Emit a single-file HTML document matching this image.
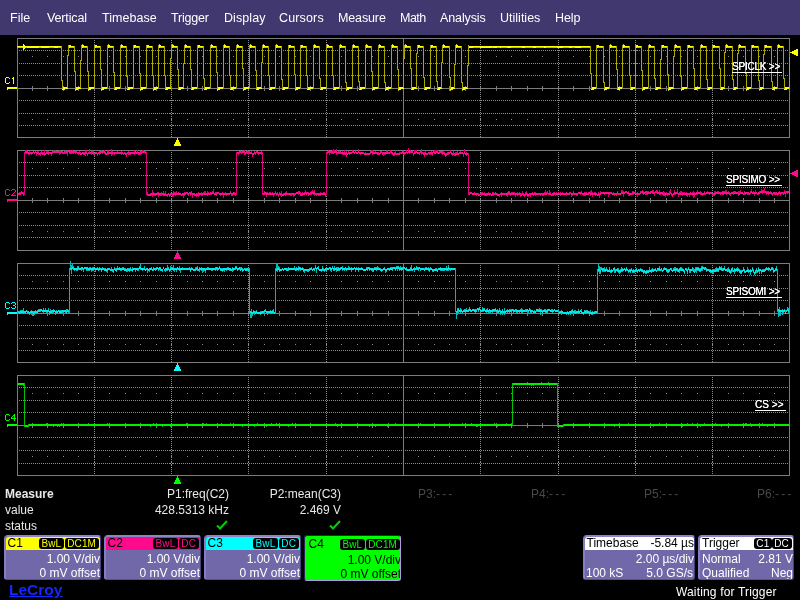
<!DOCTYPE html>
<html><head><meta charset="utf-8"><title>LeCroy</title>
<style>
html,body{margin:0;padding:0;background:#000;}
body{width:800px;height:600px;position:relative;overflow:hidden;font-family:"Liberation Sans",sans-serif;color:#fff;}
#menu{position:absolute;left:0;top:0;width:800px;height:35px;background:#40386e;}
#menu span{position:absolute;top:10px;font-size:12.5px;line-height:16px;color:#fff;white-space:nowrap;}
.lbl,.tl,.m,.ch,.tb,#menu span,.lc{will-change:transform}
.lbl{position:absolute;font-size:10px;line-height:12px;white-space:nowrap;letter-spacing:-0.4px}
.tl{position:absolute;font-size:10px;line-height:11px;color:#fff;text-shadow:0 0 0 #fff;letter-spacing:-0.22px;white-space:nowrap;border-bottom:1px solid #fff;padding-right:2px}
.m{position:absolute;font-size:12px;line-height:14px;white-space:nowrap;color:#e8e8e8}
.r{text-align:right;width:140px}
.g{color:#484848;word-spacing:-1.2px}
.ch{position:absolute;width:97px;height:45px;background:#7068a8;box-sizing:border-box;border-style:solid;border-width:2px 1px 1px 2px;border-color:#8c84c8 #484078 #585090 #867ec2;border-radius:4px 3px 3px 3px;overflow:hidden}
.ch.act{height:46px;border-width:1px;border-color:#2c2458 #b898e0 #b898e0 #2c2458;border-radius:3px}
.ch .in{position:absolute;left:0;top:0;width:94px;height:42px}
.ch.act .in{left:2px;top:2px}
.ch .hd{position:absolute;left:0;top:0;width:94px;height:13px;border-radius:2px 2px 0 0}
.ch .hd i{position:absolute;left:1.5px;top:-1px;font-style:normal;font-size:12px;line-height:14px;color:#000}
.tg{position:absolute;right:1.5px;top:1px;height:11px;white-space:nowrap;font-size:0}
.tg b{display:inline-block;background:#000;font-weight:normal;font-size:10px;line-height:11px;height:11px;padding:0 2.5px;border-radius:3px;margin-left:1px;letter-spacing:0.1px}
.ch .ln{position:absolute;right:0;font-size:12px;line-height:14px;color:#fff;white-space:nowrap}
.ch .ln:nth-child(2){top:14.5px} .ch .ln:nth-child(3){top:29px}
.tb{position:absolute;top:535px;height:45px;background:#7068a8;box-sizing:border-box;border-style:solid;border-width:2px 1px 1px 2px;border-color:#8c84c8 #484078 #585090 #867ec2;border-radius:4px 3px 3px 3px;overflow:hidden;font-size:12px;line-height:14px;color:#fff}
.tb .hd{position:absolute;left:0;top:0;right:0;height:13px;background:#fff;color:#000;border-radius:2px 2px 0 0}
.tb span{position:absolute;white-space:nowrap}
.tb .k{background:#000;color:#fff;font-size:10px;line-height:11px;height:11px;padding:0 2.5px;border-radius:3px;top:1px;letter-spacing:0.2px}
</style></head><body>
<div id="menu"><span style="left:9.56px;letter-spacing:0.03px">File</span><span style="left:46.87px;letter-spacing:-0.13px">Vertical</span><span style="left:101.56px;letter-spacing:0.04px">Timebase</span><span style="left:171.3px;letter-spacing:-0.19px">Trigger</span><span style="left:223.56px;letter-spacing:0.08px">Display</span><span style="left:279.0px;letter-spacing:0.15px">Cursors</span><span style="left:337.84px;letter-spacing:-0.13px">Measure</span><span style="left:399.84px;letter-spacing:-0.52px">Math</span><span style="left:439.93px;letter-spacing:-0.11px">Analysis</span><span style="left:499.79px;letter-spacing:0.01px">Utilities</span><span style="left:554.82px;letter-spacing:-0.07px">Help</span></div>
<svg width="800" height="600" viewBox="0 0 800 600" style="position:absolute;left:0;top:0" shape-rendering="crispEdges"><rect x="17" y="38" width="773" height="1" fill="#7c7c7c"/>
<rect x="17" y="137" width="773" height="1" fill="#7c7c7c"/>
<rect x="17" y="38" width="1" height="100" fill="#7c7c7c"/>
<rect x="789" y="38" width="1" height="100" fill="#7c7c7c"/>
<rect x="17" y="88" width="772" height="1" fill="#7c7c7c"/>
<rect x="403" y="38" width="1" height="99" fill="#7c7c7c"/>
<rect x="32" y="86" width="1" height="5" fill="#7c7c7c"/>
<rect x="47" y="86" width="1" height="5" fill="#7c7c7c"/>
<rect x="63" y="86" width="1" height="5" fill="#7c7c7c"/>
<rect x="78" y="86" width="1" height="5" fill="#7c7c7c"/>
<rect x="94" y="86" width="1" height="5" fill="#7c7c7c"/>
<rect x="109" y="86" width="1" height="5" fill="#7c7c7c"/>
<rect x="125" y="86" width="1" height="5" fill="#7c7c7c"/>
<rect x="140" y="86" width="1" height="5" fill="#7c7c7c"/>
<rect x="156" y="86" width="1" height="5" fill="#7c7c7c"/>
<rect x="171" y="86" width="1" height="5" fill="#7c7c7c"/>
<rect x="187" y="86" width="1" height="5" fill="#7c7c7c"/>
<rect x="202" y="86" width="1" height="5" fill="#7c7c7c"/>
<rect x="217" y="86" width="1" height="5" fill="#7c7c7c"/>
<rect x="233" y="86" width="1" height="5" fill="#7c7c7c"/>
<rect x="248" y="86" width="1" height="5" fill="#7c7c7c"/>
<rect x="264" y="86" width="1" height="5" fill="#7c7c7c"/>
<rect x="279" y="86" width="1" height="5" fill="#7c7c7c"/>
<rect x="295" y="86" width="1" height="5" fill="#7c7c7c"/>
<rect x="310" y="86" width="1" height="5" fill="#7c7c7c"/>
<rect x="326" y="86" width="1" height="5" fill="#7c7c7c"/>
<rect x="341" y="86" width="1" height="5" fill="#7c7c7c"/>
<rect x="357" y="86" width="1" height="5" fill="#7c7c7c"/>
<rect x="372" y="86" width="1" height="5" fill="#7c7c7c"/>
<rect x="388" y="86" width="1" height="5" fill="#7c7c7c"/>
<rect x="403" y="86" width="1" height="5" fill="#7c7c7c"/>
<rect x="418" y="86" width="1" height="5" fill="#7c7c7c"/>
<rect x="434" y="86" width="1" height="5" fill="#7c7c7c"/>
<rect x="449" y="86" width="1" height="5" fill="#7c7c7c"/>
<rect x="465" y="86" width="1" height="5" fill="#7c7c7c"/>
<rect x="480" y="86" width="1" height="5" fill="#7c7c7c"/>
<rect x="496" y="86" width="1" height="5" fill="#7c7c7c"/>
<rect x="511" y="86" width="1" height="5" fill="#7c7c7c"/>
<rect x="527" y="86" width="1" height="5" fill="#7c7c7c"/>
<rect x="542" y="86" width="1" height="5" fill="#7c7c7c"/>
<rect x="558" y="86" width="1" height="5" fill="#7c7c7c"/>
<rect x="573" y="86" width="1" height="5" fill="#7c7c7c"/>
<rect x="589" y="86" width="1" height="5" fill="#7c7c7c"/>
<rect x="604" y="86" width="1" height="5" fill="#7c7c7c"/>
<rect x="619" y="86" width="1" height="5" fill="#7c7c7c"/>
<rect x="635" y="86" width="1" height="5" fill="#7c7c7c"/>
<rect x="650" y="86" width="1" height="5" fill="#7c7c7c"/>
<rect x="666" y="86" width="1" height="5" fill="#7c7c7c"/>
<rect x="681" y="86" width="1" height="5" fill="#7c7c7c"/>
<rect x="697" y="86" width="1" height="5" fill="#7c7c7c"/>
<rect x="712" y="86" width="1" height="5" fill="#7c7c7c"/>
<rect x="728" y="86" width="1" height="5" fill="#7c7c7c"/>
<rect x="743" y="86" width="1" height="5" fill="#7c7c7c"/>
<rect x="759" y="86" width="1" height="5" fill="#7c7c7c"/>
<rect x="774" y="86" width="1" height="5" fill="#7c7c7c"/>
<line x1="19" y1="50.5" x2="789" y2="50.5" stroke="#8c8c8c" stroke-width="1" stroke-dasharray="1 1"/>
<line x1="19" y1="63.5" x2="789" y2="63.5" stroke="#8c8c8c" stroke-width="1" stroke-dasharray="1 1"/>
<line x1="19" y1="75.5" x2="789" y2="75.5" stroke="#8c8c8c" stroke-width="1" stroke-dasharray="1 1"/>
<line x1="19" y1="100.5" x2="789" y2="100.5" stroke="#8c8c8c" stroke-width="1" stroke-dasharray="1 1"/>
<line x1="19" y1="113.5" x2="789" y2="113.5" stroke="#8c8c8c" stroke-width="1" stroke-dasharray="1 1"/>
<line x1="19" y1="125.5" x2="789" y2="125.5" stroke="#8c8c8c" stroke-width="1" stroke-dasharray="1 1"/>
<line x1="94.5" y1="40" x2="94.5" y2="137" stroke="#8c8c8c" stroke-width="1" stroke-dasharray="1 1"/>
<rect x="93" y="50" width="3" height="1" fill="#8c8c8c"/>
<rect x="93" y="63" width="3" height="1" fill="#8c8c8c"/>
<rect x="94" y="62" width="1" height="3" fill="#8c8c8c"/>
<rect x="94" y="63" width="1" height="1" fill="#000"/>
<rect x="93" y="75" width="3" height="1" fill="#8c8c8c"/>
<rect x="94" y="74" width="1" height="3" fill="#8c8c8c"/>
<rect x="94" y="75" width="1" height="1" fill="#000"/>
<rect x="93" y="100" width="3" height="1" fill="#8c8c8c"/>
<rect x="93" y="113" width="3" height="1" fill="#8c8c8c"/>
<rect x="94" y="112" width="1" height="3" fill="#8c8c8c"/>
<rect x="94" y="113" width="1" height="1" fill="#000"/>
<rect x="93" y="125" width="3" height="1" fill="#8c8c8c"/>
<rect x="94" y="124" width="1" height="3" fill="#8c8c8c"/>
<rect x="94" y="125" width="1" height="1" fill="#000"/>
<line x1="171.5" y1="40" x2="171.5" y2="137" stroke="#8c8c8c" stroke-width="1" stroke-dasharray="1 1"/>
<rect x="170" y="50" width="3" height="1" fill="#8c8c8c"/>
<rect x="170" y="63" width="3" height="1" fill="#8c8c8c"/>
<rect x="171" y="62" width="1" height="3" fill="#8c8c8c"/>
<rect x="171" y="63" width="1" height="1" fill="#000"/>
<rect x="170" y="75" width="3" height="1" fill="#8c8c8c"/>
<rect x="171" y="74" width="1" height="3" fill="#8c8c8c"/>
<rect x="171" y="75" width="1" height="1" fill="#000"/>
<rect x="170" y="100" width="3" height="1" fill="#8c8c8c"/>
<rect x="170" y="113" width="3" height="1" fill="#8c8c8c"/>
<rect x="171" y="112" width="1" height="3" fill="#8c8c8c"/>
<rect x="171" y="113" width="1" height="1" fill="#000"/>
<rect x="170" y="125" width="3" height="1" fill="#8c8c8c"/>
<rect x="171" y="124" width="1" height="3" fill="#8c8c8c"/>
<rect x="171" y="125" width="1" height="1" fill="#000"/>
<line x1="248.5" y1="40" x2="248.5" y2="137" stroke="#8c8c8c" stroke-width="1" stroke-dasharray="1 1"/>
<rect x="247" y="50" width="3" height="1" fill="#8c8c8c"/>
<rect x="247" y="63" width="3" height="1" fill="#8c8c8c"/>
<rect x="248" y="62" width="1" height="3" fill="#8c8c8c"/>
<rect x="248" y="63" width="1" height="1" fill="#000"/>
<rect x="247" y="75" width="3" height="1" fill="#8c8c8c"/>
<rect x="248" y="74" width="1" height="3" fill="#8c8c8c"/>
<rect x="248" y="75" width="1" height="1" fill="#000"/>
<rect x="247" y="100" width="3" height="1" fill="#8c8c8c"/>
<rect x="247" y="113" width="3" height="1" fill="#8c8c8c"/>
<rect x="248" y="112" width="1" height="3" fill="#8c8c8c"/>
<rect x="248" y="113" width="1" height="1" fill="#000"/>
<rect x="247" y="125" width="3" height="1" fill="#8c8c8c"/>
<rect x="248" y="124" width="1" height="3" fill="#8c8c8c"/>
<rect x="248" y="125" width="1" height="1" fill="#000"/>
<line x1="326.5" y1="40" x2="326.5" y2="137" stroke="#8c8c8c" stroke-width="1" stroke-dasharray="1 1"/>
<rect x="325" y="50" width="3" height="1" fill="#8c8c8c"/>
<rect x="325" y="63" width="3" height="1" fill="#8c8c8c"/>
<rect x="326" y="62" width="1" height="3" fill="#8c8c8c"/>
<rect x="326" y="63" width="1" height="1" fill="#000"/>
<rect x="325" y="75" width="3" height="1" fill="#8c8c8c"/>
<rect x="326" y="74" width="1" height="3" fill="#8c8c8c"/>
<rect x="326" y="75" width="1" height="1" fill="#000"/>
<rect x="325" y="100" width="3" height="1" fill="#8c8c8c"/>
<rect x="325" y="113" width="3" height="1" fill="#8c8c8c"/>
<rect x="326" y="112" width="1" height="3" fill="#8c8c8c"/>
<rect x="326" y="113" width="1" height="1" fill="#000"/>
<rect x="325" y="125" width="3" height="1" fill="#8c8c8c"/>
<rect x="326" y="124" width="1" height="3" fill="#8c8c8c"/>
<rect x="326" y="125" width="1" height="1" fill="#000"/>
<line x1="480.5" y1="40" x2="480.5" y2="137" stroke="#8c8c8c" stroke-width="1" stroke-dasharray="1 1"/>
<rect x="479" y="50" width="3" height="1" fill="#8c8c8c"/>
<rect x="479" y="63" width="3" height="1" fill="#8c8c8c"/>
<rect x="480" y="62" width="1" height="3" fill="#8c8c8c"/>
<rect x="480" y="63" width="1" height="1" fill="#000"/>
<rect x="479" y="75" width="3" height="1" fill="#8c8c8c"/>
<rect x="480" y="74" width="1" height="3" fill="#8c8c8c"/>
<rect x="480" y="75" width="1" height="1" fill="#000"/>
<rect x="479" y="100" width="3" height="1" fill="#8c8c8c"/>
<rect x="479" y="113" width="3" height="1" fill="#8c8c8c"/>
<rect x="480" y="112" width="1" height="3" fill="#8c8c8c"/>
<rect x="480" y="113" width="1" height="1" fill="#000"/>
<rect x="479" y="125" width="3" height="1" fill="#8c8c8c"/>
<rect x="480" y="124" width="1" height="3" fill="#8c8c8c"/>
<rect x="480" y="125" width="1" height="1" fill="#000"/>
<line x1="558.5" y1="40" x2="558.5" y2="137" stroke="#8c8c8c" stroke-width="1" stroke-dasharray="1 1"/>
<rect x="557" y="50" width="3" height="1" fill="#8c8c8c"/>
<rect x="557" y="63" width="3" height="1" fill="#8c8c8c"/>
<rect x="558" y="62" width="1" height="3" fill="#8c8c8c"/>
<rect x="558" y="63" width="1" height="1" fill="#000"/>
<rect x="557" y="75" width="3" height="1" fill="#8c8c8c"/>
<rect x="558" y="74" width="1" height="3" fill="#8c8c8c"/>
<rect x="558" y="75" width="1" height="1" fill="#000"/>
<rect x="557" y="100" width="3" height="1" fill="#8c8c8c"/>
<rect x="557" y="113" width="3" height="1" fill="#8c8c8c"/>
<rect x="558" y="112" width="1" height="3" fill="#8c8c8c"/>
<rect x="558" y="113" width="1" height="1" fill="#000"/>
<rect x="557" y="125" width="3" height="1" fill="#8c8c8c"/>
<rect x="558" y="124" width="1" height="3" fill="#8c8c8c"/>
<rect x="558" y="125" width="1" height="1" fill="#000"/>
<line x1="635.5" y1="40" x2="635.5" y2="137" stroke="#8c8c8c" stroke-width="1" stroke-dasharray="1 1"/>
<rect x="634" y="50" width="3" height="1" fill="#8c8c8c"/>
<rect x="634" y="63" width="3" height="1" fill="#8c8c8c"/>
<rect x="635" y="62" width="1" height="3" fill="#8c8c8c"/>
<rect x="635" y="63" width="1" height="1" fill="#000"/>
<rect x="634" y="75" width="3" height="1" fill="#8c8c8c"/>
<rect x="635" y="74" width="1" height="3" fill="#8c8c8c"/>
<rect x="635" y="75" width="1" height="1" fill="#000"/>
<rect x="634" y="100" width="3" height="1" fill="#8c8c8c"/>
<rect x="634" y="113" width="3" height="1" fill="#8c8c8c"/>
<rect x="635" y="112" width="1" height="3" fill="#8c8c8c"/>
<rect x="635" y="113" width="1" height="1" fill="#000"/>
<rect x="634" y="125" width="3" height="1" fill="#8c8c8c"/>
<rect x="635" y="124" width="1" height="3" fill="#8c8c8c"/>
<rect x="635" y="125" width="1" height="1" fill="#000"/>
<line x1="712.5" y1="40" x2="712.5" y2="137" stroke="#8c8c8c" stroke-width="1" stroke-dasharray="1 1"/>
<rect x="711" y="50" width="3" height="1" fill="#8c8c8c"/>
<rect x="711" y="63" width="3" height="1" fill="#8c8c8c"/>
<rect x="712" y="62" width="1" height="3" fill="#8c8c8c"/>
<rect x="712" y="63" width="1" height="1" fill="#000"/>
<rect x="711" y="75" width="3" height="1" fill="#8c8c8c"/>
<rect x="712" y="74" width="1" height="3" fill="#8c8c8c"/>
<rect x="712" y="75" width="1" height="1" fill="#000"/>
<rect x="711" y="100" width="3" height="1" fill="#8c8c8c"/>
<rect x="711" y="113" width="3" height="1" fill="#8c8c8c"/>
<rect x="712" y="112" width="1" height="3" fill="#8c8c8c"/>
<rect x="712" y="113" width="1" height="1" fill="#000"/>
<rect x="711" y="125" width="3" height="1" fill="#8c8c8c"/>
<rect x="712" y="124" width="1" height="3" fill="#8c8c8c"/>
<rect x="712" y="125" width="1" height="1" fill="#000"/>
<rect x="32" y="56" width="1" height="1" fill="#8c8c8c"/>
<rect x="47" y="56" width="1" height="1" fill="#8c8c8c"/>
<rect x="63" y="56" width="1" height="1" fill="#8c8c8c"/>
<rect x="78" y="56" width="1" height="1" fill="#8c8c8c"/>
<rect x="94" y="56" width="1" height="1" fill="#8c8c8c"/>
<rect x="109" y="56" width="1" height="1" fill="#8c8c8c"/>
<rect x="125" y="56" width="1" height="1" fill="#8c8c8c"/>
<rect x="140" y="56" width="1" height="1" fill="#8c8c8c"/>
<rect x="156" y="56" width="1" height="1" fill="#8c8c8c"/>
<rect x="171" y="56" width="1" height="1" fill="#8c8c8c"/>
<rect x="187" y="56" width="1" height="1" fill="#8c8c8c"/>
<rect x="202" y="56" width="1" height="1" fill="#8c8c8c"/>
<rect x="217" y="56" width="1" height="1" fill="#8c8c8c"/>
<rect x="233" y="56" width="1" height="1" fill="#8c8c8c"/>
<rect x="248" y="56" width="1" height="1" fill="#8c8c8c"/>
<rect x="264" y="56" width="1" height="1" fill="#8c8c8c"/>
<rect x="279" y="56" width="1" height="1" fill="#8c8c8c"/>
<rect x="295" y="56" width="1" height="1" fill="#8c8c8c"/>
<rect x="310" y="56" width="1" height="1" fill="#8c8c8c"/>
<rect x="326" y="56" width="1" height="1" fill="#8c8c8c"/>
<rect x="341" y="56" width="1" height="1" fill="#8c8c8c"/>
<rect x="357" y="56" width="1" height="1" fill="#8c8c8c"/>
<rect x="372" y="56" width="1" height="1" fill="#8c8c8c"/>
<rect x="388" y="56" width="1" height="1" fill="#8c8c8c"/>
<rect x="403" y="56" width="1" height="1" fill="#8c8c8c"/>
<rect x="418" y="56" width="1" height="1" fill="#8c8c8c"/>
<rect x="434" y="56" width="1" height="1" fill="#8c8c8c"/>
<rect x="449" y="56" width="1" height="1" fill="#8c8c8c"/>
<rect x="465" y="56" width="1" height="1" fill="#8c8c8c"/>
<rect x="480" y="56" width="1" height="1" fill="#8c8c8c"/>
<rect x="496" y="56" width="1" height="1" fill="#8c8c8c"/>
<rect x="511" y="56" width="1" height="1" fill="#8c8c8c"/>
<rect x="527" y="56" width="1" height="1" fill="#8c8c8c"/>
<rect x="542" y="56" width="1" height="1" fill="#8c8c8c"/>
<rect x="558" y="56" width="1" height="1" fill="#8c8c8c"/>
<rect x="573" y="56" width="1" height="1" fill="#8c8c8c"/>
<rect x="589" y="56" width="1" height="1" fill="#8c8c8c"/>
<rect x="604" y="56" width="1" height="1" fill="#8c8c8c"/>
<rect x="619" y="56" width="1" height="1" fill="#8c8c8c"/>
<rect x="635" y="56" width="1" height="1" fill="#8c8c8c"/>
<rect x="650" y="56" width="1" height="1" fill="#8c8c8c"/>
<rect x="666" y="56" width="1" height="1" fill="#8c8c8c"/>
<rect x="681" y="56" width="1" height="1" fill="#8c8c8c"/>
<rect x="697" y="56" width="1" height="1" fill="#8c8c8c"/>
<rect x="712" y="56" width="1" height="1" fill="#8c8c8c"/>
<rect x="728" y="56" width="1" height="1" fill="#8c8c8c"/>
<rect x="743" y="56" width="1" height="1" fill="#8c8c8c"/>
<rect x="759" y="56" width="1" height="1" fill="#8c8c8c"/>
<rect x="774" y="56" width="1" height="1" fill="#8c8c8c"/>
<rect x="32" y="119" width="1" height="1" fill="#8c8c8c"/>
<rect x="47" y="119" width="1" height="1" fill="#8c8c8c"/>
<rect x="63" y="119" width="1" height="1" fill="#8c8c8c"/>
<rect x="78" y="119" width="1" height="1" fill="#8c8c8c"/>
<rect x="94" y="119" width="1" height="1" fill="#8c8c8c"/>
<rect x="109" y="119" width="1" height="1" fill="#8c8c8c"/>
<rect x="125" y="119" width="1" height="1" fill="#8c8c8c"/>
<rect x="140" y="119" width="1" height="1" fill="#8c8c8c"/>
<rect x="156" y="119" width="1" height="1" fill="#8c8c8c"/>
<rect x="171" y="119" width="1" height="1" fill="#8c8c8c"/>
<rect x="187" y="119" width="1" height="1" fill="#8c8c8c"/>
<rect x="202" y="119" width="1" height="1" fill="#8c8c8c"/>
<rect x="217" y="119" width="1" height="1" fill="#8c8c8c"/>
<rect x="233" y="119" width="1" height="1" fill="#8c8c8c"/>
<rect x="248" y="119" width="1" height="1" fill="#8c8c8c"/>
<rect x="264" y="119" width="1" height="1" fill="#8c8c8c"/>
<rect x="279" y="119" width="1" height="1" fill="#8c8c8c"/>
<rect x="295" y="119" width="1" height="1" fill="#8c8c8c"/>
<rect x="310" y="119" width="1" height="1" fill="#8c8c8c"/>
<rect x="326" y="119" width="1" height="1" fill="#8c8c8c"/>
<rect x="341" y="119" width="1" height="1" fill="#8c8c8c"/>
<rect x="357" y="119" width="1" height="1" fill="#8c8c8c"/>
<rect x="372" y="119" width="1" height="1" fill="#8c8c8c"/>
<rect x="388" y="119" width="1" height="1" fill="#8c8c8c"/>
<rect x="403" y="119" width="1" height="1" fill="#8c8c8c"/>
<rect x="418" y="119" width="1" height="1" fill="#8c8c8c"/>
<rect x="434" y="119" width="1" height="1" fill="#8c8c8c"/>
<rect x="449" y="119" width="1" height="1" fill="#8c8c8c"/>
<rect x="465" y="119" width="1" height="1" fill="#8c8c8c"/>
<rect x="480" y="119" width="1" height="1" fill="#8c8c8c"/>
<rect x="496" y="119" width="1" height="1" fill="#8c8c8c"/>
<rect x="511" y="119" width="1" height="1" fill="#8c8c8c"/>
<rect x="527" y="119" width="1" height="1" fill="#8c8c8c"/>
<rect x="542" y="119" width="1" height="1" fill="#8c8c8c"/>
<rect x="558" y="119" width="1" height="1" fill="#8c8c8c"/>
<rect x="573" y="119" width="1" height="1" fill="#8c8c8c"/>
<rect x="589" y="119" width="1" height="1" fill="#8c8c8c"/>
<rect x="604" y="119" width="1" height="1" fill="#8c8c8c"/>
<rect x="619" y="119" width="1" height="1" fill="#8c8c8c"/>
<rect x="635" y="119" width="1" height="1" fill="#8c8c8c"/>
<rect x="650" y="119" width="1" height="1" fill="#8c8c8c"/>
<rect x="666" y="119" width="1" height="1" fill="#8c8c8c"/>
<rect x="681" y="119" width="1" height="1" fill="#8c8c8c"/>
<rect x="697" y="119" width="1" height="1" fill="#8c8c8c"/>
<rect x="712" y="119" width="1" height="1" fill="#8c8c8c"/>
<rect x="728" y="119" width="1" height="1" fill="#8c8c8c"/>
<rect x="743" y="119" width="1" height="1" fill="#8c8c8c"/>
<rect x="759" y="119" width="1" height="1" fill="#8c8c8c"/>
<rect x="774" y="119" width="1" height="1" fill="#8c8c8c"/>
<rect x="17" y="150" width="773" height="1" fill="#7c7c7c"/>
<rect x="17" y="250" width="773" height="1" fill="#7c7c7c"/>
<rect x="17" y="150" width="1" height="101" fill="#7c7c7c"/>
<rect x="789" y="150" width="1" height="101" fill="#7c7c7c"/>
<rect x="17" y="200" width="772" height="1" fill="#7c7c7c"/>
<rect x="403" y="150" width="1" height="100" fill="#7c7c7c"/>
<rect x="32" y="198" width="1" height="5" fill="#7c7c7c"/>
<rect x="47" y="198" width="1" height="5" fill="#7c7c7c"/>
<rect x="63" y="198" width="1" height="5" fill="#7c7c7c"/>
<rect x="78" y="198" width="1" height="5" fill="#7c7c7c"/>
<rect x="94" y="198" width="1" height="5" fill="#7c7c7c"/>
<rect x="109" y="198" width="1" height="5" fill="#7c7c7c"/>
<rect x="125" y="198" width="1" height="5" fill="#7c7c7c"/>
<rect x="140" y="198" width="1" height="5" fill="#7c7c7c"/>
<rect x="156" y="198" width="1" height="5" fill="#7c7c7c"/>
<rect x="171" y="198" width="1" height="5" fill="#7c7c7c"/>
<rect x="187" y="198" width="1" height="5" fill="#7c7c7c"/>
<rect x="202" y="198" width="1" height="5" fill="#7c7c7c"/>
<rect x="217" y="198" width="1" height="5" fill="#7c7c7c"/>
<rect x="233" y="198" width="1" height="5" fill="#7c7c7c"/>
<rect x="248" y="198" width="1" height="5" fill="#7c7c7c"/>
<rect x="264" y="198" width="1" height="5" fill="#7c7c7c"/>
<rect x="279" y="198" width="1" height="5" fill="#7c7c7c"/>
<rect x="295" y="198" width="1" height="5" fill="#7c7c7c"/>
<rect x="310" y="198" width="1" height="5" fill="#7c7c7c"/>
<rect x="326" y="198" width="1" height="5" fill="#7c7c7c"/>
<rect x="341" y="198" width="1" height="5" fill="#7c7c7c"/>
<rect x="357" y="198" width="1" height="5" fill="#7c7c7c"/>
<rect x="372" y="198" width="1" height="5" fill="#7c7c7c"/>
<rect x="388" y="198" width="1" height="5" fill="#7c7c7c"/>
<rect x="403" y="198" width="1" height="5" fill="#7c7c7c"/>
<rect x="418" y="198" width="1" height="5" fill="#7c7c7c"/>
<rect x="434" y="198" width="1" height="5" fill="#7c7c7c"/>
<rect x="449" y="198" width="1" height="5" fill="#7c7c7c"/>
<rect x="465" y="198" width="1" height="5" fill="#7c7c7c"/>
<rect x="480" y="198" width="1" height="5" fill="#7c7c7c"/>
<rect x="496" y="198" width="1" height="5" fill="#7c7c7c"/>
<rect x="511" y="198" width="1" height="5" fill="#7c7c7c"/>
<rect x="527" y="198" width="1" height="5" fill="#7c7c7c"/>
<rect x="542" y="198" width="1" height="5" fill="#7c7c7c"/>
<rect x="558" y="198" width="1" height="5" fill="#7c7c7c"/>
<rect x="573" y="198" width="1" height="5" fill="#7c7c7c"/>
<rect x="589" y="198" width="1" height="5" fill="#7c7c7c"/>
<rect x="604" y="198" width="1" height="5" fill="#7c7c7c"/>
<rect x="619" y="198" width="1" height="5" fill="#7c7c7c"/>
<rect x="635" y="198" width="1" height="5" fill="#7c7c7c"/>
<rect x="650" y="198" width="1" height="5" fill="#7c7c7c"/>
<rect x="666" y="198" width="1" height="5" fill="#7c7c7c"/>
<rect x="681" y="198" width="1" height="5" fill="#7c7c7c"/>
<rect x="697" y="198" width="1" height="5" fill="#7c7c7c"/>
<rect x="712" y="198" width="1" height="5" fill="#7c7c7c"/>
<rect x="728" y="198" width="1" height="5" fill="#7c7c7c"/>
<rect x="743" y="198" width="1" height="5" fill="#7c7c7c"/>
<rect x="759" y="198" width="1" height="5" fill="#7c7c7c"/>
<rect x="774" y="198" width="1" height="5" fill="#7c7c7c"/>
<line x1="19" y1="162.5" x2="789" y2="162.5" stroke="#8c8c8c" stroke-width="1" stroke-dasharray="1 1"/>
<line x1="19" y1="175.5" x2="789" y2="175.5" stroke="#8c8c8c" stroke-width="1" stroke-dasharray="1 1"/>
<line x1="19" y1="187.5" x2="789" y2="187.5" stroke="#8c8c8c" stroke-width="1" stroke-dasharray="1 1"/>
<line x1="19" y1="212.5" x2="789" y2="212.5" stroke="#8c8c8c" stroke-width="1" stroke-dasharray="1 1"/>
<line x1="19" y1="225.5" x2="789" y2="225.5" stroke="#8c8c8c" stroke-width="1" stroke-dasharray="1 1"/>
<line x1="19" y1="237.5" x2="789" y2="237.5" stroke="#8c8c8c" stroke-width="1" stroke-dasharray="1 1"/>
<line x1="94.5" y1="152" x2="94.5" y2="250" stroke="#8c8c8c" stroke-width="1" stroke-dasharray="1 1"/>
<rect x="93" y="162" width="3" height="1" fill="#8c8c8c"/>
<rect x="93" y="175" width="3" height="1" fill="#8c8c8c"/>
<rect x="94" y="174" width="1" height="3" fill="#8c8c8c"/>
<rect x="94" y="175" width="1" height="1" fill="#000"/>
<rect x="93" y="187" width="3" height="1" fill="#8c8c8c"/>
<rect x="94" y="186" width="1" height="3" fill="#8c8c8c"/>
<rect x="94" y="187" width="1" height="1" fill="#000"/>
<rect x="93" y="212" width="3" height="1" fill="#8c8c8c"/>
<rect x="93" y="225" width="3" height="1" fill="#8c8c8c"/>
<rect x="94" y="224" width="1" height="3" fill="#8c8c8c"/>
<rect x="94" y="225" width="1" height="1" fill="#000"/>
<rect x="93" y="237" width="3" height="1" fill="#8c8c8c"/>
<rect x="94" y="236" width="1" height="3" fill="#8c8c8c"/>
<rect x="94" y="237" width="1" height="1" fill="#000"/>
<line x1="171.5" y1="152" x2="171.5" y2="250" stroke="#8c8c8c" stroke-width="1" stroke-dasharray="1 1"/>
<rect x="170" y="162" width="3" height="1" fill="#8c8c8c"/>
<rect x="170" y="175" width="3" height="1" fill="#8c8c8c"/>
<rect x="171" y="174" width="1" height="3" fill="#8c8c8c"/>
<rect x="171" y="175" width="1" height="1" fill="#000"/>
<rect x="170" y="187" width="3" height="1" fill="#8c8c8c"/>
<rect x="171" y="186" width="1" height="3" fill="#8c8c8c"/>
<rect x="171" y="187" width="1" height="1" fill="#000"/>
<rect x="170" y="212" width="3" height="1" fill="#8c8c8c"/>
<rect x="170" y="225" width="3" height="1" fill="#8c8c8c"/>
<rect x="171" y="224" width="1" height="3" fill="#8c8c8c"/>
<rect x="171" y="225" width="1" height="1" fill="#000"/>
<rect x="170" y="237" width="3" height="1" fill="#8c8c8c"/>
<rect x="171" y="236" width="1" height="3" fill="#8c8c8c"/>
<rect x="171" y="237" width="1" height="1" fill="#000"/>
<line x1="248.5" y1="152" x2="248.5" y2="250" stroke="#8c8c8c" stroke-width="1" stroke-dasharray="1 1"/>
<rect x="247" y="162" width="3" height="1" fill="#8c8c8c"/>
<rect x="247" y="175" width="3" height="1" fill="#8c8c8c"/>
<rect x="248" y="174" width="1" height="3" fill="#8c8c8c"/>
<rect x="248" y="175" width="1" height="1" fill="#000"/>
<rect x="247" y="187" width="3" height="1" fill="#8c8c8c"/>
<rect x="248" y="186" width="1" height="3" fill="#8c8c8c"/>
<rect x="248" y="187" width="1" height="1" fill="#000"/>
<rect x="247" y="212" width="3" height="1" fill="#8c8c8c"/>
<rect x="247" y="225" width="3" height="1" fill="#8c8c8c"/>
<rect x="248" y="224" width="1" height="3" fill="#8c8c8c"/>
<rect x="248" y="225" width="1" height="1" fill="#000"/>
<rect x="247" y="237" width="3" height="1" fill="#8c8c8c"/>
<rect x="248" y="236" width="1" height="3" fill="#8c8c8c"/>
<rect x="248" y="237" width="1" height="1" fill="#000"/>
<line x1="326.5" y1="152" x2="326.5" y2="250" stroke="#8c8c8c" stroke-width="1" stroke-dasharray="1 1"/>
<rect x="325" y="162" width="3" height="1" fill="#8c8c8c"/>
<rect x="325" y="175" width="3" height="1" fill="#8c8c8c"/>
<rect x="326" y="174" width="1" height="3" fill="#8c8c8c"/>
<rect x="326" y="175" width="1" height="1" fill="#000"/>
<rect x="325" y="187" width="3" height="1" fill="#8c8c8c"/>
<rect x="326" y="186" width="1" height="3" fill="#8c8c8c"/>
<rect x="326" y="187" width="1" height="1" fill="#000"/>
<rect x="325" y="212" width="3" height="1" fill="#8c8c8c"/>
<rect x="325" y="225" width="3" height="1" fill="#8c8c8c"/>
<rect x="326" y="224" width="1" height="3" fill="#8c8c8c"/>
<rect x="326" y="225" width="1" height="1" fill="#000"/>
<rect x="325" y="237" width="3" height="1" fill="#8c8c8c"/>
<rect x="326" y="236" width="1" height="3" fill="#8c8c8c"/>
<rect x="326" y="237" width="1" height="1" fill="#000"/>
<line x1="480.5" y1="152" x2="480.5" y2="250" stroke="#8c8c8c" stroke-width="1" stroke-dasharray="1 1"/>
<rect x="479" y="162" width="3" height="1" fill="#8c8c8c"/>
<rect x="479" y="175" width="3" height="1" fill="#8c8c8c"/>
<rect x="480" y="174" width="1" height="3" fill="#8c8c8c"/>
<rect x="480" y="175" width="1" height="1" fill="#000"/>
<rect x="479" y="187" width="3" height="1" fill="#8c8c8c"/>
<rect x="480" y="186" width="1" height="3" fill="#8c8c8c"/>
<rect x="480" y="187" width="1" height="1" fill="#000"/>
<rect x="479" y="212" width="3" height="1" fill="#8c8c8c"/>
<rect x="479" y="225" width="3" height="1" fill="#8c8c8c"/>
<rect x="480" y="224" width="1" height="3" fill="#8c8c8c"/>
<rect x="480" y="225" width="1" height="1" fill="#000"/>
<rect x="479" y="237" width="3" height="1" fill="#8c8c8c"/>
<rect x="480" y="236" width="1" height="3" fill="#8c8c8c"/>
<rect x="480" y="237" width="1" height="1" fill="#000"/>
<line x1="558.5" y1="152" x2="558.5" y2="250" stroke="#8c8c8c" stroke-width="1" stroke-dasharray="1 1"/>
<rect x="557" y="162" width="3" height="1" fill="#8c8c8c"/>
<rect x="557" y="175" width="3" height="1" fill="#8c8c8c"/>
<rect x="558" y="174" width="1" height="3" fill="#8c8c8c"/>
<rect x="558" y="175" width="1" height="1" fill="#000"/>
<rect x="557" y="187" width="3" height="1" fill="#8c8c8c"/>
<rect x="558" y="186" width="1" height="3" fill="#8c8c8c"/>
<rect x="558" y="187" width="1" height="1" fill="#000"/>
<rect x="557" y="212" width="3" height="1" fill="#8c8c8c"/>
<rect x="557" y="225" width="3" height="1" fill="#8c8c8c"/>
<rect x="558" y="224" width="1" height="3" fill="#8c8c8c"/>
<rect x="558" y="225" width="1" height="1" fill="#000"/>
<rect x="557" y="237" width="3" height="1" fill="#8c8c8c"/>
<rect x="558" y="236" width="1" height="3" fill="#8c8c8c"/>
<rect x="558" y="237" width="1" height="1" fill="#000"/>
<line x1="635.5" y1="152" x2="635.5" y2="250" stroke="#8c8c8c" stroke-width="1" stroke-dasharray="1 1"/>
<rect x="634" y="162" width="3" height="1" fill="#8c8c8c"/>
<rect x="634" y="175" width="3" height="1" fill="#8c8c8c"/>
<rect x="635" y="174" width="1" height="3" fill="#8c8c8c"/>
<rect x="635" y="175" width="1" height="1" fill="#000"/>
<rect x="634" y="187" width="3" height="1" fill="#8c8c8c"/>
<rect x="635" y="186" width="1" height="3" fill="#8c8c8c"/>
<rect x="635" y="187" width="1" height="1" fill="#000"/>
<rect x="634" y="212" width="3" height="1" fill="#8c8c8c"/>
<rect x="634" y="225" width="3" height="1" fill="#8c8c8c"/>
<rect x="635" y="224" width="1" height="3" fill="#8c8c8c"/>
<rect x="635" y="225" width="1" height="1" fill="#000"/>
<rect x="634" y="237" width="3" height="1" fill="#8c8c8c"/>
<rect x="635" y="236" width="1" height="3" fill="#8c8c8c"/>
<rect x="635" y="237" width="1" height="1" fill="#000"/>
<line x1="712.5" y1="152" x2="712.5" y2="250" stroke="#8c8c8c" stroke-width="1" stroke-dasharray="1 1"/>
<rect x="711" y="162" width="3" height="1" fill="#8c8c8c"/>
<rect x="711" y="175" width="3" height="1" fill="#8c8c8c"/>
<rect x="712" y="174" width="1" height="3" fill="#8c8c8c"/>
<rect x="712" y="175" width="1" height="1" fill="#000"/>
<rect x="711" y="187" width="3" height="1" fill="#8c8c8c"/>
<rect x="712" y="186" width="1" height="3" fill="#8c8c8c"/>
<rect x="712" y="187" width="1" height="1" fill="#000"/>
<rect x="711" y="212" width="3" height="1" fill="#8c8c8c"/>
<rect x="711" y="225" width="3" height="1" fill="#8c8c8c"/>
<rect x="712" y="224" width="1" height="3" fill="#8c8c8c"/>
<rect x="712" y="225" width="1" height="1" fill="#000"/>
<rect x="711" y="237" width="3" height="1" fill="#8c8c8c"/>
<rect x="712" y="236" width="1" height="3" fill="#8c8c8c"/>
<rect x="712" y="237" width="1" height="1" fill="#000"/>
<rect x="32" y="168" width="1" height="1" fill="#8c8c8c"/>
<rect x="47" y="168" width="1" height="1" fill="#8c8c8c"/>
<rect x="63" y="168" width="1" height="1" fill="#8c8c8c"/>
<rect x="78" y="168" width="1" height="1" fill="#8c8c8c"/>
<rect x="94" y="168" width="1" height="1" fill="#8c8c8c"/>
<rect x="109" y="168" width="1" height="1" fill="#8c8c8c"/>
<rect x="125" y="168" width="1" height="1" fill="#8c8c8c"/>
<rect x="140" y="168" width="1" height="1" fill="#8c8c8c"/>
<rect x="156" y="168" width="1" height="1" fill="#8c8c8c"/>
<rect x="171" y="168" width="1" height="1" fill="#8c8c8c"/>
<rect x="187" y="168" width="1" height="1" fill="#8c8c8c"/>
<rect x="202" y="168" width="1" height="1" fill="#8c8c8c"/>
<rect x="217" y="168" width="1" height="1" fill="#8c8c8c"/>
<rect x="233" y="168" width="1" height="1" fill="#8c8c8c"/>
<rect x="248" y="168" width="1" height="1" fill="#8c8c8c"/>
<rect x="264" y="168" width="1" height="1" fill="#8c8c8c"/>
<rect x="279" y="168" width="1" height="1" fill="#8c8c8c"/>
<rect x="295" y="168" width="1" height="1" fill="#8c8c8c"/>
<rect x="310" y="168" width="1" height="1" fill="#8c8c8c"/>
<rect x="326" y="168" width="1" height="1" fill="#8c8c8c"/>
<rect x="341" y="168" width="1" height="1" fill="#8c8c8c"/>
<rect x="357" y="168" width="1" height="1" fill="#8c8c8c"/>
<rect x="372" y="168" width="1" height="1" fill="#8c8c8c"/>
<rect x="388" y="168" width="1" height="1" fill="#8c8c8c"/>
<rect x="403" y="168" width="1" height="1" fill="#8c8c8c"/>
<rect x="418" y="168" width="1" height="1" fill="#8c8c8c"/>
<rect x="434" y="168" width="1" height="1" fill="#8c8c8c"/>
<rect x="449" y="168" width="1" height="1" fill="#8c8c8c"/>
<rect x="465" y="168" width="1" height="1" fill="#8c8c8c"/>
<rect x="480" y="168" width="1" height="1" fill="#8c8c8c"/>
<rect x="496" y="168" width="1" height="1" fill="#8c8c8c"/>
<rect x="511" y="168" width="1" height="1" fill="#8c8c8c"/>
<rect x="527" y="168" width="1" height="1" fill="#8c8c8c"/>
<rect x="542" y="168" width="1" height="1" fill="#8c8c8c"/>
<rect x="558" y="168" width="1" height="1" fill="#8c8c8c"/>
<rect x="573" y="168" width="1" height="1" fill="#8c8c8c"/>
<rect x="589" y="168" width="1" height="1" fill="#8c8c8c"/>
<rect x="604" y="168" width="1" height="1" fill="#8c8c8c"/>
<rect x="619" y="168" width="1" height="1" fill="#8c8c8c"/>
<rect x="635" y="168" width="1" height="1" fill="#8c8c8c"/>
<rect x="650" y="168" width="1" height="1" fill="#8c8c8c"/>
<rect x="666" y="168" width="1" height="1" fill="#8c8c8c"/>
<rect x="681" y="168" width="1" height="1" fill="#8c8c8c"/>
<rect x="697" y="168" width="1" height="1" fill="#8c8c8c"/>
<rect x="712" y="168" width="1" height="1" fill="#8c8c8c"/>
<rect x="728" y="168" width="1" height="1" fill="#8c8c8c"/>
<rect x="743" y="168" width="1" height="1" fill="#8c8c8c"/>
<rect x="759" y="168" width="1" height="1" fill="#8c8c8c"/>
<rect x="774" y="168" width="1" height="1" fill="#8c8c8c"/>
<rect x="32" y="231" width="1" height="1" fill="#8c8c8c"/>
<rect x="47" y="231" width="1" height="1" fill="#8c8c8c"/>
<rect x="63" y="231" width="1" height="1" fill="#8c8c8c"/>
<rect x="78" y="231" width="1" height="1" fill="#8c8c8c"/>
<rect x="94" y="231" width="1" height="1" fill="#8c8c8c"/>
<rect x="109" y="231" width="1" height="1" fill="#8c8c8c"/>
<rect x="125" y="231" width="1" height="1" fill="#8c8c8c"/>
<rect x="140" y="231" width="1" height="1" fill="#8c8c8c"/>
<rect x="156" y="231" width="1" height="1" fill="#8c8c8c"/>
<rect x="171" y="231" width="1" height="1" fill="#8c8c8c"/>
<rect x="187" y="231" width="1" height="1" fill="#8c8c8c"/>
<rect x="202" y="231" width="1" height="1" fill="#8c8c8c"/>
<rect x="217" y="231" width="1" height="1" fill="#8c8c8c"/>
<rect x="233" y="231" width="1" height="1" fill="#8c8c8c"/>
<rect x="248" y="231" width="1" height="1" fill="#8c8c8c"/>
<rect x="264" y="231" width="1" height="1" fill="#8c8c8c"/>
<rect x="279" y="231" width="1" height="1" fill="#8c8c8c"/>
<rect x="295" y="231" width="1" height="1" fill="#8c8c8c"/>
<rect x="310" y="231" width="1" height="1" fill="#8c8c8c"/>
<rect x="326" y="231" width="1" height="1" fill="#8c8c8c"/>
<rect x="341" y="231" width="1" height="1" fill="#8c8c8c"/>
<rect x="357" y="231" width="1" height="1" fill="#8c8c8c"/>
<rect x="372" y="231" width="1" height="1" fill="#8c8c8c"/>
<rect x="388" y="231" width="1" height="1" fill="#8c8c8c"/>
<rect x="403" y="231" width="1" height="1" fill="#8c8c8c"/>
<rect x="418" y="231" width="1" height="1" fill="#8c8c8c"/>
<rect x="434" y="231" width="1" height="1" fill="#8c8c8c"/>
<rect x="449" y="231" width="1" height="1" fill="#8c8c8c"/>
<rect x="465" y="231" width="1" height="1" fill="#8c8c8c"/>
<rect x="480" y="231" width="1" height="1" fill="#8c8c8c"/>
<rect x="496" y="231" width="1" height="1" fill="#8c8c8c"/>
<rect x="511" y="231" width="1" height="1" fill="#8c8c8c"/>
<rect x="527" y="231" width="1" height="1" fill="#8c8c8c"/>
<rect x="542" y="231" width="1" height="1" fill="#8c8c8c"/>
<rect x="558" y="231" width="1" height="1" fill="#8c8c8c"/>
<rect x="573" y="231" width="1" height="1" fill="#8c8c8c"/>
<rect x="589" y="231" width="1" height="1" fill="#8c8c8c"/>
<rect x="604" y="231" width="1" height="1" fill="#8c8c8c"/>
<rect x="619" y="231" width="1" height="1" fill="#8c8c8c"/>
<rect x="635" y="231" width="1" height="1" fill="#8c8c8c"/>
<rect x="650" y="231" width="1" height="1" fill="#8c8c8c"/>
<rect x="666" y="231" width="1" height="1" fill="#8c8c8c"/>
<rect x="681" y="231" width="1" height="1" fill="#8c8c8c"/>
<rect x="697" y="231" width="1" height="1" fill="#8c8c8c"/>
<rect x="712" y="231" width="1" height="1" fill="#8c8c8c"/>
<rect x="728" y="231" width="1" height="1" fill="#8c8c8c"/>
<rect x="743" y="231" width="1" height="1" fill="#8c8c8c"/>
<rect x="759" y="231" width="1" height="1" fill="#8c8c8c"/>
<rect x="774" y="231" width="1" height="1" fill="#8c8c8c"/>
<rect x="17" y="263" width="773" height="1" fill="#7c7c7c"/>
<rect x="17" y="362" width="773" height="1" fill="#7c7c7c"/>
<rect x="17" y="263" width="1" height="100" fill="#7c7c7c"/>
<rect x="789" y="263" width="1" height="100" fill="#7c7c7c"/>
<rect x="17" y="313" width="772" height="1" fill="#7c7c7c"/>
<rect x="403" y="263" width="1" height="99" fill="#7c7c7c"/>
<rect x="32" y="311" width="1" height="5" fill="#7c7c7c"/>
<rect x="47" y="311" width="1" height="5" fill="#7c7c7c"/>
<rect x="63" y="311" width="1" height="5" fill="#7c7c7c"/>
<rect x="78" y="311" width="1" height="5" fill="#7c7c7c"/>
<rect x="94" y="311" width="1" height="5" fill="#7c7c7c"/>
<rect x="109" y="311" width="1" height="5" fill="#7c7c7c"/>
<rect x="125" y="311" width="1" height="5" fill="#7c7c7c"/>
<rect x="140" y="311" width="1" height="5" fill="#7c7c7c"/>
<rect x="156" y="311" width="1" height="5" fill="#7c7c7c"/>
<rect x="171" y="311" width="1" height="5" fill="#7c7c7c"/>
<rect x="187" y="311" width="1" height="5" fill="#7c7c7c"/>
<rect x="202" y="311" width="1" height="5" fill="#7c7c7c"/>
<rect x="217" y="311" width="1" height="5" fill="#7c7c7c"/>
<rect x="233" y="311" width="1" height="5" fill="#7c7c7c"/>
<rect x="248" y="311" width="1" height="5" fill="#7c7c7c"/>
<rect x="264" y="311" width="1" height="5" fill="#7c7c7c"/>
<rect x="279" y="311" width="1" height="5" fill="#7c7c7c"/>
<rect x="295" y="311" width="1" height="5" fill="#7c7c7c"/>
<rect x="310" y="311" width="1" height="5" fill="#7c7c7c"/>
<rect x="326" y="311" width="1" height="5" fill="#7c7c7c"/>
<rect x="341" y="311" width="1" height="5" fill="#7c7c7c"/>
<rect x="357" y="311" width="1" height="5" fill="#7c7c7c"/>
<rect x="372" y="311" width="1" height="5" fill="#7c7c7c"/>
<rect x="388" y="311" width="1" height="5" fill="#7c7c7c"/>
<rect x="403" y="311" width="1" height="5" fill="#7c7c7c"/>
<rect x="418" y="311" width="1" height="5" fill="#7c7c7c"/>
<rect x="434" y="311" width="1" height="5" fill="#7c7c7c"/>
<rect x="449" y="311" width="1" height="5" fill="#7c7c7c"/>
<rect x="465" y="311" width="1" height="5" fill="#7c7c7c"/>
<rect x="480" y="311" width="1" height="5" fill="#7c7c7c"/>
<rect x="496" y="311" width="1" height="5" fill="#7c7c7c"/>
<rect x="511" y="311" width="1" height="5" fill="#7c7c7c"/>
<rect x="527" y="311" width="1" height="5" fill="#7c7c7c"/>
<rect x="542" y="311" width="1" height="5" fill="#7c7c7c"/>
<rect x="558" y="311" width="1" height="5" fill="#7c7c7c"/>
<rect x="573" y="311" width="1" height="5" fill="#7c7c7c"/>
<rect x="589" y="311" width="1" height="5" fill="#7c7c7c"/>
<rect x="604" y="311" width="1" height="5" fill="#7c7c7c"/>
<rect x="619" y="311" width="1" height="5" fill="#7c7c7c"/>
<rect x="635" y="311" width="1" height="5" fill="#7c7c7c"/>
<rect x="650" y="311" width="1" height="5" fill="#7c7c7c"/>
<rect x="666" y="311" width="1" height="5" fill="#7c7c7c"/>
<rect x="681" y="311" width="1" height="5" fill="#7c7c7c"/>
<rect x="697" y="311" width="1" height="5" fill="#7c7c7c"/>
<rect x="712" y="311" width="1" height="5" fill="#7c7c7c"/>
<rect x="728" y="311" width="1" height="5" fill="#7c7c7c"/>
<rect x="743" y="311" width="1" height="5" fill="#7c7c7c"/>
<rect x="759" y="311" width="1" height="5" fill="#7c7c7c"/>
<rect x="774" y="311" width="1" height="5" fill="#7c7c7c"/>
<line x1="19" y1="275.5" x2="789" y2="275.5" stroke="#8c8c8c" stroke-width="1" stroke-dasharray="1 1"/>
<line x1="19" y1="288.5" x2="789" y2="288.5" stroke="#8c8c8c" stroke-width="1" stroke-dasharray="1 1"/>
<line x1="19" y1="300.5" x2="789" y2="300.5" stroke="#8c8c8c" stroke-width="1" stroke-dasharray="1 1"/>
<line x1="19" y1="325.5" x2="789" y2="325.5" stroke="#8c8c8c" stroke-width="1" stroke-dasharray="1 1"/>
<line x1="19" y1="338.5" x2="789" y2="338.5" stroke="#8c8c8c" stroke-width="1" stroke-dasharray="1 1"/>
<line x1="19" y1="350.5" x2="789" y2="350.5" stroke="#8c8c8c" stroke-width="1" stroke-dasharray="1 1"/>
<line x1="94.5" y1="265" x2="94.5" y2="362" stroke="#8c8c8c" stroke-width="1" stroke-dasharray="1 1"/>
<rect x="93" y="275" width="3" height="1" fill="#8c8c8c"/>
<rect x="93" y="288" width="3" height="1" fill="#8c8c8c"/>
<rect x="94" y="287" width="1" height="3" fill="#8c8c8c"/>
<rect x="94" y="288" width="1" height="1" fill="#000"/>
<rect x="93" y="300" width="3" height="1" fill="#8c8c8c"/>
<rect x="94" y="299" width="1" height="3" fill="#8c8c8c"/>
<rect x="94" y="300" width="1" height="1" fill="#000"/>
<rect x="93" y="325" width="3" height="1" fill="#8c8c8c"/>
<rect x="93" y="338" width="3" height="1" fill="#8c8c8c"/>
<rect x="94" y="337" width="1" height="3" fill="#8c8c8c"/>
<rect x="94" y="338" width="1" height="1" fill="#000"/>
<rect x="93" y="350" width="3" height="1" fill="#8c8c8c"/>
<rect x="94" y="349" width="1" height="3" fill="#8c8c8c"/>
<rect x="94" y="350" width="1" height="1" fill="#000"/>
<line x1="171.5" y1="265" x2="171.5" y2="362" stroke="#8c8c8c" stroke-width="1" stroke-dasharray="1 1"/>
<rect x="170" y="275" width="3" height="1" fill="#8c8c8c"/>
<rect x="170" y="288" width="3" height="1" fill="#8c8c8c"/>
<rect x="171" y="287" width="1" height="3" fill="#8c8c8c"/>
<rect x="171" y="288" width="1" height="1" fill="#000"/>
<rect x="170" y="300" width="3" height="1" fill="#8c8c8c"/>
<rect x="171" y="299" width="1" height="3" fill="#8c8c8c"/>
<rect x="171" y="300" width="1" height="1" fill="#000"/>
<rect x="170" y="325" width="3" height="1" fill="#8c8c8c"/>
<rect x="170" y="338" width="3" height="1" fill="#8c8c8c"/>
<rect x="171" y="337" width="1" height="3" fill="#8c8c8c"/>
<rect x="171" y="338" width="1" height="1" fill="#000"/>
<rect x="170" y="350" width="3" height="1" fill="#8c8c8c"/>
<rect x="171" y="349" width="1" height="3" fill="#8c8c8c"/>
<rect x="171" y="350" width="1" height="1" fill="#000"/>
<line x1="248.5" y1="265" x2="248.5" y2="362" stroke="#8c8c8c" stroke-width="1" stroke-dasharray="1 1"/>
<rect x="247" y="275" width="3" height="1" fill="#8c8c8c"/>
<rect x="247" y="288" width="3" height="1" fill="#8c8c8c"/>
<rect x="248" y="287" width="1" height="3" fill="#8c8c8c"/>
<rect x="248" y="288" width="1" height="1" fill="#000"/>
<rect x="247" y="300" width="3" height="1" fill="#8c8c8c"/>
<rect x="248" y="299" width="1" height="3" fill="#8c8c8c"/>
<rect x="248" y="300" width="1" height="1" fill="#000"/>
<rect x="247" y="325" width="3" height="1" fill="#8c8c8c"/>
<rect x="247" y="338" width="3" height="1" fill="#8c8c8c"/>
<rect x="248" y="337" width="1" height="3" fill="#8c8c8c"/>
<rect x="248" y="338" width="1" height="1" fill="#000"/>
<rect x="247" y="350" width="3" height="1" fill="#8c8c8c"/>
<rect x="248" y="349" width="1" height="3" fill="#8c8c8c"/>
<rect x="248" y="350" width="1" height="1" fill="#000"/>
<line x1="326.5" y1="265" x2="326.5" y2="362" stroke="#8c8c8c" stroke-width="1" stroke-dasharray="1 1"/>
<rect x="325" y="275" width="3" height="1" fill="#8c8c8c"/>
<rect x="325" y="288" width="3" height="1" fill="#8c8c8c"/>
<rect x="326" y="287" width="1" height="3" fill="#8c8c8c"/>
<rect x="326" y="288" width="1" height="1" fill="#000"/>
<rect x="325" y="300" width="3" height="1" fill="#8c8c8c"/>
<rect x="326" y="299" width="1" height="3" fill="#8c8c8c"/>
<rect x="326" y="300" width="1" height="1" fill="#000"/>
<rect x="325" y="325" width="3" height="1" fill="#8c8c8c"/>
<rect x="325" y="338" width="3" height="1" fill="#8c8c8c"/>
<rect x="326" y="337" width="1" height="3" fill="#8c8c8c"/>
<rect x="326" y="338" width="1" height="1" fill="#000"/>
<rect x="325" y="350" width="3" height="1" fill="#8c8c8c"/>
<rect x="326" y="349" width="1" height="3" fill="#8c8c8c"/>
<rect x="326" y="350" width="1" height="1" fill="#000"/>
<line x1="480.5" y1="265" x2="480.5" y2="362" stroke="#8c8c8c" stroke-width="1" stroke-dasharray="1 1"/>
<rect x="479" y="275" width="3" height="1" fill="#8c8c8c"/>
<rect x="479" y="288" width="3" height="1" fill="#8c8c8c"/>
<rect x="480" y="287" width="1" height="3" fill="#8c8c8c"/>
<rect x="480" y="288" width="1" height="1" fill="#000"/>
<rect x="479" y="300" width="3" height="1" fill="#8c8c8c"/>
<rect x="480" y="299" width="1" height="3" fill="#8c8c8c"/>
<rect x="480" y="300" width="1" height="1" fill="#000"/>
<rect x="479" y="325" width="3" height="1" fill="#8c8c8c"/>
<rect x="479" y="338" width="3" height="1" fill="#8c8c8c"/>
<rect x="480" y="337" width="1" height="3" fill="#8c8c8c"/>
<rect x="480" y="338" width="1" height="1" fill="#000"/>
<rect x="479" y="350" width="3" height="1" fill="#8c8c8c"/>
<rect x="480" y="349" width="1" height="3" fill="#8c8c8c"/>
<rect x="480" y="350" width="1" height="1" fill="#000"/>
<line x1="558.5" y1="265" x2="558.5" y2="362" stroke="#8c8c8c" stroke-width="1" stroke-dasharray="1 1"/>
<rect x="557" y="275" width="3" height="1" fill="#8c8c8c"/>
<rect x="557" y="288" width="3" height="1" fill="#8c8c8c"/>
<rect x="558" y="287" width="1" height="3" fill="#8c8c8c"/>
<rect x="558" y="288" width="1" height="1" fill="#000"/>
<rect x="557" y="300" width="3" height="1" fill="#8c8c8c"/>
<rect x="558" y="299" width="1" height="3" fill="#8c8c8c"/>
<rect x="558" y="300" width="1" height="1" fill="#000"/>
<rect x="557" y="325" width="3" height="1" fill="#8c8c8c"/>
<rect x="557" y="338" width="3" height="1" fill="#8c8c8c"/>
<rect x="558" y="337" width="1" height="3" fill="#8c8c8c"/>
<rect x="558" y="338" width="1" height="1" fill="#000"/>
<rect x="557" y="350" width="3" height="1" fill="#8c8c8c"/>
<rect x="558" y="349" width="1" height="3" fill="#8c8c8c"/>
<rect x="558" y="350" width="1" height="1" fill="#000"/>
<line x1="635.5" y1="265" x2="635.5" y2="362" stroke="#8c8c8c" stroke-width="1" stroke-dasharray="1 1"/>
<rect x="634" y="275" width="3" height="1" fill="#8c8c8c"/>
<rect x="634" y="288" width="3" height="1" fill="#8c8c8c"/>
<rect x="635" y="287" width="1" height="3" fill="#8c8c8c"/>
<rect x="635" y="288" width="1" height="1" fill="#000"/>
<rect x="634" y="300" width="3" height="1" fill="#8c8c8c"/>
<rect x="635" y="299" width="1" height="3" fill="#8c8c8c"/>
<rect x="635" y="300" width="1" height="1" fill="#000"/>
<rect x="634" y="325" width="3" height="1" fill="#8c8c8c"/>
<rect x="634" y="338" width="3" height="1" fill="#8c8c8c"/>
<rect x="635" y="337" width="1" height="3" fill="#8c8c8c"/>
<rect x="635" y="338" width="1" height="1" fill="#000"/>
<rect x="634" y="350" width="3" height="1" fill="#8c8c8c"/>
<rect x="635" y="349" width="1" height="3" fill="#8c8c8c"/>
<rect x="635" y="350" width="1" height="1" fill="#000"/>
<line x1="712.5" y1="265" x2="712.5" y2="362" stroke="#8c8c8c" stroke-width="1" stroke-dasharray="1 1"/>
<rect x="711" y="275" width="3" height="1" fill="#8c8c8c"/>
<rect x="711" y="288" width="3" height="1" fill="#8c8c8c"/>
<rect x="712" y="287" width="1" height="3" fill="#8c8c8c"/>
<rect x="712" y="288" width="1" height="1" fill="#000"/>
<rect x="711" y="300" width="3" height="1" fill="#8c8c8c"/>
<rect x="712" y="299" width="1" height="3" fill="#8c8c8c"/>
<rect x="712" y="300" width="1" height="1" fill="#000"/>
<rect x="711" y="325" width="3" height="1" fill="#8c8c8c"/>
<rect x="711" y="338" width="3" height="1" fill="#8c8c8c"/>
<rect x="712" y="337" width="1" height="3" fill="#8c8c8c"/>
<rect x="712" y="338" width="1" height="1" fill="#000"/>
<rect x="711" y="350" width="3" height="1" fill="#8c8c8c"/>
<rect x="712" y="349" width="1" height="3" fill="#8c8c8c"/>
<rect x="712" y="350" width="1" height="1" fill="#000"/>
<rect x="32" y="281" width="1" height="1" fill="#8c8c8c"/>
<rect x="47" y="281" width="1" height="1" fill="#8c8c8c"/>
<rect x="63" y="281" width="1" height="1" fill="#8c8c8c"/>
<rect x="78" y="281" width="1" height="1" fill="#8c8c8c"/>
<rect x="94" y="281" width="1" height="1" fill="#8c8c8c"/>
<rect x="109" y="281" width="1" height="1" fill="#8c8c8c"/>
<rect x="125" y="281" width="1" height="1" fill="#8c8c8c"/>
<rect x="140" y="281" width="1" height="1" fill="#8c8c8c"/>
<rect x="156" y="281" width="1" height="1" fill="#8c8c8c"/>
<rect x="171" y="281" width="1" height="1" fill="#8c8c8c"/>
<rect x="187" y="281" width="1" height="1" fill="#8c8c8c"/>
<rect x="202" y="281" width="1" height="1" fill="#8c8c8c"/>
<rect x="217" y="281" width="1" height="1" fill="#8c8c8c"/>
<rect x="233" y="281" width="1" height="1" fill="#8c8c8c"/>
<rect x="248" y="281" width="1" height="1" fill="#8c8c8c"/>
<rect x="264" y="281" width="1" height="1" fill="#8c8c8c"/>
<rect x="279" y="281" width="1" height="1" fill="#8c8c8c"/>
<rect x="295" y="281" width="1" height="1" fill="#8c8c8c"/>
<rect x="310" y="281" width="1" height="1" fill="#8c8c8c"/>
<rect x="326" y="281" width="1" height="1" fill="#8c8c8c"/>
<rect x="341" y="281" width="1" height="1" fill="#8c8c8c"/>
<rect x="357" y="281" width="1" height="1" fill="#8c8c8c"/>
<rect x="372" y="281" width="1" height="1" fill="#8c8c8c"/>
<rect x="388" y="281" width="1" height="1" fill="#8c8c8c"/>
<rect x="403" y="281" width="1" height="1" fill="#8c8c8c"/>
<rect x="418" y="281" width="1" height="1" fill="#8c8c8c"/>
<rect x="434" y="281" width="1" height="1" fill="#8c8c8c"/>
<rect x="449" y="281" width="1" height="1" fill="#8c8c8c"/>
<rect x="465" y="281" width="1" height="1" fill="#8c8c8c"/>
<rect x="480" y="281" width="1" height="1" fill="#8c8c8c"/>
<rect x="496" y="281" width="1" height="1" fill="#8c8c8c"/>
<rect x="511" y="281" width="1" height="1" fill="#8c8c8c"/>
<rect x="527" y="281" width="1" height="1" fill="#8c8c8c"/>
<rect x="542" y="281" width="1" height="1" fill="#8c8c8c"/>
<rect x="558" y="281" width="1" height="1" fill="#8c8c8c"/>
<rect x="573" y="281" width="1" height="1" fill="#8c8c8c"/>
<rect x="589" y="281" width="1" height="1" fill="#8c8c8c"/>
<rect x="604" y="281" width="1" height="1" fill="#8c8c8c"/>
<rect x="619" y="281" width="1" height="1" fill="#8c8c8c"/>
<rect x="635" y="281" width="1" height="1" fill="#8c8c8c"/>
<rect x="650" y="281" width="1" height="1" fill="#8c8c8c"/>
<rect x="666" y="281" width="1" height="1" fill="#8c8c8c"/>
<rect x="681" y="281" width="1" height="1" fill="#8c8c8c"/>
<rect x="697" y="281" width="1" height="1" fill="#8c8c8c"/>
<rect x="712" y="281" width="1" height="1" fill="#8c8c8c"/>
<rect x="728" y="281" width="1" height="1" fill="#8c8c8c"/>
<rect x="743" y="281" width="1" height="1" fill="#8c8c8c"/>
<rect x="759" y="281" width="1" height="1" fill="#8c8c8c"/>
<rect x="774" y="281" width="1" height="1" fill="#8c8c8c"/>
<rect x="32" y="344" width="1" height="1" fill="#8c8c8c"/>
<rect x="47" y="344" width="1" height="1" fill="#8c8c8c"/>
<rect x="63" y="344" width="1" height="1" fill="#8c8c8c"/>
<rect x="78" y="344" width="1" height="1" fill="#8c8c8c"/>
<rect x="94" y="344" width="1" height="1" fill="#8c8c8c"/>
<rect x="109" y="344" width="1" height="1" fill="#8c8c8c"/>
<rect x="125" y="344" width="1" height="1" fill="#8c8c8c"/>
<rect x="140" y="344" width="1" height="1" fill="#8c8c8c"/>
<rect x="156" y="344" width="1" height="1" fill="#8c8c8c"/>
<rect x="171" y="344" width="1" height="1" fill="#8c8c8c"/>
<rect x="187" y="344" width="1" height="1" fill="#8c8c8c"/>
<rect x="202" y="344" width="1" height="1" fill="#8c8c8c"/>
<rect x="217" y="344" width="1" height="1" fill="#8c8c8c"/>
<rect x="233" y="344" width="1" height="1" fill="#8c8c8c"/>
<rect x="248" y="344" width="1" height="1" fill="#8c8c8c"/>
<rect x="264" y="344" width="1" height="1" fill="#8c8c8c"/>
<rect x="279" y="344" width="1" height="1" fill="#8c8c8c"/>
<rect x="295" y="344" width="1" height="1" fill="#8c8c8c"/>
<rect x="310" y="344" width="1" height="1" fill="#8c8c8c"/>
<rect x="326" y="344" width="1" height="1" fill="#8c8c8c"/>
<rect x="341" y="344" width="1" height="1" fill="#8c8c8c"/>
<rect x="357" y="344" width="1" height="1" fill="#8c8c8c"/>
<rect x="372" y="344" width="1" height="1" fill="#8c8c8c"/>
<rect x="388" y="344" width="1" height="1" fill="#8c8c8c"/>
<rect x="403" y="344" width="1" height="1" fill="#8c8c8c"/>
<rect x="418" y="344" width="1" height="1" fill="#8c8c8c"/>
<rect x="434" y="344" width="1" height="1" fill="#8c8c8c"/>
<rect x="449" y="344" width="1" height="1" fill="#8c8c8c"/>
<rect x="465" y="344" width="1" height="1" fill="#8c8c8c"/>
<rect x="480" y="344" width="1" height="1" fill="#8c8c8c"/>
<rect x="496" y="344" width="1" height="1" fill="#8c8c8c"/>
<rect x="511" y="344" width="1" height="1" fill="#8c8c8c"/>
<rect x="527" y="344" width="1" height="1" fill="#8c8c8c"/>
<rect x="542" y="344" width="1" height="1" fill="#8c8c8c"/>
<rect x="558" y="344" width="1" height="1" fill="#8c8c8c"/>
<rect x="573" y="344" width="1" height="1" fill="#8c8c8c"/>
<rect x="589" y="344" width="1" height="1" fill="#8c8c8c"/>
<rect x="604" y="344" width="1" height="1" fill="#8c8c8c"/>
<rect x="619" y="344" width="1" height="1" fill="#8c8c8c"/>
<rect x="635" y="344" width="1" height="1" fill="#8c8c8c"/>
<rect x="650" y="344" width="1" height="1" fill="#8c8c8c"/>
<rect x="666" y="344" width="1" height="1" fill="#8c8c8c"/>
<rect x="681" y="344" width="1" height="1" fill="#8c8c8c"/>
<rect x="697" y="344" width="1" height="1" fill="#8c8c8c"/>
<rect x="712" y="344" width="1" height="1" fill="#8c8c8c"/>
<rect x="728" y="344" width="1" height="1" fill="#8c8c8c"/>
<rect x="743" y="344" width="1" height="1" fill="#8c8c8c"/>
<rect x="759" y="344" width="1" height="1" fill="#8c8c8c"/>
<rect x="774" y="344" width="1" height="1" fill="#8c8c8c"/>
<rect x="17" y="375" width="773" height="1" fill="#7c7c7c"/>
<rect x="17" y="475" width="773" height="1" fill="#7c7c7c"/>
<rect x="17" y="375" width="1" height="101" fill="#7c7c7c"/>
<rect x="789" y="375" width="1" height="101" fill="#7c7c7c"/>
<rect x="17" y="425" width="772" height="1" fill="#7c7c7c"/>
<rect x="403" y="375" width="1" height="100" fill="#7c7c7c"/>
<rect x="32" y="423" width="1" height="5" fill="#7c7c7c"/>
<rect x="47" y="423" width="1" height="5" fill="#7c7c7c"/>
<rect x="63" y="423" width="1" height="5" fill="#7c7c7c"/>
<rect x="78" y="423" width="1" height="5" fill="#7c7c7c"/>
<rect x="94" y="423" width="1" height="5" fill="#7c7c7c"/>
<rect x="109" y="423" width="1" height="5" fill="#7c7c7c"/>
<rect x="125" y="423" width="1" height="5" fill="#7c7c7c"/>
<rect x="140" y="423" width="1" height="5" fill="#7c7c7c"/>
<rect x="156" y="423" width="1" height="5" fill="#7c7c7c"/>
<rect x="171" y="423" width="1" height="5" fill="#7c7c7c"/>
<rect x="187" y="423" width="1" height="5" fill="#7c7c7c"/>
<rect x="202" y="423" width="1" height="5" fill="#7c7c7c"/>
<rect x="217" y="423" width="1" height="5" fill="#7c7c7c"/>
<rect x="233" y="423" width="1" height="5" fill="#7c7c7c"/>
<rect x="248" y="423" width="1" height="5" fill="#7c7c7c"/>
<rect x="264" y="423" width="1" height="5" fill="#7c7c7c"/>
<rect x="279" y="423" width="1" height="5" fill="#7c7c7c"/>
<rect x="295" y="423" width="1" height="5" fill="#7c7c7c"/>
<rect x="310" y="423" width="1" height="5" fill="#7c7c7c"/>
<rect x="326" y="423" width="1" height="5" fill="#7c7c7c"/>
<rect x="341" y="423" width="1" height="5" fill="#7c7c7c"/>
<rect x="357" y="423" width="1" height="5" fill="#7c7c7c"/>
<rect x="372" y="423" width="1" height="5" fill="#7c7c7c"/>
<rect x="388" y="423" width="1" height="5" fill="#7c7c7c"/>
<rect x="403" y="423" width="1" height="5" fill="#7c7c7c"/>
<rect x="418" y="423" width="1" height="5" fill="#7c7c7c"/>
<rect x="434" y="423" width="1" height="5" fill="#7c7c7c"/>
<rect x="449" y="423" width="1" height="5" fill="#7c7c7c"/>
<rect x="465" y="423" width="1" height="5" fill="#7c7c7c"/>
<rect x="480" y="423" width="1" height="5" fill="#7c7c7c"/>
<rect x="496" y="423" width="1" height="5" fill="#7c7c7c"/>
<rect x="511" y="423" width="1" height="5" fill="#7c7c7c"/>
<rect x="527" y="423" width="1" height="5" fill="#7c7c7c"/>
<rect x="542" y="423" width="1" height="5" fill="#7c7c7c"/>
<rect x="558" y="423" width="1" height="5" fill="#7c7c7c"/>
<rect x="573" y="423" width="1" height="5" fill="#7c7c7c"/>
<rect x="589" y="423" width="1" height="5" fill="#7c7c7c"/>
<rect x="604" y="423" width="1" height="5" fill="#7c7c7c"/>
<rect x="619" y="423" width="1" height="5" fill="#7c7c7c"/>
<rect x="635" y="423" width="1" height="5" fill="#7c7c7c"/>
<rect x="650" y="423" width="1" height="5" fill="#7c7c7c"/>
<rect x="666" y="423" width="1" height="5" fill="#7c7c7c"/>
<rect x="681" y="423" width="1" height="5" fill="#7c7c7c"/>
<rect x="697" y="423" width="1" height="5" fill="#7c7c7c"/>
<rect x="712" y="423" width="1" height="5" fill="#7c7c7c"/>
<rect x="728" y="423" width="1" height="5" fill="#7c7c7c"/>
<rect x="743" y="423" width="1" height="5" fill="#7c7c7c"/>
<rect x="759" y="423" width="1" height="5" fill="#7c7c7c"/>
<rect x="774" y="423" width="1" height="5" fill="#7c7c7c"/>
<line x1="19" y1="387.5" x2="789" y2="387.5" stroke="#8c8c8c" stroke-width="1" stroke-dasharray="1 1"/>
<line x1="19" y1="400.5" x2="789" y2="400.5" stroke="#8c8c8c" stroke-width="1" stroke-dasharray="1 1"/>
<line x1="19" y1="412.5" x2="789" y2="412.5" stroke="#8c8c8c" stroke-width="1" stroke-dasharray="1 1"/>
<line x1="19" y1="437.5" x2="789" y2="437.5" stroke="#8c8c8c" stroke-width="1" stroke-dasharray="1 1"/>
<line x1="19" y1="450.5" x2="789" y2="450.5" stroke="#8c8c8c" stroke-width="1" stroke-dasharray="1 1"/>
<line x1="19" y1="463.5" x2="789" y2="463.5" stroke="#8c8c8c" stroke-width="1" stroke-dasharray="1 1"/>
<line x1="94.5" y1="377" x2="94.5" y2="475" stroke="#8c8c8c" stroke-width="1" stroke-dasharray="1 1"/>
<rect x="93" y="387" width="3" height="1" fill="#8c8c8c"/>
<rect x="93" y="400" width="3" height="1" fill="#8c8c8c"/>
<rect x="94" y="399" width="1" height="3" fill="#8c8c8c"/>
<rect x="94" y="400" width="1" height="1" fill="#000"/>
<rect x="93" y="412" width="3" height="1" fill="#8c8c8c"/>
<rect x="94" y="411" width="1" height="3" fill="#8c8c8c"/>
<rect x="94" y="412" width="1" height="1" fill="#000"/>
<rect x="93" y="437" width="3" height="1" fill="#8c8c8c"/>
<rect x="93" y="450" width="3" height="1" fill="#8c8c8c"/>
<rect x="94" y="449" width="1" height="3" fill="#8c8c8c"/>
<rect x="94" y="450" width="1" height="1" fill="#000"/>
<rect x="93" y="463" width="3" height="1" fill="#8c8c8c"/>
<rect x="94" y="462" width="1" height="3" fill="#8c8c8c"/>
<rect x="94" y="463" width="1" height="1" fill="#000"/>
<line x1="171.5" y1="377" x2="171.5" y2="475" stroke="#8c8c8c" stroke-width="1" stroke-dasharray="1 1"/>
<rect x="170" y="387" width="3" height="1" fill="#8c8c8c"/>
<rect x="170" y="400" width="3" height="1" fill="#8c8c8c"/>
<rect x="171" y="399" width="1" height="3" fill="#8c8c8c"/>
<rect x="171" y="400" width="1" height="1" fill="#000"/>
<rect x="170" y="412" width="3" height="1" fill="#8c8c8c"/>
<rect x="171" y="411" width="1" height="3" fill="#8c8c8c"/>
<rect x="171" y="412" width="1" height="1" fill="#000"/>
<rect x="170" y="437" width="3" height="1" fill="#8c8c8c"/>
<rect x="170" y="450" width="3" height="1" fill="#8c8c8c"/>
<rect x="171" y="449" width="1" height="3" fill="#8c8c8c"/>
<rect x="171" y="450" width="1" height="1" fill="#000"/>
<rect x="170" y="463" width="3" height="1" fill="#8c8c8c"/>
<rect x="171" y="462" width="1" height="3" fill="#8c8c8c"/>
<rect x="171" y="463" width="1" height="1" fill="#000"/>
<line x1="248.5" y1="377" x2="248.5" y2="475" stroke="#8c8c8c" stroke-width="1" stroke-dasharray="1 1"/>
<rect x="247" y="387" width="3" height="1" fill="#8c8c8c"/>
<rect x="247" y="400" width="3" height="1" fill="#8c8c8c"/>
<rect x="248" y="399" width="1" height="3" fill="#8c8c8c"/>
<rect x="248" y="400" width="1" height="1" fill="#000"/>
<rect x="247" y="412" width="3" height="1" fill="#8c8c8c"/>
<rect x="248" y="411" width="1" height="3" fill="#8c8c8c"/>
<rect x="248" y="412" width="1" height="1" fill="#000"/>
<rect x="247" y="437" width="3" height="1" fill="#8c8c8c"/>
<rect x="247" y="450" width="3" height="1" fill="#8c8c8c"/>
<rect x="248" y="449" width="1" height="3" fill="#8c8c8c"/>
<rect x="248" y="450" width="1" height="1" fill="#000"/>
<rect x="247" y="463" width="3" height="1" fill="#8c8c8c"/>
<rect x="248" y="462" width="1" height="3" fill="#8c8c8c"/>
<rect x="248" y="463" width="1" height="1" fill="#000"/>
<line x1="326.5" y1="377" x2="326.5" y2="475" stroke="#8c8c8c" stroke-width="1" stroke-dasharray="1 1"/>
<rect x="325" y="387" width="3" height="1" fill="#8c8c8c"/>
<rect x="325" y="400" width="3" height="1" fill="#8c8c8c"/>
<rect x="326" y="399" width="1" height="3" fill="#8c8c8c"/>
<rect x="326" y="400" width="1" height="1" fill="#000"/>
<rect x="325" y="412" width="3" height="1" fill="#8c8c8c"/>
<rect x="326" y="411" width="1" height="3" fill="#8c8c8c"/>
<rect x="326" y="412" width="1" height="1" fill="#000"/>
<rect x="325" y="437" width="3" height="1" fill="#8c8c8c"/>
<rect x="325" y="450" width="3" height="1" fill="#8c8c8c"/>
<rect x="326" y="449" width="1" height="3" fill="#8c8c8c"/>
<rect x="326" y="450" width="1" height="1" fill="#000"/>
<rect x="325" y="463" width="3" height="1" fill="#8c8c8c"/>
<rect x="326" y="462" width="1" height="3" fill="#8c8c8c"/>
<rect x="326" y="463" width="1" height="1" fill="#000"/>
<line x1="480.5" y1="377" x2="480.5" y2="475" stroke="#8c8c8c" stroke-width="1" stroke-dasharray="1 1"/>
<rect x="479" y="387" width="3" height="1" fill="#8c8c8c"/>
<rect x="479" y="400" width="3" height="1" fill="#8c8c8c"/>
<rect x="480" y="399" width="1" height="3" fill="#8c8c8c"/>
<rect x="480" y="400" width="1" height="1" fill="#000"/>
<rect x="479" y="412" width="3" height="1" fill="#8c8c8c"/>
<rect x="480" y="411" width="1" height="3" fill="#8c8c8c"/>
<rect x="480" y="412" width="1" height="1" fill="#000"/>
<rect x="479" y="437" width="3" height="1" fill="#8c8c8c"/>
<rect x="479" y="450" width="3" height="1" fill="#8c8c8c"/>
<rect x="480" y="449" width="1" height="3" fill="#8c8c8c"/>
<rect x="480" y="450" width="1" height="1" fill="#000"/>
<rect x="479" y="463" width="3" height="1" fill="#8c8c8c"/>
<rect x="480" y="462" width="1" height="3" fill="#8c8c8c"/>
<rect x="480" y="463" width="1" height="1" fill="#000"/>
<line x1="558.5" y1="377" x2="558.5" y2="475" stroke="#8c8c8c" stroke-width="1" stroke-dasharray="1 1"/>
<rect x="557" y="387" width="3" height="1" fill="#8c8c8c"/>
<rect x="557" y="400" width="3" height="1" fill="#8c8c8c"/>
<rect x="558" y="399" width="1" height="3" fill="#8c8c8c"/>
<rect x="558" y="400" width="1" height="1" fill="#000"/>
<rect x="557" y="412" width="3" height="1" fill="#8c8c8c"/>
<rect x="558" y="411" width="1" height="3" fill="#8c8c8c"/>
<rect x="558" y="412" width="1" height="1" fill="#000"/>
<rect x="557" y="437" width="3" height="1" fill="#8c8c8c"/>
<rect x="557" y="450" width="3" height="1" fill="#8c8c8c"/>
<rect x="558" y="449" width="1" height="3" fill="#8c8c8c"/>
<rect x="558" y="450" width="1" height="1" fill="#000"/>
<rect x="557" y="463" width="3" height="1" fill="#8c8c8c"/>
<rect x="558" y="462" width="1" height="3" fill="#8c8c8c"/>
<rect x="558" y="463" width="1" height="1" fill="#000"/>
<line x1="635.5" y1="377" x2="635.5" y2="475" stroke="#8c8c8c" stroke-width="1" stroke-dasharray="1 1"/>
<rect x="634" y="387" width="3" height="1" fill="#8c8c8c"/>
<rect x="634" y="400" width="3" height="1" fill="#8c8c8c"/>
<rect x="635" y="399" width="1" height="3" fill="#8c8c8c"/>
<rect x="635" y="400" width="1" height="1" fill="#000"/>
<rect x="634" y="412" width="3" height="1" fill="#8c8c8c"/>
<rect x="635" y="411" width="1" height="3" fill="#8c8c8c"/>
<rect x="635" y="412" width="1" height="1" fill="#000"/>
<rect x="634" y="437" width="3" height="1" fill="#8c8c8c"/>
<rect x="634" y="450" width="3" height="1" fill="#8c8c8c"/>
<rect x="635" y="449" width="1" height="3" fill="#8c8c8c"/>
<rect x="635" y="450" width="1" height="1" fill="#000"/>
<rect x="634" y="463" width="3" height="1" fill="#8c8c8c"/>
<rect x="635" y="462" width="1" height="3" fill="#8c8c8c"/>
<rect x="635" y="463" width="1" height="1" fill="#000"/>
<line x1="712.5" y1="377" x2="712.5" y2="475" stroke="#8c8c8c" stroke-width="1" stroke-dasharray="1 1"/>
<rect x="711" y="387" width="3" height="1" fill="#8c8c8c"/>
<rect x="711" y="400" width="3" height="1" fill="#8c8c8c"/>
<rect x="712" y="399" width="1" height="3" fill="#8c8c8c"/>
<rect x="712" y="400" width="1" height="1" fill="#000"/>
<rect x="711" y="412" width="3" height="1" fill="#8c8c8c"/>
<rect x="712" y="411" width="1" height="3" fill="#8c8c8c"/>
<rect x="712" y="412" width="1" height="1" fill="#000"/>
<rect x="711" y="437" width="3" height="1" fill="#8c8c8c"/>
<rect x="711" y="450" width="3" height="1" fill="#8c8c8c"/>
<rect x="712" y="449" width="1" height="3" fill="#8c8c8c"/>
<rect x="712" y="450" width="1" height="1" fill="#000"/>
<rect x="711" y="463" width="3" height="1" fill="#8c8c8c"/>
<rect x="712" y="462" width="1" height="3" fill="#8c8c8c"/>
<rect x="712" y="463" width="1" height="1" fill="#000"/>
<rect x="32" y="393" width="1" height="1" fill="#8c8c8c"/>
<rect x="47" y="393" width="1" height="1" fill="#8c8c8c"/>
<rect x="63" y="393" width="1" height="1" fill="#8c8c8c"/>
<rect x="78" y="393" width="1" height="1" fill="#8c8c8c"/>
<rect x="94" y="393" width="1" height="1" fill="#8c8c8c"/>
<rect x="109" y="393" width="1" height="1" fill="#8c8c8c"/>
<rect x="125" y="393" width="1" height="1" fill="#8c8c8c"/>
<rect x="140" y="393" width="1" height="1" fill="#8c8c8c"/>
<rect x="156" y="393" width="1" height="1" fill="#8c8c8c"/>
<rect x="171" y="393" width="1" height="1" fill="#8c8c8c"/>
<rect x="187" y="393" width="1" height="1" fill="#8c8c8c"/>
<rect x="202" y="393" width="1" height="1" fill="#8c8c8c"/>
<rect x="217" y="393" width="1" height="1" fill="#8c8c8c"/>
<rect x="233" y="393" width="1" height="1" fill="#8c8c8c"/>
<rect x="248" y="393" width="1" height="1" fill="#8c8c8c"/>
<rect x="264" y="393" width="1" height="1" fill="#8c8c8c"/>
<rect x="279" y="393" width="1" height="1" fill="#8c8c8c"/>
<rect x="295" y="393" width="1" height="1" fill="#8c8c8c"/>
<rect x="310" y="393" width="1" height="1" fill="#8c8c8c"/>
<rect x="326" y="393" width="1" height="1" fill="#8c8c8c"/>
<rect x="341" y="393" width="1" height="1" fill="#8c8c8c"/>
<rect x="357" y="393" width="1" height="1" fill="#8c8c8c"/>
<rect x="372" y="393" width="1" height="1" fill="#8c8c8c"/>
<rect x="388" y="393" width="1" height="1" fill="#8c8c8c"/>
<rect x="403" y="393" width="1" height="1" fill="#8c8c8c"/>
<rect x="418" y="393" width="1" height="1" fill="#8c8c8c"/>
<rect x="434" y="393" width="1" height="1" fill="#8c8c8c"/>
<rect x="449" y="393" width="1" height="1" fill="#8c8c8c"/>
<rect x="465" y="393" width="1" height="1" fill="#8c8c8c"/>
<rect x="480" y="393" width="1" height="1" fill="#8c8c8c"/>
<rect x="496" y="393" width="1" height="1" fill="#8c8c8c"/>
<rect x="511" y="393" width="1" height="1" fill="#8c8c8c"/>
<rect x="527" y="393" width="1" height="1" fill="#8c8c8c"/>
<rect x="542" y="393" width="1" height="1" fill="#8c8c8c"/>
<rect x="558" y="393" width="1" height="1" fill="#8c8c8c"/>
<rect x="573" y="393" width="1" height="1" fill="#8c8c8c"/>
<rect x="589" y="393" width="1" height="1" fill="#8c8c8c"/>
<rect x="604" y="393" width="1" height="1" fill="#8c8c8c"/>
<rect x="619" y="393" width="1" height="1" fill="#8c8c8c"/>
<rect x="635" y="393" width="1" height="1" fill="#8c8c8c"/>
<rect x="650" y="393" width="1" height="1" fill="#8c8c8c"/>
<rect x="666" y="393" width="1" height="1" fill="#8c8c8c"/>
<rect x="681" y="393" width="1" height="1" fill="#8c8c8c"/>
<rect x="697" y="393" width="1" height="1" fill="#8c8c8c"/>
<rect x="712" y="393" width="1" height="1" fill="#8c8c8c"/>
<rect x="728" y="393" width="1" height="1" fill="#8c8c8c"/>
<rect x="743" y="393" width="1" height="1" fill="#8c8c8c"/>
<rect x="759" y="393" width="1" height="1" fill="#8c8c8c"/>
<rect x="774" y="393" width="1" height="1" fill="#8c8c8c"/>
<rect x="32" y="456" width="1" height="1" fill="#8c8c8c"/>
<rect x="47" y="456" width="1" height="1" fill="#8c8c8c"/>
<rect x="63" y="456" width="1" height="1" fill="#8c8c8c"/>
<rect x="78" y="456" width="1" height="1" fill="#8c8c8c"/>
<rect x="94" y="456" width="1" height="1" fill="#8c8c8c"/>
<rect x="109" y="456" width="1" height="1" fill="#8c8c8c"/>
<rect x="125" y="456" width="1" height="1" fill="#8c8c8c"/>
<rect x="140" y="456" width="1" height="1" fill="#8c8c8c"/>
<rect x="156" y="456" width="1" height="1" fill="#8c8c8c"/>
<rect x="171" y="456" width="1" height="1" fill="#8c8c8c"/>
<rect x="187" y="456" width="1" height="1" fill="#8c8c8c"/>
<rect x="202" y="456" width="1" height="1" fill="#8c8c8c"/>
<rect x="217" y="456" width="1" height="1" fill="#8c8c8c"/>
<rect x="233" y="456" width="1" height="1" fill="#8c8c8c"/>
<rect x="248" y="456" width="1" height="1" fill="#8c8c8c"/>
<rect x="264" y="456" width="1" height="1" fill="#8c8c8c"/>
<rect x="279" y="456" width="1" height="1" fill="#8c8c8c"/>
<rect x="295" y="456" width="1" height="1" fill="#8c8c8c"/>
<rect x="310" y="456" width="1" height="1" fill="#8c8c8c"/>
<rect x="326" y="456" width="1" height="1" fill="#8c8c8c"/>
<rect x="341" y="456" width="1" height="1" fill="#8c8c8c"/>
<rect x="357" y="456" width="1" height="1" fill="#8c8c8c"/>
<rect x="372" y="456" width="1" height="1" fill="#8c8c8c"/>
<rect x="388" y="456" width="1" height="1" fill="#8c8c8c"/>
<rect x="403" y="456" width="1" height="1" fill="#8c8c8c"/>
<rect x="418" y="456" width="1" height="1" fill="#8c8c8c"/>
<rect x="434" y="456" width="1" height="1" fill="#8c8c8c"/>
<rect x="449" y="456" width="1" height="1" fill="#8c8c8c"/>
<rect x="465" y="456" width="1" height="1" fill="#8c8c8c"/>
<rect x="480" y="456" width="1" height="1" fill="#8c8c8c"/>
<rect x="496" y="456" width="1" height="1" fill="#8c8c8c"/>
<rect x="511" y="456" width="1" height="1" fill="#8c8c8c"/>
<rect x="527" y="456" width="1" height="1" fill="#8c8c8c"/>
<rect x="542" y="456" width="1" height="1" fill="#8c8c8c"/>
<rect x="558" y="456" width="1" height="1" fill="#8c8c8c"/>
<rect x="573" y="456" width="1" height="1" fill="#8c8c8c"/>
<rect x="589" y="456" width="1" height="1" fill="#8c8c8c"/>
<rect x="604" y="456" width="1" height="1" fill="#8c8c8c"/>
<rect x="619" y="456" width="1" height="1" fill="#8c8c8c"/>
<rect x="635" y="456" width="1" height="1" fill="#8c8c8c"/>
<rect x="650" y="456" width="1" height="1" fill="#8c8c8c"/>
<rect x="666" y="456" width="1" height="1" fill="#8c8c8c"/>
<rect x="681" y="456" width="1" height="1" fill="#8c8c8c"/>
<rect x="697" y="456" width="1" height="1" fill="#8c8c8c"/>
<rect x="712" y="456" width="1" height="1" fill="#8c8c8c"/>
<rect x="728" y="456" width="1" height="1" fill="#8c8c8c"/>
<rect x="743" y="456" width="1" height="1" fill="#8c8c8c"/>
<rect x="759" y="456" width="1" height="1" fill="#8c8c8c"/>
<rect x="774" y="456" width="1" height="1" fill="#8c8c8c"/>
<rect x="17" y="46" width="45" height="1" fill="#ffff00"/>
<rect x="17" y="47" width="3" height="1" fill="#c4c400"/>
<rect x="20" y="47" width="4" height="1" fill="#c4c400"/>
<rect x="24" y="47" width="1" height="1" fill="#c4c400"/>
<rect x="25" y="47" width="1" height="1" fill="#ffff00"/>
<rect x="26" y="47" width="1" height="1" fill="#c4c400"/>
<rect x="27" y="47" width="2" height="1" fill="#ffff00"/>
<rect x="29" y="47" width="4" height="1" fill="#ffff00"/>
<rect x="33" y="47" width="2" height="1" fill="#ffff00"/>
<rect x="35" y="47" width="4" height="1" fill="#ffff00"/>
<rect x="39" y="47" width="1" height="1" fill="#c4c400"/>
<rect x="40" y="47" width="1" height="1" fill="#c4c400"/>
<rect x="41" y="47" width="4" height="1" fill="#ffff00"/>
<rect x="45" y="47" width="2" height="1" fill="#ffff00"/>
<rect x="47" y="47" width="2" height="1" fill="#ffff00"/>
<rect x="49" y="47" width="2" height="1" fill="#c4c400"/>
<rect x="51" y="47" width="3" height="1" fill="#c4c400"/>
<rect x="54" y="47" width="2" height="1" fill="#ffff00"/>
<rect x="56" y="47" width="2" height="1" fill="#ffff00"/>
<rect x="58" y="47" width="1" height="1" fill="#c4c400"/>
<rect x="59" y="47" width="2" height="1" fill="#c4c400"/>
<rect x="61" y="47" width="1" height="1" fill="#c4c400"/>
<rect x="62" y="88" width="6" height="1" fill="#ffff00"/>
<rect x="62" y="87" width="6" height="1" fill="#ffff00"/>
<rect x="62" y="89" width="3" height="1" fill="#ffff00"/>
<rect x="68" y="46" width="7" height="1" fill="#ffff00"/>
<rect x="68" y="47" width="7" height="1" fill="#c4c400"/>
<rect x="68" y="45" width="3" height="1" fill="#ffff00"/>
<rect x="68" y="47" width="2" height="1" fill="#ffff00"/>
<rect x="75" y="88" width="6" height="1" fill="#ffff00"/>
<rect x="75" y="87" width="6" height="1" fill="#ffff00"/>
<rect x="75" y="89" width="3" height="1" fill="#ffff00"/>
<rect x="75" y="90" width="1" height="1" fill="#c4c400"/>
<rect x="81" y="46" width="7" height="1" fill="#ffff00"/>
<rect x="81" y="47" width="7" height="1" fill="#c4c400"/>
<rect x="81" y="45" width="3" height="1" fill="#ffff00"/>
<rect x="82" y="44" width="1" height="1" fill="#c4c400"/>
<rect x="81" y="47" width="2" height="1" fill="#ffff00"/>
<rect x="88" y="88" width="6" height="1" fill="#ffff00"/>
<rect x="88" y="87" width="6" height="1" fill="#ffff00"/>
<rect x="88" y="89" width="3" height="1" fill="#ffff00"/>
<rect x="88" y="90" width="1" height="1" fill="#c4c400"/>
<rect x="94" y="46" width="7" height="1" fill="#ffff00"/>
<rect x="94" y="47" width="7" height="1" fill="#c4c400"/>
<rect x="94" y="45" width="3" height="1" fill="#ffff00"/>
<rect x="94" y="47" width="2" height="1" fill="#ffff00"/>
<rect x="101" y="88" width="6" height="1" fill="#ffff00"/>
<rect x="101" y="87" width="6" height="1" fill="#ffff00"/>
<rect x="101" y="89" width="3" height="1" fill="#ffff00"/>
<rect x="101" y="90" width="1" height="1" fill="#c4c400"/>
<rect x="107" y="46" width="7" height="1" fill="#ffff00"/>
<rect x="107" y="47" width="7" height="1" fill="#c4c400"/>
<rect x="107" y="45" width="3" height="1" fill="#ffff00"/>
<rect x="108" y="44" width="1" height="1" fill="#c4c400"/>
<rect x="107" y="47" width="2" height="1" fill="#ffff00"/>
<rect x="114" y="88" width="6" height="1" fill="#ffff00"/>
<rect x="114" y="87" width="6" height="1" fill="#ffff00"/>
<rect x="114" y="89" width="3" height="1" fill="#ffff00"/>
<rect x="120" y="46" width="7" height="1" fill="#ffff00"/>
<rect x="120" y="47" width="7" height="1" fill="#c4c400"/>
<rect x="120" y="45" width="3" height="1" fill="#ffff00"/>
<rect x="121" y="44" width="1" height="1" fill="#c4c400"/>
<rect x="120" y="47" width="2" height="1" fill="#ffff00"/>
<rect x="127" y="88" width="6" height="1" fill="#ffff00"/>
<rect x="127" y="87" width="6" height="1" fill="#ffff00"/>
<rect x="127" y="89" width="3" height="1" fill="#ffff00"/>
<rect x="133" y="46" width="7" height="1" fill="#ffff00"/>
<rect x="133" y="47" width="7" height="1" fill="#c4c400"/>
<rect x="133" y="45" width="3" height="1" fill="#ffff00"/>
<rect x="133" y="47" width="2" height="1" fill="#ffff00"/>
<rect x="140" y="88" width="6" height="1" fill="#ffff00"/>
<rect x="140" y="87" width="6" height="1" fill="#ffff00"/>
<rect x="140" y="89" width="3" height="1" fill="#ffff00"/>
<rect x="140" y="90" width="1" height="1" fill="#c4c400"/>
<rect x="146" y="46" width="7" height="1" fill="#ffff00"/>
<rect x="146" y="47" width="7" height="1" fill="#c4c400"/>
<rect x="146" y="45" width="3" height="1" fill="#ffff00"/>
<rect x="146" y="47" width="2" height="1" fill="#ffff00"/>
<rect x="153" y="88" width="5" height="1" fill="#ffff00"/>
<rect x="153" y="87" width="5" height="1" fill="#ffff00"/>
<rect x="153" y="89" width="3" height="1" fill="#ffff00"/>
<rect x="153" y="90" width="1" height="1" fill="#c4c400"/>
<rect x="158" y="46" width="7" height="1" fill="#ffff00"/>
<rect x="158" y="47" width="7" height="1" fill="#c4c400"/>
<rect x="158" y="45" width="3" height="1" fill="#ffff00"/>
<rect x="159" y="44" width="1" height="1" fill="#c4c400"/>
<rect x="158" y="47" width="2" height="1" fill="#ffff00"/>
<rect x="165" y="88" width="6" height="1" fill="#ffff00"/>
<rect x="165" y="87" width="6" height="1" fill="#ffff00"/>
<rect x="165" y="89" width="3" height="1" fill="#ffff00"/>
<rect x="171" y="46" width="7" height="1" fill="#ffff00"/>
<rect x="171" y="47" width="7" height="1" fill="#c4c400"/>
<rect x="171" y="45" width="3" height="1" fill="#ffff00"/>
<rect x="172" y="44" width="1" height="1" fill="#c4c400"/>
<rect x="171" y="47" width="2" height="1" fill="#ffff00"/>
<rect x="178" y="88" width="6" height="1" fill="#ffff00"/>
<rect x="178" y="87" width="6" height="1" fill="#ffff00"/>
<rect x="178" y="89" width="3" height="1" fill="#ffff00"/>
<rect x="184" y="46" width="7" height="1" fill="#ffff00"/>
<rect x="184" y="47" width="7" height="1" fill="#c4c400"/>
<rect x="184" y="45" width="3" height="1" fill="#ffff00"/>
<rect x="185" y="44" width="1" height="1" fill="#c4c400"/>
<rect x="184" y="47" width="2" height="1" fill="#ffff00"/>
<rect x="191" y="88" width="6" height="1" fill="#ffff00"/>
<rect x="191" y="87" width="6" height="1" fill="#ffff00"/>
<rect x="191" y="89" width="3" height="1" fill="#ffff00"/>
<rect x="197" y="46" width="7" height="1" fill="#ffff00"/>
<rect x="197" y="47" width="7" height="1" fill="#c4c400"/>
<rect x="197" y="45" width="3" height="1" fill="#ffff00"/>
<rect x="197" y="47" width="2" height="1" fill="#ffff00"/>
<rect x="204" y="88" width="6" height="1" fill="#ffff00"/>
<rect x="204" y="87" width="6" height="1" fill="#ffff00"/>
<rect x="204" y="89" width="3" height="1" fill="#ffff00"/>
<rect x="210" y="46" width="7" height="1" fill="#ffff00"/>
<rect x="210" y="47" width="7" height="1" fill="#c4c400"/>
<rect x="210" y="45" width="3" height="1" fill="#ffff00"/>
<rect x="211" y="44" width="1" height="1" fill="#c4c400"/>
<rect x="210" y="47" width="2" height="1" fill="#ffff00"/>
<rect x="217" y="88" width="6" height="1" fill="#ffff00"/>
<rect x="217" y="87" width="6" height="1" fill="#ffff00"/>
<rect x="217" y="89" width="3" height="1" fill="#ffff00"/>
<rect x="217" y="90" width="1" height="1" fill="#c4c400"/>
<rect x="223" y="46" width="7" height="1" fill="#ffff00"/>
<rect x="223" y="47" width="7" height="1" fill="#c4c400"/>
<rect x="223" y="45" width="3" height="1" fill="#ffff00"/>
<rect x="224" y="44" width="1" height="1" fill="#c4c400"/>
<rect x="223" y="47" width="2" height="1" fill="#ffff00"/>
<rect x="230" y="88" width="6" height="1" fill="#ffff00"/>
<rect x="230" y="87" width="6" height="1" fill="#ffff00"/>
<rect x="230" y="89" width="3" height="1" fill="#ffff00"/>
<rect x="236" y="46" width="7" height="1" fill="#ffff00"/>
<rect x="236" y="47" width="7" height="1" fill="#c4c400"/>
<rect x="236" y="45" width="3" height="1" fill="#ffff00"/>
<rect x="237" y="44" width="1" height="1" fill="#c4c400"/>
<rect x="236" y="47" width="2" height="1" fill="#ffff00"/>
<rect x="243" y="88" width="6" height="1" fill="#ffff00"/>
<rect x="243" y="87" width="6" height="1" fill="#ffff00"/>
<rect x="243" y="89" width="3" height="1" fill="#ffff00"/>
<rect x="243" y="90" width="1" height="1" fill="#c4c400"/>
<rect x="249" y="46" width="7" height="1" fill="#ffff00"/>
<rect x="249" y="47" width="7" height="1" fill="#c4c400"/>
<rect x="249" y="45" width="3" height="1" fill="#ffff00"/>
<rect x="250" y="44" width="1" height="1" fill="#c4c400"/>
<rect x="249" y="47" width="2" height="1" fill="#ffff00"/>
<rect x="256" y="88" width="6" height="1" fill="#ffff00"/>
<rect x="256" y="87" width="6" height="1" fill="#ffff00"/>
<rect x="256" y="89" width="3" height="1" fill="#ffff00"/>
<rect x="262" y="46" width="7" height="1" fill="#ffff00"/>
<rect x="262" y="47" width="7" height="1" fill="#c4c400"/>
<rect x="262" y="45" width="3" height="1" fill="#ffff00"/>
<rect x="263" y="44" width="1" height="1" fill="#c4c400"/>
<rect x="262" y="47" width="2" height="1" fill="#ffff00"/>
<rect x="269" y="88" width="6" height="1" fill="#ffff00"/>
<rect x="269" y="87" width="6" height="1" fill="#ffff00"/>
<rect x="269" y="89" width="3" height="1" fill="#ffff00"/>
<rect x="275" y="46" width="7" height="1" fill="#ffff00"/>
<rect x="275" y="47" width="7" height="1" fill="#c4c400"/>
<rect x="275" y="45" width="3" height="1" fill="#ffff00"/>
<rect x="276" y="44" width="1" height="1" fill="#c4c400"/>
<rect x="275" y="47" width="2" height="1" fill="#ffff00"/>
<rect x="282" y="88" width="6" height="1" fill="#ffff00"/>
<rect x="282" y="87" width="6" height="1" fill="#ffff00"/>
<rect x="282" y="89" width="3" height="1" fill="#ffff00"/>
<rect x="288" y="46" width="7" height="1" fill="#ffff00"/>
<rect x="288" y="47" width="7" height="1" fill="#c4c400"/>
<rect x="288" y="45" width="3" height="1" fill="#ffff00"/>
<rect x="288" y="47" width="2" height="1" fill="#ffff00"/>
<rect x="295" y="88" width="5" height="1" fill="#ffff00"/>
<rect x="295" y="87" width="5" height="1" fill="#ffff00"/>
<rect x="295" y="89" width="3" height="1" fill="#ffff00"/>
<rect x="300" y="46" width="7" height="1" fill="#ffff00"/>
<rect x="300" y="47" width="7" height="1" fill="#c4c400"/>
<rect x="300" y="45" width="3" height="1" fill="#ffff00"/>
<rect x="300" y="47" width="2" height="1" fill="#ffff00"/>
<rect x="307" y="88" width="6" height="1" fill="#ffff00"/>
<rect x="307" y="87" width="6" height="1" fill="#ffff00"/>
<rect x="307" y="89" width="3" height="1" fill="#ffff00"/>
<rect x="313" y="46" width="7" height="1" fill="#ffff00"/>
<rect x="313" y="47" width="7" height="1" fill="#c4c400"/>
<rect x="313" y="45" width="3" height="1" fill="#ffff00"/>
<rect x="314" y="44" width="1" height="1" fill="#c4c400"/>
<rect x="313" y="47" width="2" height="1" fill="#ffff00"/>
<rect x="320" y="88" width="6" height="1" fill="#ffff00"/>
<rect x="320" y="87" width="6" height="1" fill="#ffff00"/>
<rect x="320" y="89" width="3" height="1" fill="#ffff00"/>
<rect x="326" y="46" width="7" height="1" fill="#ffff00"/>
<rect x="326" y="47" width="7" height="1" fill="#c4c400"/>
<rect x="326" y="45" width="3" height="1" fill="#ffff00"/>
<rect x="327" y="44" width="1" height="1" fill="#c4c400"/>
<rect x="326" y="47" width="2" height="1" fill="#ffff00"/>
<rect x="333" y="88" width="6" height="1" fill="#ffff00"/>
<rect x="333" y="87" width="6" height="1" fill="#ffff00"/>
<rect x="333" y="89" width="3" height="1" fill="#ffff00"/>
<rect x="339" y="46" width="7" height="1" fill="#ffff00"/>
<rect x="339" y="47" width="7" height="1" fill="#c4c400"/>
<rect x="339" y="45" width="3" height="1" fill="#ffff00"/>
<rect x="340" y="44" width="1" height="1" fill="#c4c400"/>
<rect x="339" y="47" width="2" height="1" fill="#ffff00"/>
<rect x="346" y="88" width="6" height="1" fill="#ffff00"/>
<rect x="346" y="87" width="6" height="1" fill="#ffff00"/>
<rect x="346" y="89" width="3" height="1" fill="#ffff00"/>
<rect x="346" y="90" width="1" height="1" fill="#c4c400"/>
<rect x="352" y="46" width="7" height="1" fill="#ffff00"/>
<rect x="352" y="47" width="7" height="1" fill="#c4c400"/>
<rect x="352" y="45" width="3" height="1" fill="#ffff00"/>
<rect x="353" y="44" width="1" height="1" fill="#c4c400"/>
<rect x="352" y="47" width="2" height="1" fill="#ffff00"/>
<rect x="359" y="88" width="6" height="1" fill="#ffff00"/>
<rect x="359" y="87" width="6" height="1" fill="#ffff00"/>
<rect x="359" y="89" width="3" height="1" fill="#ffff00"/>
<rect x="365" y="46" width="7" height="1" fill="#ffff00"/>
<rect x="365" y="47" width="7" height="1" fill="#c4c400"/>
<rect x="365" y="45" width="3" height="1" fill="#ffff00"/>
<rect x="366" y="44" width="1" height="1" fill="#c4c400"/>
<rect x="365" y="47" width="2" height="1" fill="#ffff00"/>
<rect x="372" y="88" width="6" height="1" fill="#ffff00"/>
<rect x="372" y="87" width="6" height="1" fill="#ffff00"/>
<rect x="372" y="89" width="3" height="1" fill="#ffff00"/>
<rect x="378" y="46" width="7" height="1" fill="#ffff00"/>
<rect x="378" y="47" width="7" height="1" fill="#c4c400"/>
<rect x="378" y="45" width="3" height="1" fill="#ffff00"/>
<rect x="379" y="44" width="1" height="1" fill="#c4c400"/>
<rect x="378" y="47" width="2" height="1" fill="#ffff00"/>
<rect x="385" y="88" width="6" height="1" fill="#ffff00"/>
<rect x="385" y="87" width="6" height="1" fill="#ffff00"/>
<rect x="385" y="89" width="3" height="1" fill="#ffff00"/>
<rect x="385" y="90" width="1" height="1" fill="#c4c400"/>
<rect x="391" y="46" width="7" height="1" fill="#ffff00"/>
<rect x="391" y="47" width="7" height="1" fill="#c4c400"/>
<rect x="391" y="45" width="3" height="1" fill="#ffff00"/>
<rect x="392" y="44" width="1" height="1" fill="#c4c400"/>
<rect x="391" y="47" width="2" height="1" fill="#ffff00"/>
<rect x="398" y="88" width="6" height="1" fill="#ffff00"/>
<rect x="398" y="87" width="6" height="1" fill="#ffff00"/>
<rect x="398" y="89" width="3" height="1" fill="#ffff00"/>
<rect x="398" y="90" width="1" height="1" fill="#c4c400"/>
<rect x="404" y="46" width="7" height="1" fill="#ffff00"/>
<rect x="404" y="47" width="7" height="1" fill="#c4c400"/>
<rect x="404" y="45" width="3" height="1" fill="#ffff00"/>
<rect x="405" y="44" width="1" height="1" fill="#c4c400"/>
<rect x="404" y="47" width="2" height="1" fill="#ffff00"/>
<rect x="411" y="88" width="6" height="1" fill="#ffff00"/>
<rect x="411" y="87" width="6" height="1" fill="#ffff00"/>
<rect x="411" y="89" width="3" height="1" fill="#ffff00"/>
<rect x="417" y="46" width="7" height="1" fill="#ffff00"/>
<rect x="417" y="47" width="7" height="1" fill="#c4c400"/>
<rect x="417" y="45" width="3" height="1" fill="#ffff00"/>
<rect x="417" y="47" width="2" height="1" fill="#ffff00"/>
<rect x="424" y="88" width="6" height="1" fill="#ffff00"/>
<rect x="424" y="87" width="6" height="1" fill="#ffff00"/>
<rect x="424" y="89" width="3" height="1" fill="#ffff00"/>
<rect x="430" y="46" width="7" height="1" fill="#ffff00"/>
<rect x="430" y="47" width="7" height="1" fill="#c4c400"/>
<rect x="430" y="45" width="3" height="1" fill="#ffff00"/>
<rect x="430" y="47" width="2" height="1" fill="#ffff00"/>
<rect x="437" y="88" width="5" height="1" fill="#ffff00"/>
<rect x="437" y="87" width="5" height="1" fill="#ffff00"/>
<rect x="437" y="89" width="3" height="1" fill="#ffff00"/>
<rect x="442" y="46" width="8" height="1" fill="#ffff00"/>
<rect x="442" y="47" width="8" height="1" fill="#c4c400"/>
<rect x="442" y="45" width="3" height="1" fill="#ffff00"/>
<rect x="443" y="44" width="1" height="1" fill="#c4c400"/>
<rect x="442" y="47" width="2" height="1" fill="#ffff00"/>
<rect x="450" y="88" width="5" height="1" fill="#ffff00"/>
<rect x="450" y="87" width="5" height="1" fill="#ffff00"/>
<rect x="450" y="89" width="3" height="1" fill="#ffff00"/>
<rect x="450" y="90" width="1" height="1" fill="#c4c400"/>
<rect x="455" y="46" width="7" height="1" fill="#ffff00"/>
<rect x="455" y="47" width="7" height="1" fill="#c4c400"/>
<rect x="455" y="45" width="3" height="1" fill="#ffff00"/>
<rect x="456" y="44" width="1" height="1" fill="#c4c400"/>
<rect x="455" y="47" width="2" height="1" fill="#ffff00"/>
<rect x="462" y="88" width="6" height="1" fill="#ffff00"/>
<rect x="462" y="87" width="6" height="1" fill="#ffff00"/>
<rect x="462" y="89" width="3" height="1" fill="#ffff00"/>
<rect x="462" y="90" width="1" height="1" fill="#c4c400"/>
<rect x="468" y="46" width="123" height="1" fill="#ffff00"/>
<rect x="468" y="47" width="2" height="1" fill="#ffff00"/>
<rect x="470" y="47" width="2" height="1" fill="#ffff00"/>
<rect x="472" y="47" width="1" height="1" fill="#ffff00"/>
<rect x="473" y="47" width="3" height="1" fill="#c4c400"/>
<rect x="476" y="47" width="3" height="1" fill="#c4c400"/>
<rect x="479" y="47" width="1" height="1" fill="#c4c400"/>
<rect x="480" y="47" width="4" height="1" fill="#ffff00"/>
<rect x="484" y="47" width="4" height="1" fill="#ffff00"/>
<rect x="488" y="47" width="4" height="1" fill="#ffff00"/>
<rect x="492" y="47" width="1" height="1" fill="#c4c400"/>
<rect x="493" y="47" width="4" height="1" fill="#ffff00"/>
<rect x="497" y="47" width="3" height="1" fill="#c4c400"/>
<rect x="500" y="47" width="1" height="1" fill="#ffff00"/>
<rect x="501" y="47" width="2" height="1" fill="#c4c400"/>
<rect x="503" y="47" width="3" height="1" fill="#c4c400"/>
<rect x="506" y="47" width="1" height="1" fill="#c4c400"/>
<rect x="507" y="47" width="4" height="1" fill="#ffff00"/>
<rect x="511" y="47" width="3" height="1" fill="#c4c400"/>
<rect x="514" y="47" width="3" height="1" fill="#c4c400"/>
<rect x="517" y="47" width="1" height="1" fill="#c4c400"/>
<rect x="518" y="47" width="4" height="1" fill="#c4c400"/>
<rect x="522" y="47" width="3" height="1" fill="#ffff00"/>
<rect x="525" y="47" width="1" height="1" fill="#c4c400"/>
<rect x="526" y="47" width="3" height="1" fill="#c4c400"/>
<rect x="529" y="47" width="2" height="1" fill="#c4c400"/>
<rect x="531" y="47" width="2" height="1" fill="#c4c400"/>
<rect x="533" y="47" width="3" height="1" fill="#ffff00"/>
<rect x="536" y="47" width="1" height="1" fill="#c4c400"/>
<rect x="537" y="47" width="3" height="1" fill="#c4c400"/>
<rect x="540" y="47" width="1" height="1" fill="#c4c400"/>
<rect x="541" y="47" width="3" height="1" fill="#c4c400"/>
<rect x="544" y="47" width="2" height="1" fill="#ffff00"/>
<rect x="546" y="47" width="2" height="1" fill="#c4c400"/>
<rect x="548" y="47" width="3" height="1" fill="#c4c400"/>
<rect x="551" y="47" width="2" height="1" fill="#c4c400"/>
<rect x="553" y="47" width="4" height="1" fill="#c4c400"/>
<rect x="557" y="47" width="2" height="1" fill="#ffff00"/>
<rect x="559" y="47" width="4" height="1" fill="#ffff00"/>
<rect x="563" y="47" width="1" height="1" fill="#c4c400"/>
<rect x="564" y="47" width="3" height="1" fill="#c4c400"/>
<rect x="567" y="47" width="2" height="1" fill="#c4c400"/>
<rect x="569" y="47" width="3" height="1" fill="#ffff00"/>
<rect x="572" y="47" width="3" height="1" fill="#c4c400"/>
<rect x="575" y="47" width="3" height="1" fill="#ffff00"/>
<rect x="578" y="47" width="1" height="1" fill="#ffff00"/>
<rect x="579" y="47" width="2" height="1" fill="#ffff00"/>
<rect x="581" y="47" width="4" height="1" fill="#c4c400"/>
<rect x="585" y="47" width="1" height="1" fill="#c4c400"/>
<rect x="586" y="47" width="3" height="1" fill="#c4c400"/>
<rect x="589" y="47" width="1" height="1" fill="#c4c400"/>
<rect x="590" y="47" width="1" height="1" fill="#c4c400"/>
<rect x="591" y="88" width="5" height="1" fill="#ffff00"/>
<rect x="591" y="87" width="5" height="1" fill="#ffff00"/>
<rect x="591" y="89" width="3" height="1" fill="#ffff00"/>
<rect x="596" y="46" width="8" height="1" fill="#ffff00"/>
<rect x="596" y="47" width="8" height="1" fill="#c4c400"/>
<rect x="596" y="45" width="3" height="1" fill="#ffff00"/>
<rect x="596" y="47" width="2" height="1" fill="#ffff00"/>
<rect x="604" y="88" width="5" height="1" fill="#ffff00"/>
<rect x="604" y="87" width="5" height="1" fill="#ffff00"/>
<rect x="604" y="89" width="3" height="1" fill="#ffff00"/>
<rect x="609" y="46" width="8" height="1" fill="#ffff00"/>
<rect x="609" y="47" width="8" height="1" fill="#c4c400"/>
<rect x="609" y="45" width="3" height="1" fill="#ffff00"/>
<rect x="610" y="44" width="1" height="1" fill="#c4c400"/>
<rect x="609" y="47" width="2" height="1" fill="#ffff00"/>
<rect x="617" y="88" width="5" height="1" fill="#ffff00"/>
<rect x="617" y="87" width="5" height="1" fill="#ffff00"/>
<rect x="617" y="89" width="3" height="1" fill="#ffff00"/>
<rect x="622" y="46" width="8" height="1" fill="#ffff00"/>
<rect x="622" y="47" width="8" height="1" fill="#c4c400"/>
<rect x="622" y="45" width="3" height="1" fill="#ffff00"/>
<rect x="623" y="44" width="1" height="1" fill="#c4c400"/>
<rect x="622" y="47" width="2" height="1" fill="#ffff00"/>
<rect x="630" y="88" width="5" height="1" fill="#ffff00"/>
<rect x="630" y="87" width="5" height="1" fill="#ffff00"/>
<rect x="630" y="89" width="3" height="1" fill="#ffff00"/>
<rect x="635" y="46" width="7" height="1" fill="#ffff00"/>
<rect x="635" y="47" width="7" height="1" fill="#c4c400"/>
<rect x="635" y="45" width="3" height="1" fill="#ffff00"/>
<rect x="635" y="47" width="2" height="1" fill="#ffff00"/>
<rect x="642" y="88" width="6" height="1" fill="#ffff00"/>
<rect x="642" y="87" width="6" height="1" fill="#ffff00"/>
<rect x="642" y="89" width="3" height="1" fill="#ffff00"/>
<rect x="642" y="90" width="1" height="1" fill="#c4c400"/>
<rect x="648" y="46" width="7" height="1" fill="#ffff00"/>
<rect x="648" y="47" width="7" height="1" fill="#c4c400"/>
<rect x="648" y="45" width="3" height="1" fill="#ffff00"/>
<rect x="649" y="44" width="1" height="1" fill="#c4c400"/>
<rect x="648" y="47" width="2" height="1" fill="#ffff00"/>
<rect x="655" y="88" width="6" height="1" fill="#ffff00"/>
<rect x="655" y="87" width="6" height="1" fill="#ffff00"/>
<rect x="655" y="89" width="3" height="1" fill="#ffff00"/>
<rect x="661" y="46" width="7" height="1" fill="#ffff00"/>
<rect x="661" y="47" width="7" height="1" fill="#c4c400"/>
<rect x="661" y="45" width="3" height="1" fill="#ffff00"/>
<rect x="661" y="47" width="2" height="1" fill="#ffff00"/>
<rect x="668" y="88" width="6" height="1" fill="#ffff00"/>
<rect x="668" y="87" width="6" height="1" fill="#ffff00"/>
<rect x="668" y="89" width="3" height="1" fill="#ffff00"/>
<rect x="668" y="90" width="1" height="1" fill="#c4c400"/>
<rect x="674" y="46" width="7" height="1" fill="#ffff00"/>
<rect x="674" y="47" width="7" height="1" fill="#c4c400"/>
<rect x="674" y="45" width="3" height="1" fill="#ffff00"/>
<rect x="675" y="44" width="1" height="1" fill="#c4c400"/>
<rect x="674" y="47" width="2" height="1" fill="#ffff00"/>
<rect x="681" y="88" width="6" height="1" fill="#ffff00"/>
<rect x="681" y="87" width="6" height="1" fill="#ffff00"/>
<rect x="681" y="89" width="3" height="1" fill="#ffff00"/>
<rect x="681" y="90" width="1" height="1" fill="#c4c400"/>
<rect x="687" y="46" width="7" height="1" fill="#ffff00"/>
<rect x="687" y="47" width="7" height="1" fill="#c4c400"/>
<rect x="687" y="45" width="3" height="1" fill="#ffff00"/>
<rect x="687" y="47" width="2" height="1" fill="#ffff00"/>
<rect x="694" y="88" width="6" height="1" fill="#ffff00"/>
<rect x="694" y="87" width="6" height="1" fill="#ffff00"/>
<rect x="694" y="89" width="3" height="1" fill="#ffff00"/>
<rect x="700" y="46" width="7" height="1" fill="#ffff00"/>
<rect x="700" y="47" width="7" height="1" fill="#c4c400"/>
<rect x="700" y="45" width="3" height="1" fill="#ffff00"/>
<rect x="701" y="44" width="1" height="1" fill="#c4c400"/>
<rect x="700" y="47" width="2" height="1" fill="#ffff00"/>
<rect x="707" y="88" width="5" height="1" fill="#ffff00"/>
<rect x="707" y="87" width="5" height="1" fill="#ffff00"/>
<rect x="707" y="89" width="3" height="1" fill="#ffff00"/>
<rect x="712" y="46" width="8" height="1" fill="#ffff00"/>
<rect x="712" y="47" width="8" height="1" fill="#c4c400"/>
<rect x="712" y="45" width="3" height="1" fill="#ffff00"/>
<rect x="712" y="47" width="2" height="1" fill="#ffff00"/>
<rect x="720" y="88" width="5" height="1" fill="#ffff00"/>
<rect x="720" y="87" width="5" height="1" fill="#ffff00"/>
<rect x="720" y="89" width="3" height="1" fill="#ffff00"/>
<rect x="725" y="46" width="8" height="1" fill="#ffff00"/>
<rect x="725" y="47" width="8" height="1" fill="#c4c400"/>
<rect x="725" y="45" width="3" height="1" fill="#ffff00"/>
<rect x="726" y="44" width="1" height="1" fill="#c4c400"/>
<rect x="725" y="47" width="2" height="1" fill="#ffff00"/>
<rect x="733" y="88" width="5" height="1" fill="#ffff00"/>
<rect x="733" y="87" width="5" height="1" fill="#ffff00"/>
<rect x="733" y="89" width="3" height="1" fill="#ffff00"/>
<rect x="738" y="46" width="8" height="1" fill="#ffff00"/>
<rect x="738" y="47" width="8" height="1" fill="#c4c400"/>
<rect x="738" y="45" width="3" height="1" fill="#ffff00"/>
<rect x="739" y="44" width="1" height="1" fill="#c4c400"/>
<rect x="738" y="47" width="2" height="1" fill="#ffff00"/>
<rect x="746" y="88" width="5" height="1" fill="#ffff00"/>
<rect x="746" y="87" width="5" height="1" fill="#ffff00"/>
<rect x="746" y="89" width="3" height="1" fill="#ffff00"/>
<rect x="746" y="90" width="1" height="1" fill="#c4c400"/>
<rect x="751" y="46" width="8" height="1" fill="#ffff00"/>
<rect x="751" y="47" width="8" height="1" fill="#c4c400"/>
<rect x="751" y="45" width="3" height="1" fill="#ffff00"/>
<rect x="751" y="47" width="2" height="1" fill="#ffff00"/>
<rect x="759" y="88" width="5" height="1" fill="#ffff00"/>
<rect x="759" y="87" width="5" height="1" fill="#ffff00"/>
<rect x="759" y="89" width="3" height="1" fill="#ffff00"/>
<rect x="764" y="46" width="8" height="1" fill="#ffff00"/>
<rect x="764" y="47" width="8" height="1" fill="#c4c400"/>
<rect x="764" y="45" width="3" height="1" fill="#ffff00"/>
<rect x="764" y="47" width="2" height="1" fill="#ffff00"/>
<rect x="772" y="88" width="5" height="1" fill="#ffff00"/>
<rect x="772" y="87" width="5" height="1" fill="#ffff00"/>
<rect x="772" y="89" width="3" height="1" fill="#ffff00"/>
<rect x="777" y="46" width="7" height="1" fill="#ffff00"/>
<rect x="777" y="47" width="7" height="1" fill="#c4c400"/>
<rect x="777" y="45" width="3" height="1" fill="#ffff00"/>
<rect x="778" y="44" width="1" height="1" fill="#c4c400"/>
<rect x="777" y="47" width="2" height="1" fill="#ffff00"/>
<rect x="784" y="88" width="5" height="1" fill="#ffff00"/>
<rect x="784" y="87" width="5" height="1" fill="#ffff00"/>
<rect x="784" y="89" width="3" height="1" fill="#ffff00"/>
<rect x="61" y="46" width="1" height="35" fill="#a8a800"/>
<rect x="62" y="80" width="1" height="9" fill="#a8a800"/>
<rect x="67" y="55" width="1" height="33" fill="#a8a800"/>
<rect x="68" y="45" width="1" height="11" fill="#a8a800"/>
<rect x="74" y="46" width="1" height="26" fill="#a8a800"/>
<rect x="75" y="71" width="1" height="18" fill="#a8a800"/>
<rect x="80" y="60" width="1" height="28" fill="#a8a800"/>
<rect x="81" y="45" width="1" height="16" fill="#a8a800"/>
<rect x="87" y="46" width="1" height="26" fill="#a8a800"/>
<rect x="88" y="71" width="1" height="18" fill="#a8a800"/>
<rect x="94" y="45" width="1" height="43" fill="#a8a800"/>
<rect x="100" y="46" width="1" height="24" fill="#a8a800"/>
<rect x="101" y="69" width="1" height="20" fill="#a8a800"/>
<rect x="107" y="45" width="1" height="43" fill="#a8a800"/>
<rect x="113" y="46" width="1" height="27" fill="#a8a800"/>
<rect x="114" y="72" width="1" height="17" fill="#a8a800"/>
<rect x="120" y="45" width="1" height="43" fill="#a8a800"/>
<rect x="126" y="46" width="1" height="31" fill="#a8a800"/>
<rect x="127" y="76" width="1" height="13" fill="#a8a800"/>
<rect x="133" y="45" width="1" height="43" fill="#a8a800"/>
<rect x="139" y="46" width="1" height="28" fill="#a8a800"/>
<rect x="140" y="73" width="1" height="16" fill="#a8a800"/>
<rect x="146" y="45" width="1" height="43" fill="#a8a800"/>
<rect x="152" y="46" width="1" height="30" fill="#a8a800"/>
<rect x="153" y="75" width="1" height="14" fill="#a8a800"/>
<rect x="158" y="45" width="1" height="43" fill="#a8a800"/>
<rect x="164" y="46" width="1" height="30" fill="#a8a800"/>
<rect x="165" y="75" width="1" height="14" fill="#a8a800"/>
<rect x="170" y="58" width="1" height="30" fill="#a8a800"/>
<rect x="171" y="45" width="1" height="14" fill="#a8a800"/>
<rect x="177" y="46" width="1" height="24" fill="#a8a800"/>
<rect x="178" y="69" width="1" height="20" fill="#a8a800"/>
<rect x="183" y="63" width="1" height="25" fill="#a8a800"/>
<rect x="184" y="45" width="1" height="19" fill="#a8a800"/>
<rect x="190" y="46" width="1" height="24" fill="#a8a800"/>
<rect x="191" y="69" width="1" height="20" fill="#a8a800"/>
<rect x="197" y="45" width="1" height="43" fill="#a8a800"/>
<rect x="203" y="46" width="1" height="33" fill="#a8a800"/>
<rect x="204" y="78" width="1" height="11" fill="#a8a800"/>
<rect x="210" y="45" width="1" height="43" fill="#a8a800"/>
<rect x="216" y="46" width="1" height="27" fill="#a8a800"/>
<rect x="217" y="72" width="1" height="17" fill="#a8a800"/>
<rect x="223" y="45" width="1" height="43" fill="#a8a800"/>
<rect x="229" y="46" width="1" height="30" fill="#a8a800"/>
<rect x="230" y="75" width="1" height="14" fill="#a8a800"/>
<rect x="236" y="45" width="1" height="43" fill="#a8a800"/>
<rect x="242" y="46" width="1" height="23" fill="#a8a800"/>
<rect x="243" y="68" width="1" height="21" fill="#a8a800"/>
<rect x="249" y="45" width="1" height="43" fill="#a8a800"/>
<rect x="255" y="46" width="1" height="25" fill="#a8a800"/>
<rect x="256" y="70" width="1" height="19" fill="#a8a800"/>
<rect x="261" y="62" width="1" height="26" fill="#a8a800"/>
<rect x="262" y="45" width="1" height="18" fill="#a8a800"/>
<rect x="268" y="46" width="1" height="30" fill="#a8a800"/>
<rect x="269" y="75" width="1" height="14" fill="#a8a800"/>
<rect x="275" y="45" width="1" height="43" fill="#a8a800"/>
<rect x="281" y="46" width="1" height="34" fill="#a8a800"/>
<rect x="282" y="79" width="1" height="10" fill="#a8a800"/>
<rect x="288" y="45" width="1" height="43" fill="#a8a800"/>
<rect x="294" y="46" width="1" height="29" fill="#a8a800"/>
<rect x="295" y="74" width="1" height="15" fill="#a8a800"/>
<rect x="300" y="45" width="1" height="43" fill="#a8a800"/>
<rect x="306" y="46" width="1" height="30" fill="#a8a800"/>
<rect x="307" y="75" width="1" height="14" fill="#a8a800"/>
<rect x="313" y="45" width="1" height="43" fill="#a8a800"/>
<rect x="319" y="46" width="1" height="33" fill="#a8a800"/>
<rect x="320" y="78" width="1" height="11" fill="#a8a800"/>
<rect x="326" y="45" width="1" height="43" fill="#a8a800"/>
<rect x="332" y="46" width="1" height="30" fill="#a8a800"/>
<rect x="333" y="75" width="1" height="14" fill="#a8a800"/>
<rect x="339" y="45" width="1" height="43" fill="#a8a800"/>
<rect x="345" y="46" width="1" height="37" fill="#a8a800"/>
<rect x="346" y="82" width="1" height="7" fill="#a8a800"/>
<rect x="352" y="45" width="1" height="43" fill="#a8a800"/>
<rect x="358" y="46" width="1" height="36" fill="#a8a800"/>
<rect x="359" y="81" width="1" height="8" fill="#a8a800"/>
<rect x="365" y="45" width="1" height="43" fill="#a8a800"/>
<rect x="371" y="46" width="1" height="26" fill="#a8a800"/>
<rect x="372" y="71" width="1" height="18" fill="#a8a800"/>
<rect x="378" y="45" width="1" height="43" fill="#a8a800"/>
<rect x="384" y="46" width="1" height="37" fill="#a8a800"/>
<rect x="385" y="82" width="1" height="7" fill="#a8a800"/>
<rect x="391" y="45" width="1" height="43" fill="#a8a800"/>
<rect x="397" y="46" width="1" height="24" fill="#a8a800"/>
<rect x="398" y="69" width="1" height="20" fill="#a8a800"/>
<rect x="403" y="58" width="1" height="30" fill="#a8a800"/>
<rect x="404" y="45" width="1" height="14" fill="#a8a800"/>
<rect x="410" y="46" width="1" height="23" fill="#a8a800"/>
<rect x="411" y="68" width="1" height="21" fill="#a8a800"/>
<rect x="416" y="53" width="1" height="35" fill="#a8a800"/>
<rect x="417" y="45" width="1" height="9" fill="#a8a800"/>
<rect x="423" y="46" width="1" height="32" fill="#a8a800"/>
<rect x="424" y="77" width="1" height="12" fill="#a8a800"/>
<rect x="430" y="45" width="1" height="43" fill="#a8a800"/>
<rect x="436" y="46" width="1" height="36" fill="#a8a800"/>
<rect x="437" y="81" width="1" height="8" fill="#a8a800"/>
<rect x="441" y="62" width="1" height="26" fill="#a8a800"/>
<rect x="442" y="45" width="1" height="18" fill="#a8a800"/>
<rect x="449" y="46" width="1" height="32" fill="#a8a800"/>
<rect x="450" y="77" width="1" height="12" fill="#a8a800"/>
<rect x="454" y="64" width="1" height="24" fill="#a8a800"/>
<rect x="455" y="45" width="1" height="20" fill="#a8a800"/>
<rect x="461" y="46" width="1" height="37" fill="#a8a800"/>
<rect x="462" y="82" width="1" height="7" fill="#a8a800"/>
<rect x="467" y="65" width="1" height="23" fill="#a8a800"/>
<rect x="468" y="45" width="1" height="21" fill="#a8a800"/>
<rect x="590" y="46" width="1" height="28" fill="#a8a800"/>
<rect x="591" y="73" width="1" height="16" fill="#a8a800"/>
<rect x="596" y="45" width="1" height="43" fill="#a8a800"/>
<rect x="603" y="46" width="1" height="37" fill="#a8a800"/>
<rect x="604" y="82" width="1" height="7" fill="#a8a800"/>
<rect x="609" y="45" width="1" height="43" fill="#a8a800"/>
<rect x="616" y="46" width="1" height="24" fill="#a8a800"/>
<rect x="617" y="69" width="1" height="20" fill="#a8a800"/>
<rect x="622" y="45" width="1" height="43" fill="#a8a800"/>
<rect x="629" y="46" width="1" height="30" fill="#a8a800"/>
<rect x="630" y="75" width="1" height="14" fill="#a8a800"/>
<rect x="635" y="45" width="1" height="43" fill="#a8a800"/>
<rect x="641" y="46" width="1" height="25" fill="#a8a800"/>
<rect x="642" y="70" width="1" height="19" fill="#a8a800"/>
<rect x="648" y="45" width="1" height="43" fill="#a8a800"/>
<rect x="654" y="46" width="1" height="33" fill="#a8a800"/>
<rect x="655" y="78" width="1" height="11" fill="#a8a800"/>
<rect x="660" y="59" width="1" height="29" fill="#a8a800"/>
<rect x="661" y="45" width="1" height="15" fill="#a8a800"/>
<rect x="667" y="46" width="1" height="29" fill="#a8a800"/>
<rect x="668" y="74" width="1" height="15" fill="#a8a800"/>
<rect x="673" y="56" width="1" height="32" fill="#a8a800"/>
<rect x="674" y="45" width="1" height="12" fill="#a8a800"/>
<rect x="680" y="46" width="1" height="31" fill="#a8a800"/>
<rect x="681" y="76" width="1" height="13" fill="#a8a800"/>
<rect x="687" y="45" width="1" height="43" fill="#a8a800"/>
<rect x="693" y="46" width="1" height="23" fill="#a8a800"/>
<rect x="694" y="68" width="1" height="21" fill="#a8a800"/>
<rect x="700" y="45" width="1" height="43" fill="#a8a800"/>
<rect x="706" y="46" width="1" height="34" fill="#a8a800"/>
<rect x="707" y="79" width="1" height="10" fill="#a8a800"/>
<rect x="712" y="45" width="1" height="43" fill="#a8a800"/>
<rect x="719" y="46" width="1" height="23" fill="#a8a800"/>
<rect x="720" y="68" width="1" height="21" fill="#a8a800"/>
<rect x="724" y="52" width="1" height="36" fill="#a8a800"/>
<rect x="725" y="45" width="1" height="8" fill="#a8a800"/>
<rect x="732" y="46" width="1" height="34" fill="#a8a800"/>
<rect x="733" y="79" width="1" height="10" fill="#a8a800"/>
<rect x="737" y="53" width="1" height="35" fill="#a8a800"/>
<rect x="738" y="45" width="1" height="9" fill="#a8a800"/>
<rect x="745" y="46" width="1" height="28" fill="#a8a800"/>
<rect x="746" y="73" width="1" height="16" fill="#a8a800"/>
<rect x="751" y="45" width="1" height="43" fill="#a8a800"/>
<rect x="758" y="46" width="1" height="35" fill="#a8a800"/>
<rect x="759" y="80" width="1" height="9" fill="#a8a800"/>
<rect x="763" y="54" width="1" height="34" fill="#a8a800"/>
<rect x="764" y="45" width="1" height="10" fill="#a8a800"/>
<rect x="771" y="46" width="1" height="36" fill="#a8a800"/>
<rect x="772" y="81" width="1" height="8" fill="#a8a800"/>
<rect x="777" y="45" width="1" height="43" fill="#a8a800"/>
<rect x="783" y="46" width="1" height="33" fill="#a8a800"/>
<rect x="784" y="78" width="1" height="11" fill="#a8a800"/>
<rect x="789" y="57" width="1" height="32" fill="#a8a800"/>
<path d="M23 44 L26.5 47 L23 50 Z" fill="#ffff00" stroke="none"/>
<path d="M19.5 192v3M20.5 192v3M21.5 191v3M23.5 192v4M24.5 151.8v43.2M25.5 150v4M26.5 150v4M27.5 151v3M28.5 152v3M29.5 151v4M31.5 152v3M36.5 152v4M37.5 151v3M38.5 151v4M40.5 152v4M41.5 151v3M42.5 152v3M43.5 152v3M44.5 150v6M46.5 151v3M47.5 151v3M48.5 151v4M51.5 152v4M52.5 151v3M53.5 150v3M55.5 150v3M59.5 150v5M60.5 151v3M62.5 151v3M64.5 151v3M65.5 150v4M66.5 151v3M67.5 151v5M69.5 151v3M70.5 150v4M71.5 151v3M72.5 150v4M73.5 151v3M75.5 151v3M78.5 152v3M79.5 151v3M80.5 152v3M83.5 152v3M84.5 152v3M85.5 151v5M86.5 150v4M87.5 153v3M89.5 149v5M91.5 151v4M92.5 151v3M93.5 151v4M94.5 153v3M97.5 153v3M99.5 151v4M100.5 151v3M101.5 150v3M102.5 151v3M104.5 150v4M105.5 152v3M107.5 151v4M108.5 150v5M111.5 149v7M112.5 151v4M114.5 152v3M117.5 151v3M121.5 151v4M125.5 152v3M126.5 153v4M128.5 151v4M129.5 152v3M130.5 152v3M134.5 150v5M135.5 151v3M137.5 150v4M138.5 152v3M139.5 152v3M140.5 151v4M141.5 151v3M142.5 150v3M143.5 150v3M145.5 151v3M146.5 151.8v43.2M147.5 192v4M150.5 193v3M151.5 193v3M152.5 190v7M153.5 192v4M154.5 193v3M155.5 193v3M157.5 192v3M158.5 192v5M159.5 193v3M160.5 193v3M161.5 192v4M163.5 191v5M164.5 193v3M165.5 191v5M167.5 194v3M169.5 194v3M170.5 193v3M172.5 193v4M173.5 191v6M174.5 192v3M175.5 192v4M176.5 191v4M178.5 192v3M182.5 193v3M183.5 193v5M184.5 192v4M185.5 192v3M187.5 192v3M188.5 193v3M190.5 192v4M191.5 191v4M192.5 193v5M194.5 193v3M196.5 193v4M197.5 193v3M198.5 192v5M199.5 193v3M201.5 192v4M202.5 193v3M203.5 192v3M204.5 191v4M205.5 191v4M207.5 191v5M208.5 192v3M210.5 192v3M211.5 192v3M212.5 191v3M213.5 189v5M215.5 192v3M216.5 192v4M220.5 193v3M222.5 192v3M223.5 193v5M225.5 192v3M226.5 193v3M230.5 191v3M231.5 193v3M232.5 193v3M233.5 192v3M234.5 192v3M235.5 193v3M236.5 151.8v43.2M238.5 152v3M239.5 151v3M241.5 151v3M244.5 150v5M245.5 152v3M246.5 151v3M247.5 150v4M248.5 151v4M249.5 151v3M251.5 151v3M252.5 153v4M254.5 151v3M255.5 152v3M257.5 151v3M258.5 152v3M261.5 151v4M262.5 151.8v43.2M264.5 191v4M265.5 192v3M266.5 192v5M267.5 192v3M269.5 192v3M270.5 192v3M272.5 192v3M273.5 193v4M275.5 191v3M276.5 193v3M277.5 192v3M278.5 194v3M279.5 192v3M280.5 193v3M281.5 191v6M283.5 193v3M285.5 192v4M286.5 191v4M290.5 193v3M291.5 193v3M293.5 193v4M294.5 193v3M298.5 191v4M299.5 191v3M300.5 192v4M301.5 193v3M302.5 192v4M304.5 192v3M305.5 190v4M306.5 192v3M308.5 192v4M310.5 192v3M311.5 191v4M312.5 190v4M313.5 191v4M314.5 190v6M316.5 193v3M318.5 193v3M319.5 193v3M320.5 192v4M323.5 192v3M324.5 192v3M325.5 193v4M326.5 151.6v43.4M327.5 151v3M328.5 150v3M329.5 151v4M331.5 151v3M332.5 150v4M333.5 149v5M334.5 150v3M336.5 149v6M338.5 151v3M339.5 151v3M340.5 151v3M342.5 151v4M343.5 152v3M344.5 150v5M345.5 152v3M346.5 151v6M348.5 151v3M349.5 152v3M352.5 150v3M358.5 149v4M360.5 152v3M365.5 152v3M370.5 151v3M371.5 150v3M372.5 150v5M373.5 151v3M375.5 151v3M377.5 152v3M378.5 152v3M380.5 151v3M382.5 152v3M383.5 152v4M384.5 152v3M385.5 152v3M386.5 151v3M387.5 150v4M390.5 150v3M391.5 151v3M392.5 152v3M393.5 153v3M394.5 152v4M395.5 150v5M399.5 152v3M400.5 151.9v2.4M402.5 151v3M403.5 151v4M404.5 152v3M406.5 150v3M408.5 148v5M409.5 151v3M410.5 150v3M413.5 153v3M414.5 150v4M415.5 150v4M416.5 150v3M419.5 152v3M421.5 149v6M423.5 152v3M424.5 152v5M425.5 151v4M429.5 152v3M430.5 152v3M431.5 151v4M432.5 152v4M434.5 150v4M435.5 150v4M436.5 150v3M437.5 150v4M439.5 151v3M441.5 151v3M442.5 151v4M443.5 151v3M444.5 152v3M445.5 153v4M446.5 153v3M447.5 152v3M448.5 152v3M450.5 150v3M451.5 152v3M452.5 153v3M453.5 151v4M454.5 153v3M455.5 152v4M456.5 152v3M457.5 151v4M460.5 151v3M463.5 153v4M464.5 149v5M466.5 152v4M468.5 152.8v42.4M469.5 192v3M474.5 192v3M476.5 193v3M478.5 193v3M481.5 192v4M482.5 192v3M484.5 192v4M485.5 193v3M486.5 193v3M487.5 193v3M488.5 192v3M489.5 193v3M492.5 192v4M493.5 192v4M495.5 192v3M497.5 193v3M499.5 194v3M501.5 192v5M506.5 193v3M507.5 192v5M508.5 191v4M509.5 191v4M510.5 193v3M511.5 192v3M512.5 192v3M513.5 192v3M514.5 192v3M515.5 193v4M517.5 192v4M519.5 192v3M520.5 193v4M521.5 193v3M522.5 191v4M523.5 193v3M524.5 194v3M525.5 192v4M526.5 191v4M527.5 193v4M528.5 194v3M529.5 193v3M530.5 193v4M532.5 192v3M533.5 193v3M534.5 192v3M535.5 192v4M540.5 193v3M542.5 193v3M543.5 193v3M544.5 192v3M545.5 190v5M546.5 192v3M547.5 191v3M549.5 190v5M550.5 192v3M552.5 193v3M553.5 192v4M554.5 192v3M555.5 193v3M556.5 192v3M557.5 193v3M560.5 192v4M562.5 192v3M566.5 192v4M569.5 192v3M571.5 193v4M572.5 193v3M573.5 191v4M576.5 193v3M577.5 193v3M580.5 192v3M581.5 191v3M583.5 193v3M584.5 192v4M585.5 192v4M586.5 192v3M588.5 192v3M590.5 191v5M591.5 190v5M592.5 192v5M594.5 192v3M595.5 192v4M598.5 192v4M599.5 193v5M600.5 191v4M604.5 192v3M608.5 192v5M609.5 192v3M613.5 192v3M614.5 193v3M616.5 193v3M617.5 191v4M621.5 190v4M622.5 190v4M623.5 191v6M628.5 191v5M629.5 193v3M632.5 191v4M633.5 191v4M635.5 191v3M637.5 192v5M640.5 191v3M642.5 190v4M643.5 191v4M645.5 191v4M646.5 191v4M647.5 191v4M648.5 191v3M650.5 191v3M652.5 190v4M653.5 190v4M654.5 192v4M656.5 190v3M657.5 190v4M659.5 190v5M660.5 192v3M662.5 192v3M663.5 191v5M664.5 192v4M665.5 193v4M666.5 192v3M667.5 193v3M669.5 191v4M670.5 189v5M671.5 193v3M672.5 194v3M674.5 190v5M675.5 192v3M677.5 189v5M678.5 193v4M679.5 192v3M680.5 191v4M681.5 191v4M682.5 192v4M683.5 192v3M684.5 192v3M686.5 192v4M687.5 193v4M689.5 193v4M690.5 192v3M692.5 192v4M693.5 191v7M694.5 192v5M696.5 192v3M697.5 190v5M700.5 191v4M701.5 192v3M702.5 193v3M704.5 191v4M707.5 191v3M709.5 192v3M712.5 193v3M713.5 193v3M714.5 191v5M715.5 191v4M717.5 191v3M718.5 191v3M720.5 192v3M722.5 191v4M723.5 191v4M724.5 191v3M725.5 190v4M726.5 190v5M728.5 191v3M729.5 192v3M730.5 193v3M733.5 191v4M734.5 191v3M735.5 191v3M738.5 191v5M739.5 191v4M740.5 190v4M744.5 191v4M745.5 192v3M747.5 192v3M748.5 192v3M750.5 191v3M751.5 189v4M753.5 191v3M754.5 192v4M755.5 190v4M758.5 192v3M759.5 191v3M761.5 189v4M762.5 190v4M763.5 190v3M764.5 188v5M766.5 191v4M767.5 191v3M768.5 191v4M770.5 191v3M771.5 192v3M772.5 193v3M774.5 192v3M775.5 192v3M776.5 192v3M777.5 193v3M778.5 192v3M779.5 191v3M780.5 192v4M783.5 192v3M784.5 190v4M785.5 191v6M787.5 191v3" fill="none" stroke="#d40074" stroke-width="1"/>
<path d="M18.5 193v2M19.5 193v2M20.5 193v2M21.5 192v2M22.5 192v2M23.5 193v2M25.5 151v2M26.5 151v2M27.5 151v2M28.5 152v2M29.5 152v2M30.5 152v2M31.5 152v2M32.5 152v2M33.5 151v2M34.5 152v2M35.5 151v2M36.5 152v2M37.5 152v2M38.5 152v2M39.5 153v2M40.5 153v2M41.5 152v2M42.5 153v2M43.5 153v2M44.5 152v2M45.5 153v2M46.5 152v2M47.5 152v2M48.5 152v2M49.5 152v2M50.5 152v2M51.5 152v2M52.5 151v2M53.5 151v2M54.5 151v2M55.5 151v2M56.5 151v2M57.5 151v2M58.5 151v2M59.5 151v2M60.5 152v2M61.5 151v2M62.5 151v2M63.5 152v2M64.5 151v2M65.5 151v2M66.5 151v2M67.5 151v2M68.5 150v2M69.5 151v2M70.5 151v2M71.5 151v2M72.5 151v2M73.5 151v2M74.5 151v2M75.5 151v2M76.5 151v2M77.5 152v2M78.5 152v2M79.5 152v2M80.5 153v2M81.5 153v2M82.5 152v2M83.5 152v2M84.5 153v2M85.5 152v2M86.5 152v2M87.5 153v2M88.5 152v2M89.5 152v2M90.5 152v2M91.5 152v2M92.5 152v2M93.5 152v2M94.5 153v2M95.5 152v2M96.5 152v2M97.5 153v2M98.5 152v2M99.5 152v2M100.5 151v2M101.5 151v2M102.5 151v2M103.5 151v2M104.5 151v2M105.5 152v2M106.5 153v2M107.5 152v2M108.5 152v2M109.5 152v2M110.5 152v2M111.5 152v2M112.5 152v2M113.5 152v2M114.5 152v2M115.5 152v2M116.5 152v2M117.5 152v2M118.5 152v2M119.5 152v2M120.5 152v2M121.5 152v2M122.5 152v2M123.5 153v2M124.5 152v2M125.5 153v2M126.5 153v2M127.5 152v2M128.5 152v2M129.5 152v2M130.5 152v2M131.5 152v2M132.5 152v2M133.5 152v2M134.5 152v2M135.5 151v2M136.5 152v2M137.5 152v2M138.5 152v2M139.5 152v2M140.5 151v2M141.5 152v2M142.5 151v2M143.5 151v2M144.5 151v2M145.5 152v2M147.5 193v2M148.5 194v2M149.5 194v2M150.5 194v2M151.5 193v2M152.5 193v2M153.5 193v2M154.5 193v2M155.5 193v2M156.5 193v2M157.5 193v2M158.5 193v2M159.5 193v2M160.5 193v2M161.5 193v2M162.5 193v2M163.5 193v2M164.5 194v2M165.5 193v2M166.5 194v2M167.5 194v2M168.5 193v2M169.5 194v2M170.5 193v2M171.5 193v2M172.5 193v2M173.5 193v2M174.5 193v2M175.5 193v2M176.5 193v2M177.5 193v2M178.5 193v2M179.5 193v2M180.5 193v2M181.5 194v2M182.5 193v2M183.5 193v2M184.5 193v2M185.5 193v2M186.5 192v2M187.5 192v2M188.5 193v2M189.5 192v2M190.5 193v2M191.5 192v2M192.5 193v2M193.5 193v2M194.5 193v2M195.5 194v2M196.5 194v2M197.5 194v2M198.5 193v2M199.5 193v2M200.5 193v2M201.5 193v2M202.5 193v2M203.5 193v2M204.5 193v2M205.5 193v2M206.5 193v2M207.5 193v2M208.5 193v2M209.5 193v2M210.5 192v2M211.5 193v2M212.5 192v2M213.5 192v2M214.5 193v2M215.5 193v2M216.5 193v2M217.5 192v2M218.5 192v2M219.5 193v2M220.5 193v2M221.5 193v2M222.5 193v2M223.5 193v2M224.5 193v2M225.5 193v2M226.5 193v2M227.5 193v2M228.5 193v2M229.5 193v2M230.5 192v2M231.5 193v2M232.5 193v2M233.5 192v2M234.5 193v2M235.5 193v2M237.5 152v2M238.5 152v2M239.5 151v2M240.5 151v2M241.5 152v2M242.5 151v2M243.5 151v2M244.5 151v2M245.5 152v2M246.5 151v2M247.5 151v2M248.5 151v2M249.5 152v2M250.5 152v2M251.5 152v2M252.5 153v2M253.5 153v2M254.5 152v2M255.5 152v2M256.5 151v2M257.5 151v2M258.5 152v2M259.5 152v2M260.5 152v2M261.5 152v2M263.5 193v2M264.5 192v2M265.5 192v2M266.5 193v2M267.5 193v2M268.5 193v2M269.5 193v2M270.5 193v2M271.5 193v2M272.5 193v2M273.5 193v2M274.5 193v2M275.5 192v2M276.5 193v2M277.5 193v2M278.5 194v2M279.5 193v2M280.5 193v2M281.5 193v2M282.5 194v2M283.5 194v2M284.5 193v2M285.5 193v2M286.5 193v2M287.5 193v2M288.5 193v2M289.5 193v2M290.5 193v2M291.5 193v2M292.5 193v2M293.5 193v2M294.5 194v2M295.5 193v2M296.5 192v2M297.5 192v2M298.5 191v2M299.5 192v2M300.5 193v2M301.5 194v2M302.5 193v2M303.5 193v2M304.5 193v2M305.5 192v2M306.5 193v2M307.5 192v2M308.5 193v2M309.5 193v2M310.5 192v2M311.5 192v2M312.5 192v2M313.5 192v2M314.5 192v2M315.5 193v2M316.5 194v2M317.5 193v2M318.5 193v2M319.5 193v2M320.5 193v2M321.5 193v2M322.5 193v2M323.5 193v2M324.5 193v2M325.5 194v2M327.5 152v2M328.5 151v2M329.5 151v2M330.5 151v2M331.5 151v2M332.5 151v2M333.5 152v2M334.5 151v2M335.5 151v2M336.5 151v2M337.5 152v2M338.5 152v2M339.5 152v2M340.5 151v2M341.5 152v2M342.5 152v2M343.5 152v2M344.5 152v2M345.5 153v2M346.5 152v2M347.5 153v2M348.5 152v2M349.5 152v2M350.5 152v2M351.5 152v2M352.5 151v2M353.5 151v2M354.5 152v2M355.5 151v2M356.5 152v2M357.5 152v2M358.5 151v2M359.5 152v2M360.5 152v2M361.5 152v2M362.5 152v2M363.5 152v2M364.5 153v2M365.5 153v2M366.5 153v2M367.5 153v2M368.5 153v2M369.5 153v2M370.5 152v2M371.5 151v2M372.5 152v2M373.5 152v2M374.5 152v2M375.5 152v2M376.5 152v2M377.5 152v2M378.5 153v2M379.5 153v2M380.5 152v2M381.5 151v2M382.5 152v2M383.5 152v2M384.5 152v2M385.5 152v2M386.5 152v2M387.5 152v2M388.5 152v2M389.5 152v2M390.5 151v2M391.5 152v2M392.5 152v2M393.5 153v2M394.5 153v2M395.5 152v2M396.5 153v2M397.5 153v2M398.5 153v2M399.5 153v2M401.5 152v2M402.5 151v2M403.5 152v2M404.5 152v2M405.5 152v2M406.5 151v2M407.5 152v2M408.5 151v2M409.5 151v2M410.5 151v2M411.5 151v2M412.5 151v2M413.5 153v2M414.5 152v2M415.5 152v2M416.5 151v2M417.5 152v2M418.5 152v2M419.5 152v2M420.5 151v2M421.5 151v2M422.5 152v2M423.5 153v2M424.5 153v2M425.5 152v2M426.5 153v2M427.5 153v2M428.5 152v2M429.5 152v2M430.5 152v2M431.5 152v2M432.5 152v2M433.5 151v2M434.5 152v2M435.5 152v2M436.5 151v2M437.5 151v2M438.5 152v2M439.5 152v2M440.5 151v2M441.5 151v2M442.5 152v2M443.5 152v2M444.5 153v2M445.5 154v2M446.5 153v2M447.5 153v2M448.5 152v2M449.5 152v2M450.5 151v2M451.5 152v2M452.5 153v2M453.5 153v2M454.5 153v2M455.5 154v2M456.5 153v2M457.5 153v2M458.5 153v2M459.5 152v2M460.5 152v2M461.5 152v2M462.5 152v2M463.5 153v2M464.5 152v2M465.5 153v2M466.5 153v2M467.5 153v2M469.5 193v2M470.5 192v2M471.5 192v2M472.5 193v2M473.5 193v2M474.5 193v2M475.5 193v2M476.5 193v2M477.5 193v2M478.5 194v2M479.5 194v2M480.5 193v2M481.5 193v2M482.5 193v2M483.5 193v2M484.5 193v2M485.5 194v2M486.5 193v2M487.5 193v2M488.5 193v2M489.5 193v2M490.5 193v2M491.5 194v2M492.5 193v2M493.5 193v2M494.5 193v2M495.5 192v2M496.5 193v2M497.5 194v2M498.5 194v2M499.5 194v2M500.5 193v2M501.5 193v2M502.5 193v2M503.5 193v2M504.5 193v2M505.5 193v2M506.5 193v2M507.5 193v2M508.5 192v2M509.5 192v2M510.5 193v2M511.5 193v2M512.5 193v2M513.5 193v2M514.5 193v2M515.5 193v2M516.5 193v2M517.5 193v2M518.5 193v2M519.5 193v2M520.5 194v2M521.5 194v2M522.5 193v2M523.5 194v2M524.5 194v2M525.5 193v2M526.5 193v2M527.5 194v2M528.5 194v2M529.5 193v2M530.5 193v2M531.5 193v2M532.5 193v2M533.5 193v2M534.5 193v2M535.5 193v2M536.5 193v2M537.5 193v2M538.5 193v2M539.5 193v2M540.5 193v2M541.5 193v2M542.5 193v2M543.5 193v2M544.5 193v2M545.5 193v2M546.5 193v2M547.5 192v2M548.5 193v2M549.5 193v2M550.5 193v2M551.5 194v2M552.5 193v2M553.5 193v2M554.5 193v2M555.5 193v2M556.5 193v2M557.5 193v2M558.5 192v2M559.5 193v2M560.5 193v2M561.5 193v2M562.5 193v2M563.5 193v2M564.5 193v2M565.5 193v2M566.5 192v2M567.5 193v2M568.5 193v2M569.5 193v2M570.5 192v2M571.5 193v2M572.5 193v2M573.5 192v2M574.5 193v2M575.5 193v2M576.5 193v2M577.5 193v2M578.5 192v2M579.5 192v2M580.5 192v2M581.5 192v2M582.5 193v2M583.5 193v2M584.5 193v2M585.5 193v2M586.5 193v2M587.5 193v2M588.5 193v2M589.5 192v2M590.5 193v2M591.5 193v2M592.5 193v2M593.5 193v2M594.5 193v2M595.5 193v2M596.5 193v2M597.5 194v2M598.5 193v2M599.5 194v2M600.5 193v2M601.5 192v2M602.5 192v2M603.5 192v2M604.5 192v2M605.5 192v2M606.5 192v2M607.5 192v2M608.5 192v2M609.5 192v2M610.5 192v2M611.5 192v2M612.5 193v2M613.5 193v2M614.5 193v2M615.5 193v2M616.5 193v2M617.5 192v2M618.5 193v2M619.5 193v2M620.5 193v2M621.5 192v2M622.5 192v2M623.5 192v2M624.5 192v2M625.5 191v2M626.5 191v2M627.5 192v2M628.5 192v2M629.5 193v2M630.5 193v2M631.5 193v2M632.5 192v2M633.5 192v2M634.5 192v2M635.5 191v2M636.5 193v2M637.5 193v2M638.5 193v2M639.5 193v2M640.5 192v2M641.5 191v2M642.5 191v2M643.5 192v2M644.5 192v2M645.5 192v2M646.5 191v2M647.5 192v2M648.5 192v2M649.5 192v2M650.5 192v2M651.5 191v2M652.5 191v2M653.5 192v2M654.5 192v2M655.5 191v2M656.5 191v2M657.5 192v2M658.5 192v2M659.5 192v2M660.5 192v2M661.5 192v2M662.5 192v2M663.5 193v2M664.5 193v2M665.5 193v2M666.5 193v2M667.5 193v2M668.5 193v2M669.5 193v2M670.5 192v2M671.5 193v2M672.5 194v2M673.5 193v2M674.5 192v2M675.5 192v2M676.5 192v2M677.5 192v2M678.5 193v2M679.5 193v2M680.5 193v2M681.5 193v2M682.5 193v2M683.5 193v2M684.5 193v2M685.5 193v2M686.5 193v2M687.5 193v2M688.5 193v2M689.5 193v2M690.5 192v2M691.5 193v2M692.5 193v2M693.5 193v2M694.5 193v2M695.5 193v2M696.5 192v2M697.5 192v2M698.5 192v2M699.5 192v2M700.5 192v2M701.5 193v2M702.5 193v2M703.5 193v2M704.5 192v2M705.5 193v2M706.5 192v2M707.5 192v2M708.5 192v2M709.5 192v2M710.5 192v2M711.5 192v2M712.5 193v2M713.5 193v2M714.5 193v2M715.5 192v2M716.5 192v2M717.5 192v2M718.5 192v2M719.5 192v2M720.5 193v2M721.5 192v2M722.5 192v2M723.5 192v2M724.5 192v2M725.5 192v2M726.5 192v2M727.5 192v2M728.5 192v2M729.5 193v2M730.5 193v2M731.5 192v2M732.5 192v2M733.5 192v2M734.5 192v2M735.5 192v2M736.5 192v2M737.5 192v2M738.5 193v2M739.5 193v2M740.5 192v2M741.5 192v2M742.5 192v2M743.5 193v2M744.5 192v2M745.5 192v2M746.5 192v2M747.5 192v2M748.5 192v2M749.5 193v2M750.5 192v2M751.5 191v2M752.5 192v2M753.5 192v2M754.5 192v2M755.5 192v2M756.5 192v2M757.5 193v2M758.5 192v2M759.5 192v2M760.5 191v2M761.5 191v2M762.5 191v2M763.5 191v2M764.5 191v2M765.5 191v2M766.5 192v2M767.5 192v2M768.5 192v2M769.5 192v2M770.5 192v2M771.5 192v2M772.5 193v2M773.5 192v2M774.5 192v2M775.5 193v2M776.5 192v2M777.5 193v2M778.5 192v2M779.5 192v2M780.5 193v2M781.5 192v2M782.5 192v2M783.5 193v2M784.5 192v2M785.5 192v2M786.5 191v2M787.5 191v2M788.5 191v2" fill="none" stroke="#ff0a8c" stroke-width="1"/>
<path d="M18.5 311v3M19.5 311v3M20.5 310v4M21.5 310v3M22.5 310v3M23.5 308v6M25.5 311v3M27.5 311v3M29.5 312v3M31.5 310v5M32.5 311v3M33.5 311v5M34.5 311v4M35.5 310v3M37.5 310v4M38.5 309v3M39.5 309v3M40.5 309v3M43.5 308v5M45.5 308v4M46.5 310v4M48.5 308v4M49.5 311v4M50.5 309v5M51.5 310v3M52.5 310v4M53.5 309v4M55.5 311v4M56.5 310v4M59.5 310v3M60.5 310v4M61.5 310v4M62.5 310v3M65.5 310v3M66.5 309v5M67.5 309v3M68.5 310v3M69.5 268.2v44.3M70.5 261v9M71.5 265v9M72.5 264v5M73.5 266v4M74.5 268v3M76.5 268v3M77.5 266v5M78.5 266v4M81.5 267v4M82.5 267v3M83.5 268v4M86.5 267v4M87.5 267v4M88.5 268v3M89.5 267v4M90.5 267v3M91.5 268v4M92.5 267v4M93.5 267v4M94.5 267v3M95.5 268v4M97.5 267v3M98.5 268v3M99.5 267v3M101.5 268v4M102.5 267v3M104.5 268v3M105.5 268v3M106.5 269v3M107.5 268v5M111.5 267v4M112.5 269v3M113.5 269v4M114.5 267v3M115.5 268v3M116.5 268v4M117.5 266v4M119.5 267v3M120.5 268v3M121.5 268v3M122.5 267v3M123.5 267v3M124.5 268v3M125.5 268v3M126.5 269v3M127.5 268v4M128.5 268v3M129.5 268v4M130.5 267v4M132.5 267v5M135.5 268v4M137.5 268v3M138.5 268v3M139.5 266v3M140.5 264v6M142.5 268v3M144.5 266v4M147.5 268v5M149.5 268v4M151.5 267v3M153.5 267v4M155.5 268v3M156.5 267v3M158.5 268v3M159.5 267v3M160.5 267v4M162.5 269v3M165.5 268v4M166.5 268v3M167.5 265v6M168.5 267v3M169.5 269v3M170.5 266v5M172.5 267v3M173.5 265v6M174.5 268v4M176.5 268v4M177.5 267v3M179.5 266v5M180.5 268v5M182.5 267v3M189.5 267v3M190.5 268v4M191.5 267v3M195.5 267v4M196.5 267v3M197.5 266v5M199.5 267v5M201.5 267v4M202.5 268v5M203.5 268v4M204.5 268v3M205.5 268v5M207.5 267v3M208.5 267v3M211.5 268v3M212.5 268v3M215.5 267v4M216.5 267v3M217.5 267v4M219.5 266v3M220.5 268v3M221.5 268v3M222.5 268v4M223.5 268v3M224.5 268v4M226.5 268v3M227.5 267v3M228.5 267v3M229.5 268v3M230.5 268v3M232.5 267v5M233.5 268v3M235.5 266v4M236.5 266v3M237.5 268v3M239.5 267v3M240.5 267v4M241.5 267v3M242.5 268v4M245.5 268v3M246.5 268v3M247.5 268v3M248.5 268v3M249.5 268.2v44.8M250.5 311v7M251.5 309v9M252.5 312v4M253.5 310v3M254.5 311v4M255.5 311v3M256.5 310v3M260.5 311v4M261.5 311v3M262.5 311v3M263.5 311v3M264.5 310v3M265.5 309v3M267.5 311v4M268.5 311v3M270.5 310v3M271.5 311v3M272.5 310v4M273.5 309v4M275.5 268.2v44.8M276.5 264v7M277.5 264v8M278.5 266v4M279.5 267v5M286.5 268v3M287.5 268v3M288.5 267v4M294.5 266v4M295.5 268v3M296.5 267v4M298.5 266v5M299.5 267v3M300.5 267v4M302.5 267v3M303.5 268v4M304.5 269v4M307.5 269v3M308.5 269v3M309.5 268v3M311.5 267v3M314.5 268v3M315.5 265v4M316.5 268v5M318.5 266v4M321.5 269v3M322.5 266v5M323.5 268v3M324.5 269v3M325.5 268v3M326.5 268v3M330.5 267v4M331.5 268v4M332.5 266v3M333.5 268v3M334.5 266v5M336.5 267v5M337.5 267v4M338.5 267v4M339.5 268v3M340.5 267v3M342.5 266v5M344.5 268v3M345.5 267v3M346.5 268v3M348.5 266v4M349.5 267v3M351.5 267v5M355.5 268v4M356.5 267v3M358.5 267v5M361.5 267v3M366.5 267v3M367.5 267v4M369.5 267v4M371.5 268v3M372.5 268v4M373.5 268v4M374.5 267v3M375.5 267v3M376.5 267v4M377.5 266v4M378.5 267v3M380.5 268v3M381.5 269v3M384.5 267v3M385.5 269v4M386.5 269v3M389.5 268v3M390.5 267v3M391.5 267v3M392.5 267v4M395.5 267v4M396.5 266v3M397.5 266v5M398.5 266v3M399.5 267v4M400.5 266v4M401.5 267v4M402.5 267v3M406.5 267v4M410.5 267v4M411.5 265v6M414.5 267v5M416.5 266v4M417.5 267v3M418.5 267v4M420.5 268v3M424.5 268v3M425.5 267v3M426.5 267v3M428.5 267v4M429.5 268v4M430.5 267v3M432.5 269v3M433.5 269v3M435.5 268v3M436.5 268v3M437.5 269v3M440.5 267v4M441.5 268v3M442.5 268v3M443.5 268v3M444.5 268v3M446.5 266v5M447.5 268v3M448.5 265v6M450.5 268v3M455.5 268.2v43.6M456.5 311v8M457.5 308v7M458.5 308v5M460.5 308v6M461.5 309v3M464.5 309v3M465.5 309v4M466.5 308v4M468.5 309v3M469.5 307v4M470.5 309v3M474.5 309v3M475.5 309v4M476.5 309v3M478.5 308v4M479.5 307v3M482.5 307v5M483.5 308v4M484.5 308v3M486.5 309v4M487.5 308v4M488.5 310v3M489.5 309v4M490.5 310v3M492.5 309v4M493.5 309v3M494.5 309v3M495.5 308v4M497.5 309v4M498.5 310v3M499.5 308v4M500.5 310v5M501.5 311v3M502.5 309v6M503.5 311v3M504.5 308v7M507.5 309v4M509.5 309v4M510.5 309v3M511.5 309v4M513.5 309v4M515.5 309v3M516.5 309v4M517.5 310v3M519.5 310v3M520.5 309v3M521.5 308v5M522.5 309v4M525.5 309v3M526.5 309v3M528.5 310v3M529.5 308v3M530.5 309v4M531.5 310v3M534.5 310v3M536.5 309v3M537.5 309v3M538.5 309v3M539.5 308v4M540.5 309v6M541.5 309v3M542.5 310v3M544.5 309v3M545.5 309v4M546.5 310v3M547.5 309v4M551.5 309v3M552.5 309v4M558.5 309.8v3.4M559.5 311v3M560.5 311v3M561.5 310v5M566.5 312v3M567.5 311v3M568.5 312v3M569.5 311v3M570.5 311v4M571.5 310v4M572.5 309v4M574.5 310v3M575.5 310v4M576.5 311v3M577.5 311v3M578.5 309v4M581.5 309v5M583.5 312v3M584.5 310v3M585.5 310v4M586.5 310v3M587.5 310v3M588.5 311v3M589.5 312v3M590.5 310v4M591.5 312v3M592.5 311v4M594.5 311v3M595.5 311v3M597.5 269.2v44M598.5 264v8M599.5 266v8M600.5 267v7M601.5 267v3M602.5 268v4M603.5 268v4M604.5 267v5M605.5 269v3M606.5 267v4M607.5 269v3M609.5 267v5M610.5 270v3M611.5 269v4M613.5 268v3M614.5 267v6M615.5 269v4M617.5 268v4M618.5 268v5M619.5 270v4M620.5 269v4M621.5 267v5M622.5 268v4M625.5 269v3M626.5 267v4M628.5 270v3M629.5 269v3M630.5 269v4M631.5 268v3M632.5 270v3M633.5 269v4M634.5 270v3M635.5 269v3M636.5 268v4M637.5 270v3M639.5 269v3M640.5 268v3M641.5 269v3M642.5 269v3M643.5 270v4M644.5 270v3M645.5 271v3M646.5 270v4M647.5 270v3M648.5 270v3M649.5 267v5M651.5 269v4M652.5 268v4M653.5 269v3M655.5 268v3M657.5 268v3M658.5 268v3M659.5 266v5M661.5 268v3M663.5 268v3M664.5 267v3M666.5 268v4M667.5 269v4M668.5 269v4M669.5 269v3M671.5 268v3M673.5 268v3M674.5 267v4M675.5 267v6M676.5 268v3M677.5 268v4M678.5 269v3M679.5 268v5M680.5 267v4M681.5 267v4M682.5 268v3M683.5 269v3M684.5 270v4M686.5 268v3M687.5 269v5M688.5 267v3M689.5 269v4M690.5 269v4M692.5 267v4M693.5 268v4M694.5 269v4M695.5 267v5M696.5 267v6M697.5 267v4M698.5 267v4M699.5 268v4M700.5 268v4M701.5 266v5M702.5 266v5M704.5 267v3M705.5 267v3M706.5 268v4M709.5 269v3M710.5 269v4M711.5 270v3M712.5 269v4M713.5 269v5M714.5 269v3M715.5 268v4M716.5 267v5M717.5 268v4M718.5 268v4M719.5 266v4M720.5 267v3M721.5 266v5M722.5 268v3M723.5 268v3M724.5 266v4M727.5 268v4M728.5 267v5M729.5 269v4M730.5 270v4M731.5 268v5M732.5 267v5M734.5 268v6M735.5 269v3M736.5 268v3M737.5 267v5M738.5 268v3M739.5 269v4M740.5 270v4M741.5 270v4M743.5 267v4M744.5 269v4M747.5 267v5M748.5 269v4M750.5 269v6M752.5 267v4M753.5 269v4M754.5 272v3M755.5 270v4M756.5 268v5M757.5 270v3M758.5 267v5M759.5 269v5M761.5 270v4M762.5 269v3M763.5 269v3M764.5 269v3M765.5 268v3M766.5 267v3M768.5 267v4M771.5 267v3M772.5 267v3M773.5 268v5M775.5 268v3M776.5 266v5M777.5 269.2v43.1M778.5 309v8M779.5 307v9M780.5 310v6M782.5 309v6M783.5 310v3M784.5 309v3M785.5 310v4M787.5 307v4M788.5 308v5" fill="none" stroke="#00b8b8" stroke-width="1"/>
<path d="M18.5 311v2M19.5 312v2M20.5 311v2M21.5 311v2M22.5 311v2M23.5 311v2M24.5 311v2M25.5 311v2M26.5 310v2M27.5 311v2M28.5 311v2M29.5 312v2M30.5 311v2M31.5 311v2M32.5 311v2M33.5 312v2M34.5 311v2M35.5 311v2M36.5 311v2M37.5 311v2M38.5 310v2M39.5 310v2M40.5 309v2M41.5 309v2M42.5 310v2M43.5 310v2M44.5 310v2M45.5 310v2M46.5 310v2M47.5 310v2M48.5 310v2M49.5 311v2M50.5 311v2M51.5 311v2M52.5 310v2M53.5 310v2M54.5 310v2M55.5 311v2M56.5 311v2M57.5 311v2M58.5 310v2M59.5 311v2M60.5 311v2M61.5 311v2M62.5 310v2M63.5 310v2M64.5 310v2M65.5 310v2M66.5 311v2M67.5 310v2M68.5 310v2M70.5 268v2M71.5 268v2M72.5 267v2M73.5 268v2M74.5 268v2M75.5 268v2M76.5 268v2M77.5 268v2M78.5 267v2M79.5 268v2M80.5 268v2M81.5 267v2M82.5 267v2M83.5 268v2M84.5 267v2M85.5 267v2M86.5 268v2M87.5 267v2M88.5 268v2M89.5 268v2M90.5 268v2M91.5 268v2M92.5 268v2M93.5 268v2M94.5 267v2M95.5 268v2M96.5 268v2M97.5 268v2M98.5 269v2M99.5 268v2M100.5 268v2M101.5 269v2M102.5 268v2M103.5 268v2M104.5 269v2M105.5 269v2M106.5 269v2M107.5 269v2M108.5 268v2M109.5 268v2M110.5 269v2M111.5 269v2M112.5 269v2M113.5 270v2M114.5 268v2M115.5 269v2M116.5 269v2M117.5 268v2M118.5 268v2M119.5 268v2M120.5 268v2M121.5 268v2M122.5 268v2M123.5 268v2M124.5 269v2M125.5 269v2M126.5 269v2M127.5 268v2M128.5 269v2M129.5 269v2M130.5 268v2M131.5 269v2M132.5 269v2M133.5 268v2M134.5 268v2M135.5 268v2M136.5 268v2M137.5 268v2M138.5 268v2M139.5 267v2M140.5 267v2M141.5 268v2M142.5 268v2M143.5 268v2M144.5 268v2M145.5 269v2M146.5 268v2M147.5 268v2M148.5 269v2M149.5 268v2M150.5 268v2M151.5 268v2M152.5 269v2M153.5 268v2M154.5 268v2M155.5 268v2M156.5 268v2M157.5 267v2M158.5 268v2M159.5 267v2M160.5 268v2M161.5 269v2M162.5 269v2M163.5 267v2M164.5 269v2M165.5 268v2M166.5 268v2M167.5 268v2M168.5 268v2M169.5 269v2M170.5 268v2M171.5 268v2M172.5 268v2M173.5 268v2M174.5 268v2M175.5 268v2M176.5 268v2M177.5 267v2M178.5 268v2M179.5 268v2M180.5 268v2M181.5 268v2M182.5 268v2M183.5 268v2M184.5 268v2M185.5 268v2M186.5 268v2M187.5 268v2M188.5 268v2M189.5 268v2M190.5 269v2M191.5 268v2M192.5 268v2M193.5 269v2M194.5 269v2M195.5 269v2M196.5 268v2M197.5 268v2M198.5 269v2M199.5 268v2M200.5 268v2M201.5 268v2M202.5 268v2M203.5 268v2M204.5 268v2M205.5 269v2M206.5 268v2M207.5 268v2M208.5 268v2M209.5 268v2M210.5 268v2M211.5 268v2M212.5 268v2M213.5 268v2M214.5 268v2M215.5 268v2M216.5 267v2M217.5 268v2M218.5 268v2M219.5 267v2M220.5 268v2M221.5 269v2M222.5 269v2M223.5 268v2M224.5 268v2M225.5 268v2M226.5 268v2M227.5 268v2M228.5 268v2M229.5 268v2M230.5 268v2M231.5 269v2M232.5 268v2M233.5 268v2M234.5 268v2M235.5 267v2M236.5 267v2M237.5 268v2M238.5 268v2M239.5 267v2M240.5 269v2M241.5 268v2M242.5 269v2M243.5 269v2M244.5 268v2M245.5 269v2M246.5 269v2M247.5 268v2M248.5 269v2M250.5 311v2M251.5 312v2M252.5 312v2M253.5 311v2M254.5 311v2M255.5 312v2M256.5 311v2M257.5 312v2M258.5 312v2M259.5 312v2M260.5 312v2M261.5 312v2M262.5 311v2M263.5 311v2M264.5 310v2M265.5 310v2M266.5 311v2M267.5 311v2M268.5 311v2M269.5 311v2M270.5 311v2M271.5 311v2M272.5 311v2M273.5 311v2M274.5 312v2M276.5 269v2M277.5 268v2M278.5 268v2M279.5 269v2M280.5 269v2M281.5 269v2M282.5 268v2M283.5 269v2M284.5 268v2M285.5 268v2M286.5 268v2M287.5 269v2M288.5 268v2M289.5 268v2M290.5 268v2M291.5 268v2M292.5 268v2M293.5 268v2M294.5 268v2M295.5 269v2M296.5 268v2M297.5 268v2M298.5 268v2M299.5 267v2M300.5 268v2M301.5 268v2M302.5 268v2M303.5 269v2M304.5 269v2M305.5 269v2M306.5 269v2M307.5 269v2M308.5 269v2M309.5 269v2M310.5 268v2M311.5 268v2M312.5 269v2M313.5 268v2M314.5 269v2M315.5 267v2M316.5 268v2M317.5 267v2M318.5 268v2M319.5 269v2M320.5 269v2M321.5 269v2M322.5 268v2M323.5 269v2M324.5 269v2M325.5 268v2M326.5 268v2M327.5 268v2M328.5 268v2M329.5 267v2M330.5 268v2M331.5 268v2M332.5 267v2M333.5 268v2M334.5 268v2M335.5 268v2M336.5 268v2M337.5 269v2M338.5 268v2M339.5 268v2M340.5 268v2M341.5 267v2M342.5 268v2M343.5 268v2M344.5 268v2M345.5 267v2M346.5 268v2M347.5 268v2M348.5 268v2M349.5 268v2M350.5 268v2M351.5 268v2M352.5 268v2M353.5 268v2M354.5 267v2M355.5 268v2M356.5 268v2M357.5 268v2M358.5 268v2M359.5 268v2M360.5 268v2M361.5 268v2M362.5 268v2M363.5 269v2M364.5 269v2M365.5 269v2M366.5 268v2M367.5 268v2M368.5 267v2M369.5 268v2M370.5 268v2M371.5 268v2M372.5 268v2M373.5 269v2M374.5 268v2M375.5 268v2M376.5 268v2M377.5 268v2M378.5 268v2M379.5 268v2M380.5 269v2M381.5 269v2M382.5 269v2M383.5 268v2M384.5 268v2M385.5 269v2M386.5 269v2M387.5 268v2M388.5 268v2M389.5 268v2M390.5 268v2M391.5 268v2M392.5 268v2M393.5 267v2M394.5 267v2M395.5 268v2M396.5 267v2M397.5 267v2M398.5 267v2M399.5 268v2M400.5 268v2M401.5 268v2M402.5 268v2M403.5 267v2M404.5 267v2M405.5 268v2M406.5 268v2M407.5 269v2M408.5 269v2M409.5 269v2M410.5 268v2M411.5 268v2M412.5 269v2M413.5 268v2M414.5 268v2M415.5 268v2M416.5 267v2M417.5 268v2M418.5 268v2M419.5 267v2M420.5 268v2M421.5 268v2M422.5 268v2M423.5 268v2M424.5 269v2M425.5 268v2M426.5 268v2M427.5 268v2M428.5 268v2M429.5 269v2M430.5 268v2M431.5 268v2M432.5 269v2M433.5 269v2M434.5 269v2M435.5 269v2M436.5 269v2M437.5 270v2M438.5 268v2M439.5 268v2M440.5 268v2M441.5 268v2M442.5 268v2M443.5 268v2M444.5 268v2M445.5 268v2M446.5 268v2M447.5 268v2M448.5 267v2M449.5 268v2M450.5 268v2M451.5 268v2M452.5 268v2M453.5 268v2M454.5 268v2M456.5 311v2M457.5 310v2M458.5 309v2M459.5 310v2M460.5 310v2M461.5 310v2M462.5 311v2M463.5 310v2M464.5 310v2M465.5 310v2M466.5 310v2M467.5 310v2M468.5 310v2M469.5 309v2M470.5 309v2M471.5 310v2M472.5 309v2M473.5 309v2M474.5 310v2M475.5 310v2M476.5 310v2M477.5 308v2M478.5 309v2M479.5 308v2M480.5 309v2M481.5 310v2M482.5 309v2M483.5 309v2M484.5 309v2M485.5 310v2M486.5 310v2M487.5 310v2M488.5 310v2M489.5 309v2M490.5 310v2M491.5 310v2M492.5 310v2M493.5 309v2M494.5 309v2M495.5 309v2M496.5 310v2M497.5 310v2M498.5 311v2M499.5 310v2M500.5 311v2M501.5 311v2M502.5 310v2M503.5 311v2M504.5 311v2M505.5 311v2M506.5 310v2M507.5 310v2M508.5 310v2M509.5 310v2M510.5 310v2M511.5 310v2M512.5 309v2M513.5 310v2M514.5 310v2M515.5 309v2M516.5 310v2M517.5 310v2M518.5 310v2M519.5 310v2M520.5 310v2M521.5 310v2M522.5 310v2M523.5 310v2M524.5 310v2M525.5 310v2M526.5 310v2M527.5 309v2M528.5 310v2M529.5 309v2M530.5 310v2M531.5 310v2M532.5 310v2M533.5 311v2M534.5 311v2M535.5 311v2M536.5 309v2M537.5 309v2M538.5 310v2M539.5 310v2M540.5 310v2M541.5 310v2M542.5 311v2M543.5 310v2M544.5 310v2M545.5 310v2M546.5 310v2M547.5 310v2M548.5 309v2M549.5 309v2M550.5 310v2M551.5 310v2M552.5 310v2M553.5 310v2M554.5 309v2M555.5 310v2M556.5 310v2M557.5 310v2M559.5 312v2M560.5 311v2M561.5 311v2M562.5 311v2M563.5 312v2M564.5 312v2M565.5 312v2M566.5 312v2M567.5 312v2M568.5 312v2M569.5 311v2M570.5 311v2M571.5 311v2M572.5 310v2M573.5 311v2M574.5 311v2M575.5 312v2M576.5 311v2M577.5 311v2M578.5 311v2M579.5 311v2M580.5 310v2M581.5 311v2M582.5 312v2M583.5 312v2M584.5 311v2M585.5 311v2M586.5 311v2M587.5 311v2M588.5 311v2M589.5 312v2M590.5 312v2M591.5 312v2M592.5 312v2M593.5 312v2M594.5 312v2M595.5 311v2M596.5 311v2M598.5 269v2M599.5 269v2M600.5 270v2M601.5 268v2M602.5 269v2M603.5 268v2M604.5 269v2M605.5 269v2M606.5 269v2M607.5 270v2M608.5 270v2M609.5 270v2M610.5 270v2M611.5 270v2M612.5 270v2M613.5 268v2M614.5 268v2M615.5 270v2M616.5 269v2M617.5 269v2M618.5 270v2M619.5 270v2M620.5 270v2M621.5 269v2M622.5 269v2M623.5 269v2M624.5 268v2M625.5 269v2M626.5 268v2M627.5 269v2M628.5 270v2M629.5 270v2M630.5 270v2M631.5 269v2M632.5 270v2M633.5 270v2M634.5 270v2M635.5 270v2M636.5 269v2M637.5 270v2M638.5 269v2M639.5 270v2M640.5 269v2M641.5 269v2M642.5 270v2M643.5 271v2M644.5 270v2M645.5 271v2M646.5 271v2M647.5 271v2M648.5 271v2M649.5 270v2M650.5 270v2M651.5 270v2M652.5 269v2M653.5 270v2M654.5 269v2M655.5 269v2M656.5 270v2M657.5 268v2M658.5 268v2M659.5 268v2M660.5 269v2M661.5 268v2M662.5 270v2M663.5 269v2M664.5 268v2M665.5 268v2M666.5 269v2M667.5 270v2M668.5 270v2M669.5 269v2M670.5 268v2M671.5 269v2M672.5 270v2M673.5 269v2M674.5 269v2M675.5 269v2M676.5 268v2M677.5 269v2M678.5 270v2M679.5 269v2M680.5 268v2M681.5 269v2M682.5 269v2M683.5 269v2M684.5 271v2M685.5 268v2M686.5 269v2M687.5 270v2M688.5 268v2M689.5 269v2M690.5 269v2M691.5 269v2M692.5 268v2M693.5 270v2M694.5 271v2M695.5 269v2M696.5 268v2M697.5 268v2M698.5 268v2M699.5 269v2M700.5 269v2M701.5 268v2M702.5 267v2M703.5 267v2M704.5 268v2M705.5 267v2M706.5 269v2M707.5 269v2M708.5 269v2M709.5 270v2M710.5 270v2M711.5 270v2M712.5 270v2M713.5 270v2M714.5 270v2M715.5 270v2M716.5 269v2M717.5 269v2M718.5 269v2M719.5 267v2M720.5 268v2M721.5 268v2M722.5 269v2M723.5 268v2M724.5 268v2M725.5 269v2M726.5 269v2M727.5 270v2M728.5 269v2M729.5 270v2M730.5 271v2M731.5 269v2M732.5 268v2M733.5 270v2M734.5 269v2M735.5 269v2M736.5 269v2M737.5 269v2M738.5 269v2M739.5 270v2M740.5 271v2M741.5 271v2M742.5 270v2M743.5 269v2M744.5 270v2M745.5 271v2M746.5 270v2M747.5 270v2M748.5 270v2M749.5 270v2M750.5 270v2M751.5 270v2M752.5 268v2M753.5 270v2M754.5 272v2M755.5 271v2M756.5 269v2M757.5 270v2M758.5 269v2M759.5 269v2M760.5 269v2M761.5 270v2M762.5 270v2M763.5 270v2M764.5 270v2M765.5 269v2M766.5 268v2M767.5 268v2M768.5 268v2M769.5 268v2M770.5 269v2M771.5 268v2M772.5 268v2M773.5 270v2M774.5 270v2M775.5 269v2M776.5 268v2M778.5 309v2M779.5 310v2M780.5 310v2M781.5 310v2M782.5 310v2M783.5 310v2M784.5 310v2M785.5 312v2M786.5 310v2M787.5 309v2M788.5 310v2" fill="none" stroke="#00e8e8" stroke-width="1"/>
<path d="M23.5 383v3M24.5 383v44M28.5 424v3M46.5 423v3M53.5 424v3M57.5 424v3M59.5 424v3M61.5 423v3M88.5 423v3M94.5 424v3M107.5 423v3M150.5 424v3M153.5 423v3M156.5 424v3M162.5 424v3M170.5 424v3M186.5 423v3M203.5 423v3M206.5 423v3M221.5 423v3M230.5 423v3M242.5 424v3M254.5 424v3M257.5 423v3M266.5 424v3M271.5 423v3M276.5 423v3M288.5 424v3M292.5 423v3M335.5 423v3M337.5 424v3M369.5 424v3M375.5 424v3M387.5 424v3M395.5 423v3M420.5 423v3M462.5 423v3M471.5 423v3M476.5 424v3M477.5 424v3M480.5 424v3M494.5 423v3M496.5 423v3M497.5 424v3M506.5 423v3M511.5 423v3M512.5 383v43M527.5 382v3M531.5 383v3M533.5 383v3M541.5 382v3M548.5 382v3M549.5 383v3M557.5 383.3v43.7M563.5 424v2.6M604.5 424v3M614.5 424v3M628.5 423v3M653.5 424v3M659.5 423v3M682.5 424v3M687.5 423v3M692.5 423v3M700.5 424v3M704.5 423v3M715.5 423v3M721.5 424v3M745.5 423v3M746.5 423v3M750.5 423v3M751.5 424v3M759.5 424v3M762.5 423v3M767.5 424v3" fill="none" stroke="#00c000" stroke-width="1"/>
<path d="M18.5 383v2M19.5 383v2M20.5 383v2M21.5 383v2M22.5 383v2M23.5 383v2M25.5 425v2M26.5 425v2M27.5 425v2M29.5 424v2M30.5 424v2M31.5 424v2M32.5 424v2M33.5 424v2M34.5 424v2M35.5 424v2M36.5 424v2M37.5 424v2M38.5 424v2M39.5 424v2M40.5 424v2M41.5 424v2M42.5 424v2M43.5 424v2M44.5 424v2M45.5 424v2M46.5 424v2M47.5 424v2M48.5 424v2M49.5 424v2M50.5 424v2M51.5 424v2M52.5 424v2M53.5 424v2M54.5 424v2M55.5 424v2M56.5 424v2M57.5 424v2M58.5 424v2M59.5 424v2M60.5 424v2M61.5 424v2M62.5 424v2M63.5 424v2M64.5 424v2M65.5 424v2M66.5 424v2M67.5 424v2M68.5 424v2M69.5 424v2M70.5 424v2M71.5 424v2M72.5 424v2M73.5 424v2M74.5 424v2M75.5 424v2M76.5 424v2M77.5 424v2M78.5 424v2M79.5 424v2M80.5 424v2M81.5 424v2M82.5 424v2M83.5 424v2M84.5 424v2M85.5 424v2M86.5 424v2M87.5 424v2M88.5 424v2M89.5 424v2M90.5 424v2M91.5 424v2M92.5 424v2M93.5 424v2M94.5 424v2M95.5 424v2M96.5 424v2M97.5 424v2M98.5 424v2M99.5 424v2M100.5 424v2M101.5 424v2M102.5 424v2M103.5 424v2M104.5 424v2M105.5 424v2M106.5 424v2M107.5 424v2M108.5 424v2M109.5 424v2M110.5 424v2M111.5 424v2M112.5 424v2M113.5 424v2M114.5 424v2M115.5 424v2M116.5 424v2M117.5 424v2M118.5 424v2M119.5 424v2M120.5 424v2M121.5 424v2M122.5 424v2M123.5 424v2M124.5 424v2M125.5 424v2M126.5 424v2M127.5 424v2M128.5 424v2M129.5 424v2M130.5 424v2M131.5 424v2M132.5 424v2M133.5 424v2M134.5 424v2M135.5 424v2M136.5 424v2M137.5 424v2M138.5 424v2M139.5 424v2M140.5 424v2M141.5 424v2M142.5 424v2M143.5 424v2M144.5 424v2M145.5 424v2M146.5 424v2M147.5 424v2M148.5 424v2M149.5 424v2M150.5 424v2M151.5 424v2M152.5 424v2M153.5 424v2M154.5 424v2M155.5 424v2M156.5 424v2M157.5 424v2M158.5 424v2M159.5 424v2M160.5 424v2M161.5 424v2M162.5 424v2M163.5 424v2M164.5 424v2M165.5 424v2M166.5 424v2M167.5 424v2M168.5 424v2M169.5 424v2M170.5 424v2M171.5 424v2M172.5 424v2M173.5 424v2M174.5 424v2M175.5 424v2M176.5 424v2M177.5 424v2M178.5 424v2M179.5 424v2M180.5 424v2M181.5 424v2M182.5 424v2M183.5 424v2M184.5 424v2M185.5 424v2M186.5 424v2M187.5 424v2M188.5 424v2M189.5 424v2M190.5 424v2M191.5 424v2M192.5 424v2M193.5 424v2M194.5 424v2M195.5 424v2M196.5 424v2M197.5 424v2M198.5 424v2M199.5 424v2M200.5 424v2M201.5 424v2M202.5 424v2M203.5 424v2M204.5 424v2M205.5 424v2M206.5 424v2M207.5 424v2M208.5 424v2M209.5 424v2M210.5 424v2M211.5 424v2M212.5 424v2M213.5 424v2M214.5 424v2M215.5 424v2M216.5 424v2M217.5 424v2M218.5 424v2M219.5 424v2M220.5 424v2M221.5 424v2M222.5 424v2M223.5 424v2M224.5 424v2M225.5 424v2M226.5 424v2M227.5 424v2M228.5 424v2M229.5 424v2M230.5 424v2M231.5 424v2M232.5 424v2M233.5 424v2M234.5 424v2M235.5 424v2M236.5 424v2M237.5 424v2M238.5 424v2M239.5 424v2M240.5 424v2M241.5 424v2M242.5 424v2M243.5 424v2M244.5 424v2M245.5 424v2M246.5 424v2M247.5 424v2M248.5 424v2M249.5 424v2M250.5 424v2M251.5 424v2M252.5 424v2M253.5 424v2M254.5 424v2M255.5 424v2M256.5 424v2M257.5 424v2M258.5 424v2M259.5 424v2M260.5 424v2M261.5 424v2M262.5 424v2M263.5 424v2M264.5 424v2M265.5 424v2M266.5 424v2M267.5 424v2M268.5 424v2M269.5 424v2M270.5 424v2M271.5 424v2M272.5 424v2M273.5 424v2M274.5 424v2M275.5 424v2M276.5 424v2M277.5 424v2M278.5 424v2M279.5 424v2M280.5 424v2M281.5 424v2M282.5 424v2M283.5 424v2M284.5 424v2M285.5 424v2M286.5 424v2M287.5 424v2M288.5 424v2M289.5 424v2M290.5 424v2M291.5 424v2M292.5 424v2M293.5 424v2M294.5 424v2M295.5 424v2M296.5 424v2M297.5 424v2M298.5 424v2M299.5 424v2M300.5 424v2M301.5 424v2M302.5 424v2M303.5 424v2M304.5 424v2M305.5 424v2M306.5 424v2M307.5 424v2M308.5 424v2M309.5 424v2M310.5 424v2M311.5 424v2M312.5 424v2M313.5 424v2M314.5 424v2M315.5 424v2M316.5 424v2M317.5 424v2M318.5 424v2M319.5 424v2M320.5 424v2M321.5 424v2M322.5 424v2M323.5 424v2M324.5 424v2M325.5 424v2M326.5 424v2M327.5 424v2M328.5 424v2M329.5 424v2M330.5 424v2M331.5 424v2M332.5 424v2M333.5 424v2M334.5 424v2M335.5 424v2M336.5 424v2M337.5 424v2M338.5 424v2M339.5 424v2M340.5 424v2M341.5 424v2M342.5 424v2M343.5 424v2M344.5 424v2M345.5 424v2M346.5 424v2M347.5 424v2M348.5 424v2M349.5 424v2M350.5 424v2M351.5 424v2M352.5 424v2M353.5 424v2M354.5 424v2M355.5 424v2M356.5 424v2M357.5 424v2M358.5 424v2M359.5 424v2M360.5 424v2M361.5 424v2M362.5 424v2M363.5 424v2M364.5 424v2M365.5 424v2M366.5 424v2M367.5 424v2M368.5 424v2M369.5 424v2M370.5 424v2M371.5 424v2M372.5 424v2M373.5 424v2M374.5 424v2M375.5 424v2M376.5 424v2M377.5 424v2M378.5 424v2M379.5 424v2M380.5 424v2M381.5 424v2M382.5 424v2M383.5 424v2M384.5 424v2M385.5 424v2M386.5 424v2M387.5 424v2M388.5 424v2M389.5 424v2M390.5 424v2M391.5 424v2M392.5 424v2M393.5 424v2M394.5 424v2M395.5 424v2M396.5 424v2M397.5 424v2M398.5 424v2M399.5 424v2M400.5 424v2M401.5 424v2M402.5 424v2M403.5 424v2M404.5 424v2M405.5 424v2M406.5 424v2M407.5 424v2M408.5 424v2M409.5 424v2M410.5 424v2M411.5 424v2M412.5 424v2M413.5 424v2M414.5 424v2M415.5 424v2M416.5 424v2M417.5 424v2M418.5 424v2M419.5 424v2M420.5 424v2M421.5 424v2M422.5 424v2M423.5 424v2M424.5 424v2M425.5 424v2M426.5 424v2M427.5 424v2M428.5 424v2M429.5 424v2M430.5 424v2M431.5 424v2M432.5 424v2M433.5 424v2M434.5 424v2M435.5 424v2M436.5 424v2M437.5 424v2M438.5 424v2M439.5 424v2M440.5 424v2M441.5 424v2M442.5 424v2M443.5 424v2M444.5 424v2M445.5 424v2M446.5 424v2M447.5 424v2M448.5 424v2M449.5 424v2M450.5 424v2M451.5 424v2M452.5 424v2M453.5 424v2M454.5 424v2M455.5 424v2M456.5 424v2M457.5 424v2M458.5 424v2M459.5 424v2M460.5 424v2M461.5 424v2M462.5 424v2M463.5 424v2M464.5 424v2M465.5 424v2M466.5 424v2M467.5 424v2M468.5 424v2M469.5 424v2M470.5 424v2M471.5 424v2M472.5 424v2M473.5 424v2M474.5 424v2M475.5 424v2M476.5 424v2M477.5 424v2M478.5 424v2M479.5 424v2M480.5 424v2M481.5 424v2M482.5 424v2M483.5 424v2M484.5 424v2M485.5 424v2M486.5 424v2M487.5 424v2M488.5 424v2M489.5 424v2M490.5 424v2M491.5 424v2M492.5 424v2M493.5 424v2M494.5 424v2M495.5 424v2M496.5 424v2M497.5 424v2M498.5 424v2M499.5 424v2M500.5 424v2M501.5 424v2M502.5 424v2M503.5 424v2M504.5 424v2M505.5 424v2M506.5 424v2M507.5 424v2M508.5 424v2M509.5 424v2M510.5 424v2M511.5 424v2M513.5 383v2M514.5 383v2M515.5 383v2M516.5 383v2M517.5 383v2M518.5 383v2M519.5 383v2M520.5 383v2M521.5 383v2M522.5 383v2M523.5 383v2M524.5 383v2M525.5 383v2M526.5 383v2M527.5 383v2M528.5 383v2M529.5 383v2M530.5 383v2M531.5 383v2M532.5 383v2M533.5 383v2M534.5 383v2M535.5 383v2M536.5 383v2M537.5 383v2M538.5 383v2M539.5 383v2M540.5 383v2M541.5 383v2M542.5 383v2M543.5 383v2M544.5 383v2M545.5 383v2M546.5 383v2M547.5 383v2M548.5 383v2M549.5 383v2M550.5 383v2M551.5 383v2M552.5 383v2M553.5 383v2M554.5 383v2M555.5 383v2M556.5 383v2M558.5 425v2M559.5 425v2M560.5 425v2M561.5 425v2M562.5 425v2M564.5 424v2M565.5 424v2M566.5 424v2M567.5 424v2M568.5 424v2M569.5 424v2M570.5 424v2M571.5 424v2M572.5 424v2M573.5 424v2M574.5 424v2M575.5 424v2M576.5 424v2M577.5 424v2M578.5 424v2M579.5 424v2M580.5 424v2M581.5 424v2M582.5 424v2M583.5 424v2M584.5 424v2M585.5 424v2M586.5 424v2M587.5 424v2M588.5 424v2M589.5 424v2M590.5 424v2M591.5 424v2M592.5 424v2M593.5 424v2M594.5 424v2M595.5 424v2M596.5 424v2M597.5 424v2M598.5 424v2M599.5 424v2M600.5 424v2M601.5 424v2M602.5 424v2M603.5 424v2M604.5 424v2M605.5 424v2M606.5 424v2M607.5 424v2M608.5 424v2M609.5 424v2M610.5 424v2M611.5 424v2M612.5 424v2M613.5 424v2M614.5 424v2M615.5 424v2M616.5 424v2M617.5 424v2M618.5 424v2M619.5 424v2M620.5 424v2M621.5 424v2M622.5 424v2M623.5 424v2M624.5 424v2M625.5 424v2M626.5 424v2M627.5 424v2M628.5 424v2M629.5 424v2M630.5 424v2M631.5 424v2M632.5 424v2M633.5 424v2M634.5 424v2M635.5 424v2M636.5 424v2M637.5 424v2M638.5 424v2M639.5 424v2M640.5 424v2M641.5 424v2M642.5 424v2M643.5 424v2M644.5 424v2M645.5 424v2M646.5 424v2M647.5 424v2M648.5 424v2M649.5 424v2M650.5 424v2M651.5 424v2M652.5 424v2M653.5 424v2M654.5 424v2M655.5 424v2M656.5 424v2M657.5 424v2M658.5 424v2M659.5 424v2M660.5 424v2M661.5 424v2M662.5 424v2M663.5 424v2M664.5 424v2M665.5 424v2M666.5 424v2M667.5 424v2M668.5 424v2M669.5 424v2M670.5 424v2M671.5 424v2M672.5 424v2M673.5 424v2M674.5 424v2M675.5 424v2M676.5 424v2M677.5 424v2M678.5 424v2M679.5 424v2M680.5 424v2M681.5 424v2M682.5 424v2M683.5 424v2M684.5 424v2M685.5 424v2M686.5 424v2M687.5 424v2M688.5 424v2M689.5 424v2M690.5 424v2M691.5 424v2M692.5 424v2M693.5 424v2M694.5 424v2M695.5 424v2M696.5 424v2M697.5 424v2M698.5 424v2M699.5 424v2M700.5 424v2M701.5 424v2M702.5 424v2M703.5 424v2M704.5 424v2M705.5 424v2M706.5 424v2M707.5 424v2M708.5 424v2M709.5 424v2M710.5 424v2M711.5 424v2M712.5 424v2M713.5 424v2M714.5 424v2M715.5 424v2M716.5 424v2M717.5 424v2M718.5 424v2M719.5 424v2M720.5 424v2M721.5 424v2M722.5 424v2M723.5 424v2M724.5 424v2M725.5 424v2M726.5 424v2M727.5 424v2M728.5 424v2M729.5 424v2M730.5 424v2M731.5 424v2M732.5 424v2M733.5 424v2M734.5 424v2M735.5 424v2M736.5 424v2M737.5 424v2M738.5 424v2M739.5 424v2M740.5 424v2M741.5 424v2M742.5 424v2M743.5 424v2M744.5 424v2M745.5 424v2M746.5 424v2M747.5 424v2M748.5 424v2M749.5 424v2M750.5 424v2M751.5 424v2M752.5 424v2M753.5 424v2M754.5 424v2M755.5 424v2M756.5 424v2M757.5 424v2M758.5 424v2M759.5 424v2M760.5 424v2M761.5 424v2M762.5 424v2M763.5 424v2M764.5 424v2M765.5 424v2M766.5 424v2M767.5 424v2M768.5 424v2M769.5 424v2M770.5 424v2M771.5 424v2M772.5 424v2M773.5 424v2M774.5 424v2M775.5 424v2M776.5 424v2M777.5 424v2M778.5 424v2M779.5 424v2M780.5 424v2M781.5 424v2M782.5 424v2M783.5 424v2M784.5 424v2M785.5 424v2M786.5 424v2M787.5 424v2M788.5 424v2" fill="none" stroke="#00f000" stroke-width="1"/>
<rect x="177" y="138" width="1" height="1" fill="#ffff00"/>
<rect x="177" y="139" width="1" height="1" fill="#ffff00"/>
<rect x="176" y="140" width="3" height="1" fill="#ffff00"/>
<rect x="176" y="141" width="3" height="1" fill="#ffff00"/>
<rect x="175" y="142" width="5" height="1" fill="#ffff00"/>
<rect x="175" y="143" width="5" height="1" fill="#ffff00"/>
<rect x="174" y="144" width="7" height="1" fill="#ffff00"/>
<rect x="174" y="145" width="7" height="1" fill="#ffff00"/>
<rect x="177" y="251" width="1" height="1" fill="#ff0a8c"/>
<rect x="177" y="252" width="1" height="1" fill="#ff0a8c"/>
<rect x="176" y="253" width="3" height="1" fill="#ff0a8c"/>
<rect x="176" y="254" width="3" height="1" fill="#ff0a8c"/>
<rect x="175" y="255" width="5" height="1" fill="#ff0a8c"/>
<rect x="175" y="256" width="5" height="1" fill="#ff0a8c"/>
<rect x="174" y="257" width="7" height="1" fill="#ff0a8c"/>
<rect x="174" y="258" width="7" height="1" fill="#ff0a8c"/>
<rect x="177" y="363" width="1" height="1" fill="#00ffff"/>
<rect x="177" y="364" width="1" height="1" fill="#00ffff"/>
<rect x="176" y="365" width="3" height="1" fill="#00ffff"/>
<rect x="176" y="366" width="3" height="1" fill="#00ffff"/>
<rect x="175" y="367" width="5" height="1" fill="#00ffff"/>
<rect x="175" y="368" width="5" height="1" fill="#00ffff"/>
<rect x="174" y="369" width="7" height="1" fill="#00ffff"/>
<rect x="174" y="370" width="7" height="1" fill="#00ffff"/>
<rect x="177" y="476" width="1" height="1" fill="#00ff00"/>
<rect x="177" y="477" width="1" height="1" fill="#00ff00"/>
<rect x="176" y="478" width="3" height="1" fill="#00ff00"/>
<rect x="176" y="479" width="3" height="1" fill="#00ff00"/>
<rect x="175" y="480" width="5" height="1" fill="#00ff00"/>
<rect x="175" y="481" width="5" height="1" fill="#00ff00"/>
<rect x="174" y="482" width="7" height="1" fill="#00ff00"/>
<rect x="174" y="483" width="7" height="1" fill="#00ff00"/>
<rect x="790" y="52" width="1" height="1" fill="#ffff00"/>
<rect x="791" y="52" width="1" height="1" fill="#ffff00"/>
<rect x="792" y="51" width="1" height="3" fill="#ffff00"/>
<rect x="793" y="51" width="1" height="3" fill="#ffff00"/>
<rect x="794" y="50" width="1" height="5" fill="#ffff00"/>
<rect x="795" y="50" width="1" height="5" fill="#ffff00"/>
<rect x="796" y="49" width="1" height="7" fill="#ffff00"/>
<rect x="797" y="49" width="1" height="7" fill="#ffff00"/>
<rect x="790" y="173" width="1" height="1" fill="#ff0a8c"/>
<rect x="791" y="173" width="1" height="1" fill="#ff0a8c"/>
<rect x="792" y="172" width="1" height="3" fill="#ff0a8c"/>
<rect x="793" y="172" width="1" height="3" fill="#ff0a8c"/>
<rect x="794" y="171" width="1" height="5" fill="#ff0a8c"/>
<rect x="795" y="171" width="1" height="5" fill="#ff0a8c"/>
<rect x="796" y="170" width="1" height="7" fill="#ff0a8c"/>
<rect x="797" y="170" width="1" height="7" fill="#ff0a8c"/>
<rect x="7" y="87" width="10" height="2" fill="#ffff00"/>
<rect x="7" y="89" width="1" height="1" fill="#ffff00"/>
<rect x="7" y="199" width="10" height="2" fill="#ff0a8c"/>
<rect x="7" y="201" width="1" height="1" fill="#ff0a8c"/>
<rect x="7" y="312" width="10" height="2" fill="#00ffff"/>
<rect x="7" y="314" width="1" height="1" fill="#00ffff"/>
<rect x="7" y="424" width="10" height="2" fill="#00ff00"/>
<rect x="7" y="426" width="1" height="1" fill="#00ff00"/>
<rect x="6" y="77" width="3" height="1" fill="#ffff00"/>
<rect x="5" y="78" width="1" height="1" fill="#ffff00"/>
<rect x="9" y="78" width="1" height="1" fill="#ffff00"/>
<rect x="5" y="79" width="1" height="1" fill="#ffff00"/>
<rect x="5" y="80" width="1" height="1" fill="#ffff00"/>
<rect x="5" y="81" width="1" height="1" fill="#ffff00"/>
<rect x="5" y="82" width="1" height="1" fill="#ffff00"/>
<rect x="9" y="82" width="1" height="1" fill="#ffff00"/>
<rect x="6" y="83" width="3" height="1" fill="#ffff00"/>
<rect x="13" y="77" width="1" height="1" fill="#ffff00"/>
<rect x="12" y="78" width="2" height="1" fill="#ffff00"/>
<rect x="13" y="79" width="1" height="1" fill="#ffff00"/>
<rect x="13" y="80" width="1" height="1" fill="#ffff00"/>
<rect x="13" y="81" width="1" height="1" fill="#ffff00"/>
<rect x="13" y="82" width="1" height="1" fill="#ffff00"/>
<rect x="13" y="83" width="1" height="1" fill="#ffff00"/>
<rect x="6" y="189" width="3" height="1" fill="#ff0a8c"/>
<rect x="5" y="190" width="1" height="1" fill="#ff0a8c"/>
<rect x="9" y="190" width="1" height="1" fill="#ff0a8c"/>
<rect x="5" y="191" width="1" height="1" fill="#ff0a8c"/>
<rect x="5" y="192" width="1" height="1" fill="#ff0a8c"/>
<rect x="5" y="193" width="1" height="1" fill="#ff0a8c"/>
<rect x="5" y="194" width="1" height="1" fill="#ff0a8c"/>
<rect x="9" y="194" width="1" height="1" fill="#ff0a8c"/>
<rect x="6" y="195" width="3" height="1" fill="#ff0a8c"/>
<rect x="12" y="189" width="3" height="1" fill="#ff0a8c"/>
<rect x="11" y="190" width="1" height="1" fill="#ff0a8c"/>
<rect x="15" y="190" width="1" height="1" fill="#ff0a8c"/>
<rect x="15" y="191" width="1" height="1" fill="#ff0a8c"/>
<rect x="14" y="192" width="1" height="1" fill="#ff0a8c"/>
<rect x="13" y="193" width="1" height="1" fill="#ff0a8c"/>
<rect x="12" y="194" width="1" height="1" fill="#ff0a8c"/>
<rect x="11" y="195" width="5" height="1" fill="#ff0a8c"/>
<rect x="6" y="302" width="3" height="1" fill="#00ffff"/>
<rect x="5" y="303" width="1" height="1" fill="#00ffff"/>
<rect x="9" y="303" width="1" height="1" fill="#00ffff"/>
<rect x="5" y="304" width="1" height="1" fill="#00ffff"/>
<rect x="5" y="305" width="1" height="1" fill="#00ffff"/>
<rect x="5" y="306" width="1" height="1" fill="#00ffff"/>
<rect x="5" y="307" width="1" height="1" fill="#00ffff"/>
<rect x="9" y="307" width="1" height="1" fill="#00ffff"/>
<rect x="6" y="308" width="3" height="1" fill="#00ffff"/>
<rect x="12" y="302" width="3" height="1" fill="#00ffff"/>
<rect x="11" y="303" width="1" height="1" fill="#00ffff"/>
<rect x="15" y="303" width="1" height="1" fill="#00ffff"/>
<rect x="15" y="304" width="1" height="1" fill="#00ffff"/>
<rect x="13" y="305" width="2" height="1" fill="#00ffff"/>
<rect x="15" y="306" width="1" height="1" fill="#00ffff"/>
<rect x="11" y="307" width="1" height="1" fill="#00ffff"/>
<rect x="15" y="307" width="1" height="1" fill="#00ffff"/>
<rect x="12" y="308" width="3" height="1" fill="#00ffff"/>
<rect x="6" y="414" width="3" height="1" fill="#00ff00"/>
<rect x="5" y="415" width="1" height="1" fill="#00ff00"/>
<rect x="9" y="415" width="1" height="1" fill="#00ff00"/>
<rect x="5" y="416" width="1" height="1" fill="#00ff00"/>
<rect x="5" y="417" width="1" height="1" fill="#00ff00"/>
<rect x="5" y="418" width="1" height="1" fill="#00ff00"/>
<rect x="5" y="419" width="1" height="1" fill="#00ff00"/>
<rect x="9" y="419" width="1" height="1" fill="#00ff00"/>
<rect x="6" y="420" width="3" height="1" fill="#00ff00"/>
<rect x="14" y="414" width="1" height="1" fill="#00ff00"/>
<rect x="13" y="415" width="2" height="1" fill="#00ff00"/>
<rect x="12" y="416" width="1" height="1" fill="#00ff00"/>
<rect x="14" y="416" width="1" height="1" fill="#00ff00"/>
<rect x="11" y="417" width="1" height="1" fill="#00ff00"/>
<rect x="14" y="417" width="1" height="1" fill="#00ff00"/>
<rect x="11" y="418" width="5" height="1" fill="#00ff00"/>
<rect x="14" y="419" width="1" height="1" fill="#00ff00"/>
<rect x="14" y="420" width="1" height="1" fill="#00ff00"/></svg>
<div class="tl" style="left:732px;top:61px">SPICLK &gt;&gt;</div>
<div class="tl" style="left:726px;top:174px">SPISIMO &gt;&gt;</div>
<div class="tl" style="left:726px;top:286px">SPISOMI &gt;&gt;</div>
<div class="tl" style="left:754.5px;top:399px;letter-spacing:0;word-spacing:0.2px">CS &gt;&gt;</div>

<div class="m" style="left:5px;top:487px;font-weight:bold">Measure</div>
<div class="m" style="left:5px;top:503px">value</div>
<div class="m" style="left:5px;top:519px">status</div>
<div class="m r" style="left:89px;top:487px">P1:freq(C2)</div>
<div class="m r" style="left:89px;top:503px">428.5313 kHz</div>
<div class="m r" style="left:201px;top:487px">P2:mean(C3)</div>
<div class="m r" style="left:201px;top:503px">2.469 V</div>
<div class="m g" style="left:418px;top:487px">P3:- - -</div>
<div class="m g" style="left:531px;top:487px">P4:- - -</div>
<div class="m g" style="left:644px;top:487px">P5:- - -</div>
<div class="m g" style="left:757px;top:487px">P6:- - -</div>
<svg style="position:absolute;left:216px;top:520px" width="12" height="10" viewBox="0 0 12 10"><path d="M1 5.5 L4 8.5 L11 1" fill="none" stroke="#00d000" stroke-width="2"/></svg>
<svg style="position:absolute;left:329px;top:520px" width="12" height="10" viewBox="0 0 12 10"><path d="M1 5.5 L4 8.5 L11 1" fill="none" stroke="#00d000" stroke-width="2"/></svg>

<div class="ch" style="left:4px;top:535px"><div class="in"><div class="hd" style="background:#ffff00"><i>C1</i><span class="tg"><b style="color:#ffff00">BwL</b><b style="color:#ffff00">DC1M</b></span></div><div class="ln">1.00 V/div</div><div class="ln">0 mV offset</div></div></div>
<div class="ch" style="left:104px;top:535px"><div class="in"><div class="hd" style="background:#ff0a8c"><i>C2</i><span class="tg"><b style="color:#ff0a8c">BwL</b><b style="color:#ff0a8c">DC</b></span></div><div class="ln">1.00 V/div</div><div class="ln">0 mV offset</div></div></div>
<div class="ch" style="left:204px;top:535px"><div class="in"><div class="hd" style="background:#00ffff"><i>C3</i><span class="tg"><b style="color:#00ffff">BwL</b><b style="color:#00ffff">DC</b></span></div><div class="ln">1.00 V/div</div><div class="ln">0 mV offset</div></div></div>
<div class="ch act" style="left:304px;top:535px;background:#00ff00"><div class="in"><div class="hd" style="background:#00ff00"><i>C4</i><span class="tg"><b style="color:#00ff00">BwL</b><b style="color:#00ff00">DC1M</b></span></div><div class="ln" style="color:#000">1.00 V/div</div><div class="ln" style="color:#000">0 mV offset</div></div></div>

<div class="tb" style="left:583px;width:112px"><div class="hd"></div>
<span style="left:1.5px;top:-1px;color:#000">Timebase</span><span style="right:0;top:-1px;color:#000">-5.84 µs</span>
<span style="right:0;top:15px">2.00 µs/div</span>
<span style="left:1px;top:29px">100 kS</span><span style="right:1px;top:29px">5.0 GS/s</span></div>
<div class="tb" style="left:698px;width:96px"><div class="hd"></div>
<span style="left:2px;top:-1px;color:#000">Trigger</span><span class="k" style="right:21px">C1</span><span class="k" style="right:1.5px">DC</span>
<span style="left:2px;top:15px">Normal</span><span style="right:0px;top:15px">2.81 V</span>
<span style="left:2px;top:29px">Qualified</span><span style="right:0px;top:29px">Neg</span></div>

<div class="m" style="left:676px;top:584.5px;color:#fff;letter-spacing:0.16px">Waiting for Trigger</div>
<div class="lc" style="position:absolute;left:9px;top:581px;font-size:15.5px;line-height:17px;font-weight:bold;color:#1428ff;text-decoration:underline">LeCroy</div>
</body></html>
